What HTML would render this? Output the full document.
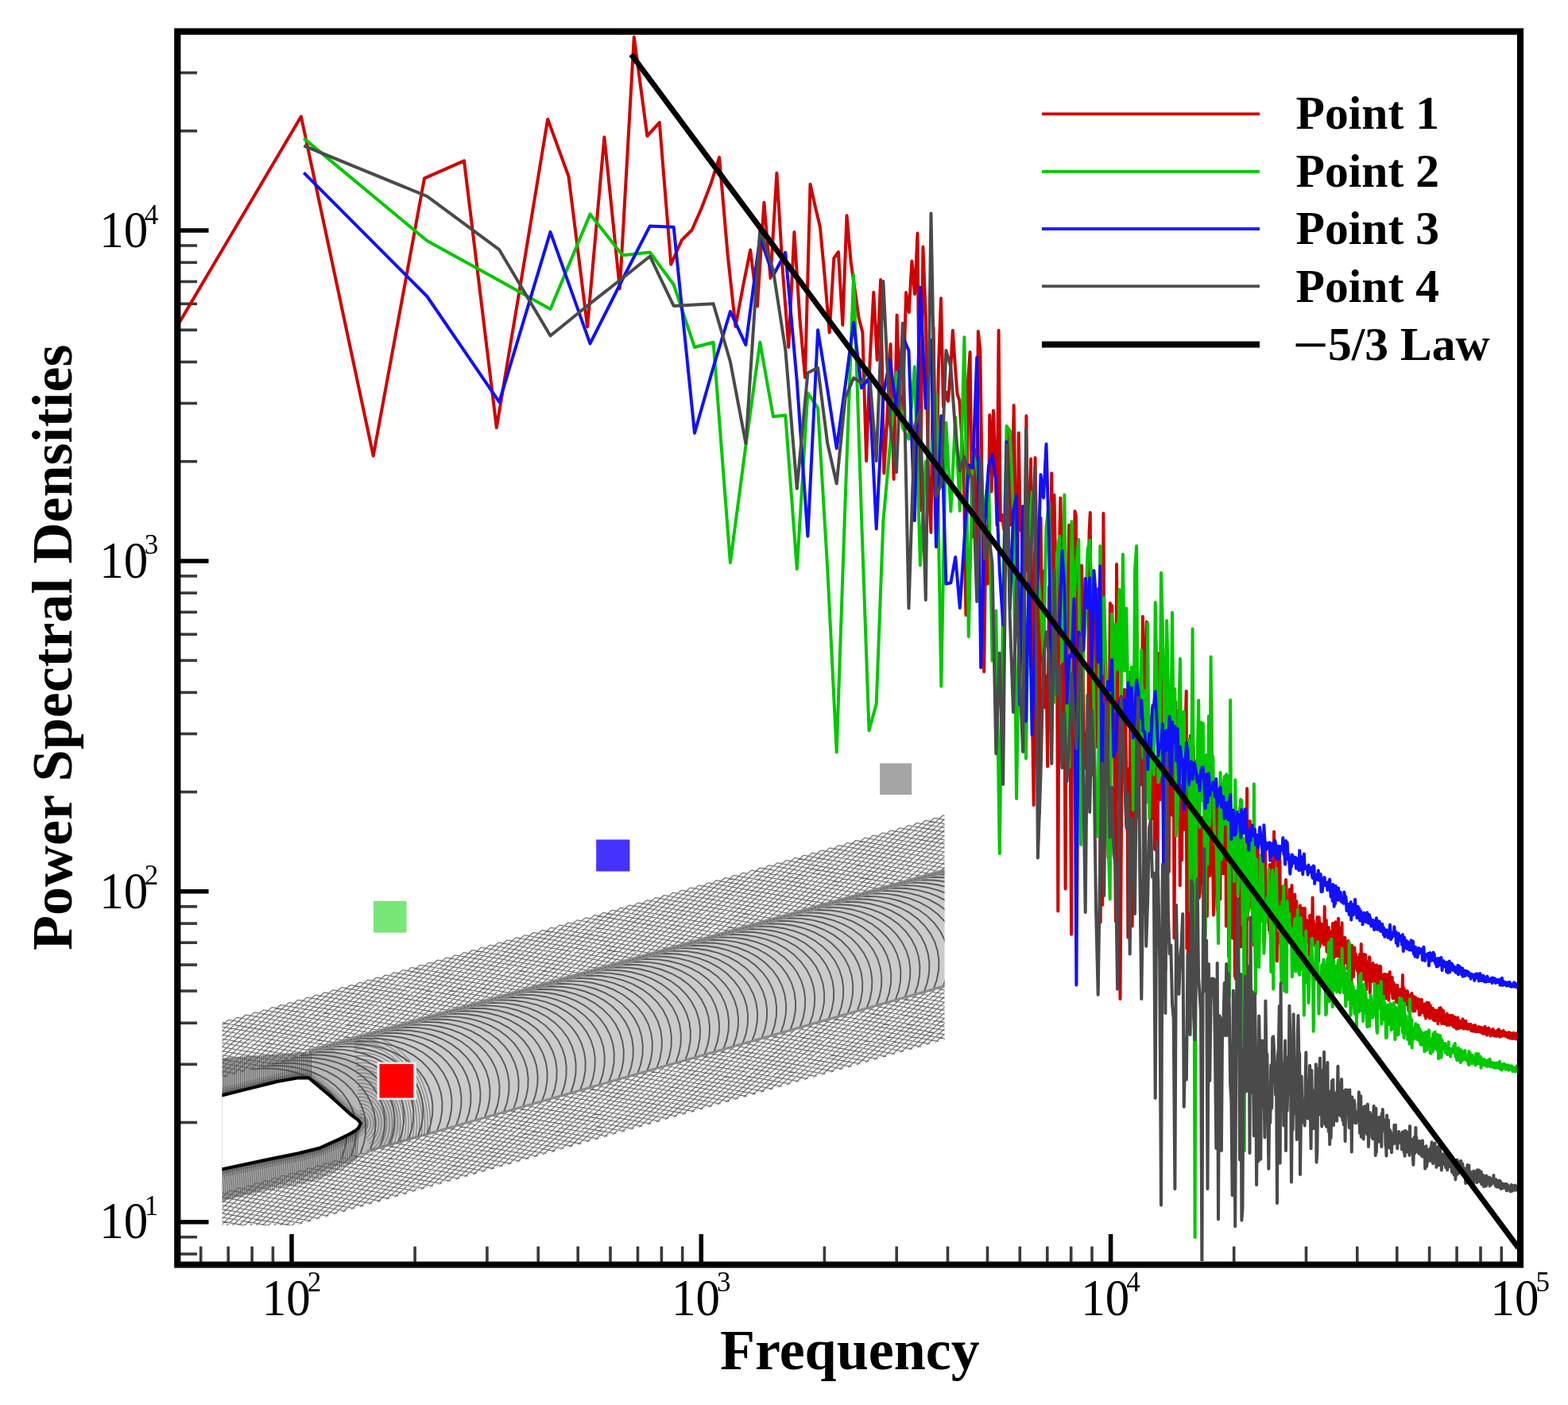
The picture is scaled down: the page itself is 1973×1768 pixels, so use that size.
<!DOCTYPE html>
<html><head><meta charset="utf-8"><title>Power Spectral Densities</title>
<style>html,body{margin:0;padding:0;background:#fff;}svg{display:block;}</style></head>
<body><svg xmlns="http://www.w3.org/2000/svg" width="1973" height="1768" viewBox="0 0 1973 1768">
<g>
<rect width="1973" height="1768" fill="#fff"/>
<line x1="223.3" y1="1578.0" x2="248" y2="1578.0" stroke="#3a3a3a" stroke-width="3.6"/>
<line x1="223.3" y1="1556.7" x2="248" y2="1556.7" stroke="#3a3a3a" stroke-width="3.6"/>
<line x1="223.3" y1="1537.7" x2="262.5" y2="1537.7" stroke="#000" stroke-width="5.5"/>
<line x1="223.3" y1="1412.5" x2="248" y2="1412.5" stroke="#3a3a3a" stroke-width="3.6"/>
<line x1="223.3" y1="1339.3" x2="248" y2="1339.3" stroke="#3a3a3a" stroke-width="3.6"/>
<line x1="223.3" y1="1287.3" x2="248" y2="1287.3" stroke="#3a3a3a" stroke-width="3.6"/>
<line x1="223.3" y1="1247.0" x2="248" y2="1247.0" stroke="#3a3a3a" stroke-width="3.6"/>
<line x1="223.3" y1="1214.1" x2="248" y2="1214.1" stroke="#3a3a3a" stroke-width="3.6"/>
<line x1="223.3" y1="1186.2" x2="248" y2="1186.2" stroke="#3a3a3a" stroke-width="3.6"/>
<line x1="223.3" y1="1162.1" x2="248" y2="1162.1" stroke="#3a3a3a" stroke-width="3.6"/>
<line x1="223.3" y1="1140.8" x2="248" y2="1140.8" stroke="#3a3a3a" stroke-width="3.6"/>
<line x1="223.3" y1="1121.8" x2="262.5" y2="1121.8" stroke="#000" stroke-width="5.5"/>
<line x1="223.3" y1="996.6" x2="248" y2="996.6" stroke="#3a3a3a" stroke-width="3.6"/>
<line x1="223.3" y1="923.4" x2="248" y2="923.4" stroke="#3a3a3a" stroke-width="3.6"/>
<line x1="223.3" y1="871.4" x2="248" y2="871.4" stroke="#3a3a3a" stroke-width="3.6"/>
<line x1="223.3" y1="831.1" x2="248" y2="831.1" stroke="#3a3a3a" stroke-width="3.6"/>
<line x1="223.3" y1="798.2" x2="248" y2="798.2" stroke="#3a3a3a" stroke-width="3.6"/>
<line x1="223.3" y1="770.3" x2="248" y2="770.3" stroke="#3a3a3a" stroke-width="3.6"/>
<line x1="223.3" y1="746.2" x2="248" y2="746.2" stroke="#3a3a3a" stroke-width="3.6"/>
<line x1="223.3" y1="724.9" x2="248" y2="724.9" stroke="#3a3a3a" stroke-width="3.6"/>
<line x1="223.3" y1="705.9" x2="262.5" y2="705.9" stroke="#000" stroke-width="5.5"/>
<line x1="223.3" y1="580.7" x2="248" y2="580.7" stroke="#3a3a3a" stroke-width="3.6"/>
<line x1="223.3" y1="507.5" x2="248" y2="507.5" stroke="#3a3a3a" stroke-width="3.6"/>
<line x1="223.3" y1="455.5" x2="248" y2="455.5" stroke="#3a3a3a" stroke-width="3.6"/>
<line x1="223.3" y1="415.2" x2="248" y2="415.2" stroke="#3a3a3a" stroke-width="3.6"/>
<line x1="223.3" y1="382.3" x2="248" y2="382.3" stroke="#3a3a3a" stroke-width="3.6"/>
<line x1="223.3" y1="354.4" x2="248" y2="354.4" stroke="#3a3a3a" stroke-width="3.6"/>
<line x1="223.3" y1="330.3" x2="248" y2="330.3" stroke="#3a3a3a" stroke-width="3.6"/>
<line x1="223.3" y1="309.0" x2="248" y2="309.0" stroke="#3a3a3a" stroke-width="3.6"/>
<line x1="223.3" y1="290.0" x2="262.5" y2="290.0" stroke="#000" stroke-width="5.5"/>
<line x1="223.3" y1="164.8" x2="248" y2="164.8" stroke="#3a3a3a" stroke-width="3.6"/>
<line x1="223.3" y1="91.6" x2="248" y2="91.6" stroke="#3a3a3a" stroke-width="3.6"/>
<line x1="252.7" y1="1591.5" x2="252.7" y2="1568.5" stroke="#3a3a3a" stroke-width="3.6"/>
<line x1="287.2" y1="1591.5" x2="287.2" y2="1568.5" stroke="#3a3a3a" stroke-width="3.6"/>
<line x1="317.1" y1="1591.5" x2="317.1" y2="1568.5" stroke="#3a3a3a" stroke-width="3.6"/>
<line x1="343.4" y1="1591.5" x2="343.4" y2="1568.5" stroke="#3a3a3a" stroke-width="3.6"/>
<line x1="367.0" y1="1591.5" x2="367.0" y2="1553" stroke="#000" stroke-width="5.5"/>
<line x1="522.1" y1="1591.5" x2="522.1" y2="1568.5" stroke="#3a3a3a" stroke-width="3.6"/>
<line x1="612.9" y1="1591.5" x2="612.9" y2="1568.5" stroke="#3a3a3a" stroke-width="3.6"/>
<line x1="677.2" y1="1591.5" x2="677.2" y2="1568.5" stroke="#3a3a3a" stroke-width="3.6"/>
<line x1="727.2" y1="1591.5" x2="727.2" y2="1568.5" stroke="#3a3a3a" stroke-width="3.6"/>
<line x1="768.0" y1="1591.5" x2="768.0" y2="1568.5" stroke="#3a3a3a" stroke-width="3.6"/>
<line x1="802.5" y1="1591.5" x2="802.5" y2="1568.5" stroke="#3a3a3a" stroke-width="3.6"/>
<line x1="832.4" y1="1591.5" x2="832.4" y2="1568.5" stroke="#3a3a3a" stroke-width="3.6"/>
<line x1="858.7" y1="1591.5" x2="858.7" y2="1568.5" stroke="#3a3a3a" stroke-width="3.6"/>
<line x1="882.3" y1="1591.5" x2="882.3" y2="1553" stroke="#000" stroke-width="5.5"/>
<line x1="1037.4" y1="1591.5" x2="1037.4" y2="1568.5" stroke="#3a3a3a" stroke-width="3.6"/>
<line x1="1128.2" y1="1591.5" x2="1128.2" y2="1568.5" stroke="#3a3a3a" stroke-width="3.6"/>
<line x1="1192.5" y1="1591.5" x2="1192.5" y2="1568.5" stroke="#3a3a3a" stroke-width="3.6"/>
<line x1="1242.5" y1="1591.5" x2="1242.5" y2="1568.5" stroke="#3a3a3a" stroke-width="3.6"/>
<line x1="1283.3" y1="1591.5" x2="1283.3" y2="1568.5" stroke="#3a3a3a" stroke-width="3.6"/>
<line x1="1317.8" y1="1591.5" x2="1317.8" y2="1568.5" stroke="#3a3a3a" stroke-width="3.6"/>
<line x1="1347.7" y1="1591.5" x2="1347.7" y2="1568.5" stroke="#3a3a3a" stroke-width="3.6"/>
<line x1="1374.0" y1="1591.5" x2="1374.0" y2="1568.5" stroke="#3a3a3a" stroke-width="3.6"/>
<line x1="1397.6" y1="1591.5" x2="1397.6" y2="1553" stroke="#000" stroke-width="5.5"/>
<line x1="1552.7" y1="1591.5" x2="1552.7" y2="1568.5" stroke="#3a3a3a" stroke-width="3.6"/>
<line x1="1643.5" y1="1591.5" x2="1643.5" y2="1568.5" stroke="#3a3a3a" stroke-width="3.6"/>
<line x1="1707.8" y1="1591.5" x2="1707.8" y2="1568.5" stroke="#3a3a3a" stroke-width="3.6"/>
<line x1="1757.8" y1="1591.5" x2="1757.8" y2="1568.5" stroke="#3a3a3a" stroke-width="3.6"/>
<line x1="1798.6" y1="1591.5" x2="1798.6" y2="1568.5" stroke="#3a3a3a" stroke-width="3.6"/>
<line x1="1833.1" y1="1591.5" x2="1833.1" y2="1568.5" stroke="#3a3a3a" stroke-width="3.6"/>
<line x1="1863.0" y1="1591.5" x2="1863.0" y2="1568.5" stroke="#3a3a3a" stroke-width="3.6"/>
<line x1="1889.3" y1="1591.5" x2="1889.3" y2="1568.5" stroke="#3a3a3a" stroke-width="3.6"/>
<defs><clipPath id="mc"><rect x="279.5" y="1000" width="909" height="542"/></clipPath></defs>
<g clip-path="url(#mc)">
<polygon points="183.3,1313.0 1202.5,1021.5 1277.3,1283.0 258.1,1574.5" fill="#f2f2f2"/>
<polygon points="336.7,1339.9 1221.2,1086.9 1259.5,1220.5 432.6,1457.0" fill="#cbcbcb"/>
<polygon points="270.0,1331.8 279.5,1331.4 388.6,1323.5 420.0,1322.0 470.0,1345.0 500.0,1385.0 505.0,1420.0 490.0,1440.0 440.0,1462.0 380.0,1482.0 320.0,1500.0 280.0,1512.0 270.0,1515.0" fill="#b8b8b8"/>
<path d="M-8.9 1368.0 L143.8 1395.0 M-8.9 1368.0 L-124.3 1471.7 M2.0 1364.9 L154.8 1391.9 M2.0 1364.9 L-113.3 1468.6 M13.0 1361.7 L165.7 1388.8 M13.0 1361.7 L-102.4 1465.4 M24.0 1358.6 L176.7 1385.6 M24.0 1358.6 L-91.4 1462.3 M34.9 1355.5 L187.7 1382.5 M34.9 1355.5 L-80.4 1459.2 M45.9 1352.3 L198.6 1379.4 M45.9 1352.3 L-69.5 1456.0 M56.9 1349.2 L209.6 1376.2 M56.9 1349.2 L-58.5 1452.9 M67.8 1346.0 L220.6 1373.1 M67.8 1346.0 L-47.5 1449.8 M78.8 1342.9 L231.5 1369.9 M78.8 1342.9 L-36.6 1446.6 M89.8 1339.8 L242.5 1366.8 M89.8 1339.8 L-25.6 1443.5 M100.7 1336.6 L253.5 1363.7 M100.7 1336.6 L-14.6 1440.4 M111.7 1333.5 L264.4 1360.5 M111.7 1333.5 L-3.7 1437.2 M122.7 1330.4 L275.4 1357.4 M122.7 1330.4 L7.3 1434.1 M133.6 1327.2 L286.4 1354.3 M133.6 1327.2 L18.3 1430.9 M144.6 1324.1 L297.3 1351.1 M144.6 1324.1 L29.2 1427.8 M155.6 1321.0 L308.3 1348.0 M155.6 1321.0 L40.2 1424.7 M166.5 1317.8 L319.3 1344.9 M166.5 1317.8 L51.2 1421.5 M177.5 1314.7 L330.2 1341.7 M177.5 1314.7 L62.1 1418.4 M188.5 1311.5 L341.2 1338.6 M188.5 1311.5 L73.1 1415.3 M199.4 1308.4 L352.2 1335.4 M199.4 1308.4 L84.1 1412.1 M210.4 1305.3 L363.1 1332.3 M210.4 1305.3 L95.0 1409.0 M221.4 1302.1 L374.1 1329.2 M221.4 1302.1 L106.0 1405.9 M232.3 1299.0 L385.1 1326.0 M232.3 1299.0 L117.0 1402.7 M243.3 1295.9 L396.0 1322.9 M243.3 1295.9 L127.9 1399.6 M254.3 1292.7 L407.0 1319.8 M254.3 1292.7 L138.9 1396.4 M265.2 1289.6 L418.0 1316.6 M265.2 1289.6 L149.9 1393.3 M276.2 1286.4 L428.9 1313.5 M276.2 1286.4 L160.8 1390.2 M287.2 1283.3 L439.9 1310.4 M287.2 1283.3 L171.8 1387.0 M298.1 1280.2 L450.9 1307.2 M298.1 1280.2 L182.8 1383.9 M309.1 1277.0 L461.8 1304.1 M309.1 1277.0 L193.7 1380.8 M320.1 1273.9 L472.8 1300.9 M320.1 1273.9 L204.7 1377.6 M331.0 1270.8 L483.8 1297.8 M331.0 1270.8 L215.7 1374.5 M342.0 1267.6 L494.7 1294.7 M342.0 1267.6 L226.6 1371.4 M353.0 1264.5 L505.7 1291.5 M353.0 1264.5 L237.6 1368.2 M363.9 1261.4 L516.7 1288.4 M363.9 1261.4 L248.6 1365.1 M374.9 1258.2 L527.6 1285.3 M374.9 1258.2 L259.5 1361.9 M385.9 1255.1 L538.6 1282.1 M385.9 1255.1 L270.5 1358.8 M396.8 1251.9 L549.6 1279.0 M396.8 1251.9 L281.5 1355.7 M407.8 1248.8 L560.5 1275.9 M407.8 1248.8 L292.4 1352.5 M418.8 1245.7 L571.5 1272.7 M418.8 1245.7 L303.4 1349.4 M429.7 1242.5 L582.5 1269.6 M429.7 1242.5 L314.4 1346.3 M440.7 1239.4 L593.4 1266.4 M440.7 1239.4 L325.3 1343.1 M451.7 1236.3 L604.4 1263.3 M451.7 1236.3 L336.3 1340.0 M462.6 1233.1 L615.4 1260.2 M462.6 1233.1 L347.3 1336.8 M473.6 1230.0 L626.3 1257.0 M473.6 1230.0 L358.2 1333.7 M484.6 1226.9 L637.3 1253.9 M484.6 1226.9 L369.2 1330.6 M495.5 1223.7 L648.3 1250.8 M495.5 1223.7 L380.2 1327.4 M506.5 1220.6 L659.2 1247.6 M506.5 1220.6 L391.1 1324.3 M517.5 1217.4 L670.2 1244.5 M517.5 1217.4 L402.1 1321.2 M528.4 1214.3 L681.2 1241.3 M528.4 1214.3 L413.1 1318.0 M539.4 1211.2 L692.1 1238.2 M539.4 1211.2 L424.0 1314.9 M550.4 1208.0 L703.1 1235.1 M550.4 1208.0 L435.0 1311.8 M561.3 1204.9 L714.1 1231.9 M561.3 1204.9 L446.0 1308.6 M572.3 1201.8 L725.0 1228.8 M572.3 1201.8 L456.9 1305.5 M583.3 1198.6 L736.0 1225.7 M583.3 1198.6 L467.9 1302.3 M594.2 1195.5 L747.0 1222.5 M594.2 1195.5 L478.9 1299.2 M605.2 1192.3 L757.9 1219.4 M605.2 1192.3 L489.8 1296.1 M616.2 1189.2 L768.9 1216.3 M616.2 1189.2 L500.8 1292.9 M627.1 1186.1 L779.9 1213.1 M627.1 1186.1 L511.8 1289.8 M638.1 1182.9 L790.8 1210.0 M638.1 1182.9 L522.7 1286.7 M649.1 1179.8 L801.8 1206.8 M649.1 1179.8 L533.7 1283.5 M660.0 1176.7 L812.8 1203.7 M660.0 1176.7 L544.7 1280.4 M671.0 1173.5 L823.7 1200.6 M671.0 1173.5 L555.6 1277.3 M682.0 1170.4 L834.7 1197.4 M682.0 1170.4 L566.6 1274.1 M692.9 1167.3 L845.7 1194.3 M692.9 1167.3 L577.6 1271.0 M703.9 1164.1 L856.6 1191.2 M703.9 1164.1 L588.5 1267.8 M714.9 1161.0 L867.6 1188.0 M714.9 1161.0 L599.5 1264.7 M725.8 1157.8 L878.6 1184.9 M725.8 1157.8 L610.5 1261.6 M736.8 1154.7 L889.5 1181.8 M736.8 1154.7 L621.4 1258.4 M747.8 1151.6 L900.5 1178.6 M747.8 1151.6 L632.4 1255.3 M758.7 1148.4 L911.5 1175.5 M758.7 1148.4 L643.4 1252.2 M769.7 1145.3 L922.4 1172.3 M769.7 1145.3 L654.3 1249.0 M780.7 1142.2 L933.4 1169.2 M780.7 1142.2 L665.3 1245.9 M791.6 1139.0 L944.4 1166.1 M791.6 1139.0 L676.3 1242.8 M802.6 1135.9 L955.3 1162.9 M802.6 1135.9 L687.2 1239.6 M813.6 1132.8 L966.3 1159.8 M813.6 1132.8 L698.2 1236.5 M824.5 1129.6 L977.3 1156.7 M824.5 1129.6 L709.2 1233.3 M835.5 1126.5 L988.2 1153.5 M835.5 1126.5 L720.1 1230.2 M846.5 1123.3 L999.2 1150.4 M846.5 1123.3 L731.1 1227.1 M857.4 1120.2 L1010.2 1147.2 M857.4 1120.2 L742.1 1223.9 M868.4 1117.1 L1021.1 1144.1 M868.4 1117.1 L753.0 1220.8 M879.4 1113.9 L1032.1 1141.0 M879.4 1113.9 L764.0 1217.7 M890.3 1110.8 L1043.1 1137.8 M890.3 1110.8 L775.0 1214.5 M901.3 1107.7 L1054.0 1134.7 M901.3 1107.7 L785.9 1211.4 M912.3 1104.5 L1065.0 1131.6 M912.3 1104.5 L796.9 1208.2 M923.2 1101.4 L1076.0 1128.4 M923.2 1101.4 L807.9 1205.1 M934.2 1098.3 L1086.9 1125.3 M934.2 1098.3 L818.8 1202.0 M945.2 1095.1 L1097.9 1122.2 M945.2 1095.1 L829.8 1198.8 M956.1 1092.0 L1108.9 1119.0 M956.1 1092.0 L840.8 1195.7 M967.1 1088.8 L1119.8 1115.9 M967.1 1088.8 L851.7 1192.6 M978.1 1085.7 L1130.8 1112.7 M978.1 1085.7 L862.7 1189.4 M989.0 1082.6 L1141.8 1109.6 M989.0 1082.6 L873.7 1186.3 M1000.0 1079.4 L1152.7 1106.5 M1000.0 1079.4 L884.6 1183.2 M1011.0 1076.3 L1163.7 1103.3 M1011.0 1076.3 L895.6 1180.0 M1021.9 1073.2 L1174.7 1100.2 M1021.9 1073.2 L906.6 1176.9 M1032.9 1070.0 L1185.6 1097.1 M1032.9 1070.0 L917.5 1173.7 M1043.9 1066.9 L1196.6 1093.9 M1043.9 1066.9 L928.5 1170.6 M1054.8 1063.7 L1207.6 1090.8 M1054.8 1063.7 L939.5 1167.5 M1065.8 1060.6 L1218.5 1087.7 M1065.8 1060.6 L950.4 1164.3 M1076.8 1057.5 L1229.5 1084.5 M1076.8 1057.5 L961.4 1161.2 M1087.7 1054.3 L1240.5 1081.4 M1087.7 1054.3 L972.4 1158.1 M1098.7 1051.2 L1251.4 1078.2 M1098.7 1051.2 L983.3 1154.9 M1109.7 1048.1 L1262.4 1075.1 M1109.7 1048.1 L994.3 1151.8 M1120.6 1044.9 L1273.4 1072.0 M1120.6 1044.9 L1005.3 1148.7 M1131.6 1041.8 L1284.3 1068.8 M1131.6 1041.8 L1016.2 1145.5 M1142.6 1038.7 L1295.3 1065.7 M1142.6 1038.7 L1027.2 1142.4 M1153.5 1035.5 L1306.3 1062.6 M1153.5 1035.5 L1038.2 1139.2 M1164.5 1032.4 L1317.2 1059.4 M1164.5 1032.4 L1049.1 1136.1 M1175.5 1029.2 L1328.2 1056.3 M1175.5 1029.2 L1060.1 1133.0 M1186.4 1026.1 L1339.2 1053.2 M1186.4 1026.1 L1071.1 1129.8 M1197.4 1023.0 L1350.1 1050.0 M1197.4 1023.0 L1082.0 1126.7 M1208.4 1019.8 L1361.1 1046.9 M1208.4 1019.8 L1093.0 1123.6 M1219.3 1016.7 L1372.1 1043.7 M1219.3 1016.7 L1104.0 1120.4 M1230.3 1013.6 L1383.0 1040.6 M1230.3 1013.6 L1114.9 1117.3 M1241.3 1010.4 L1394.0 1037.5 M1241.3 1010.4 L1125.9 1114.1 M1252.2 1007.3 L1405.0 1034.3 M1252.2 1007.3 L1136.9 1111.0 M1263.2 1004.2 L1415.9 1031.2 M1263.2 1004.2 L1147.8 1107.9 M1274.2 1001.0 L1426.9 1028.1 M1274.2 1001.0 L1158.8 1104.7 M1285.1 997.9 L1437.9 1024.9 M1285.1 997.9 L1169.8 1101.6 M1296.1 994.7 L1448.8 1021.8 M1296.1 994.7 L1180.7 1098.5 M1307.1 991.6 L1459.8 1018.6 M1307.1 991.6 L1191.7 1095.3 M1318.0 988.5 L1470.8 1015.5 M1318.0 988.5 L1202.7 1092.2 M1329.0 985.3 L1481.7 1012.4 M1329.0 985.3 L1213.6 1089.1 M1340.0 982.2 L1492.7 1009.2 M1340.0 982.2 L1224.6 1085.9 M1350.9 979.1 L1503.7 1006.1 M1350.9 979.1 L1235.6 1082.8 M1361.9 975.9 L1514.6 1003.0 M1361.9 975.9 L1246.5 1079.6 M1372.9 972.8 L1525.6 999.8 M1372.9 972.8 L1257.5 1076.5 M1383.8 969.7 L1536.6 996.7 M1383.8 969.7 L1268.5 1073.4 M1394.8 966.5 L1547.5 993.6 M1394.8 966.5 L1279.4 1070.2" stroke="#666" stroke-width="1.05" fill="none"/>
<path d="M48.0 1567.0 L194.0 1592.9 M48.0 1567.0 L-62.3 1666.2 M58.9 1563.9 L205.0 1589.7 M58.9 1563.9 L-51.3 1663.0 M69.9 1560.8 L215.9 1586.6 M69.9 1560.8 L-40.4 1659.9 M80.9 1557.6 L226.9 1583.5 M80.9 1557.6 L-29.4 1656.8 M91.8 1554.5 L237.9 1580.3 M91.8 1554.5 L-18.4 1653.6 M102.8 1551.3 L248.8 1577.2 M102.8 1551.3 L-7.5 1650.5 M113.8 1548.2 L259.8 1574.1 M113.8 1548.2 L3.5 1647.4 M124.7 1545.1 L270.8 1570.9 M124.7 1545.1 L14.5 1644.2 M135.7 1541.9 L281.7 1567.8 M135.7 1541.9 L25.4 1641.1 M146.7 1538.8 L292.7 1564.6 M146.7 1538.8 L36.4 1637.9 M157.6 1535.7 L303.7 1561.5 M157.6 1535.7 L47.4 1634.8 M168.6 1532.5 L314.6 1558.4 M168.6 1532.5 L58.3 1631.7 M179.6 1529.4 L325.6 1555.2 M179.6 1529.4 L69.3 1628.5 M190.5 1526.3 L336.6 1552.1 M190.5 1526.3 L80.3 1625.4 M201.5 1523.1 L347.5 1549.0 M201.5 1523.1 L91.2 1622.3 M212.5 1520.0 L358.5 1545.8 M212.5 1520.0 L102.2 1619.1 M223.4 1516.8 L369.5 1542.7 M223.4 1516.8 L113.2 1616.0 M234.4 1513.7 L380.4 1539.6 M234.4 1513.7 L124.1 1612.9 M245.4 1510.6 L391.4 1536.4 M245.4 1510.6 L135.1 1609.7 M256.3 1507.4 L402.4 1533.3 M256.3 1507.4 L146.1 1606.6 M267.3 1504.3 L413.3 1530.1 M267.3 1504.3 L157.0 1603.4 M278.3 1501.2 L424.3 1527.0 M278.3 1501.2 L168.0 1600.3 M289.2 1498.0 L435.3 1523.9 M289.2 1498.0 L179.0 1597.2 M300.2 1494.9 L446.2 1520.7 M300.2 1494.9 L189.9 1594.0 M311.2 1491.8 L457.2 1517.6 M311.2 1491.8 L200.9 1590.9 M322.1 1488.6 L468.2 1514.5 M322.1 1488.6 L211.9 1587.8 M333.1 1485.5 L479.1 1511.3 M333.1 1485.5 L222.8 1584.6 M344.1 1482.3 L490.1 1508.2 M344.1 1482.3 L233.8 1581.5 M355.0 1479.2 L501.1 1505.1 M355.0 1479.2 L244.8 1578.4 M366.0 1476.1 L512.0 1501.9 M366.0 1476.1 L255.7 1575.2 M377.0 1472.9 L523.0 1498.8 M377.0 1472.9 L266.7 1572.1 M387.9 1469.8 L534.0 1495.6 M387.9 1469.8 L277.7 1568.9 M398.9 1466.7 L544.9 1492.5 M398.9 1466.7 L288.6 1565.8 M409.9 1463.5 L555.9 1489.4 M409.9 1463.5 L299.6 1562.7 M420.8 1460.4 L566.9 1486.2 M420.8 1460.4 L310.6 1559.5 M431.8 1457.2 L577.8 1483.1 M431.8 1457.2 L321.5 1556.4 M442.8 1454.1 L588.8 1480.0 M442.8 1454.1 L332.5 1553.3 M453.7 1451.0 L599.8 1476.8 M453.7 1451.0 L343.5 1550.1 M464.7 1447.8 L610.7 1473.7 M464.7 1447.8 L354.4 1547.0 M475.7 1444.7 L621.7 1470.6 M475.7 1444.7 L365.4 1543.8 M486.6 1441.6 L632.7 1467.4 M486.6 1441.6 L376.4 1540.7 M497.6 1438.4 L643.6 1464.3 M497.6 1438.4 L387.3 1537.6 M508.6 1435.3 L654.6 1461.1 M508.6 1435.3 L398.3 1534.4 M519.5 1432.2 L665.6 1458.0 M519.5 1432.2 L409.3 1531.3 M530.5 1429.0 L676.5 1454.9 M530.5 1429.0 L420.2 1528.2 M541.5 1425.9 L687.5 1451.7 M541.5 1425.9 L431.2 1525.0 M552.4 1422.7 L698.5 1448.6 M552.4 1422.7 L442.2 1521.9 M563.4 1419.6 L709.4 1445.5 M563.4 1419.6 L453.1 1518.8 M574.4 1416.5 L720.4 1442.3 M574.4 1416.5 L464.1 1515.6 M585.3 1413.3 L731.4 1439.2 M585.3 1413.3 L475.1 1512.5 M596.3 1410.2 L742.3 1436.0 M596.3 1410.2 L486.0 1509.3 M607.3 1407.1 L753.3 1432.9 M607.3 1407.1 L497.0 1506.2 M618.2 1403.9 L764.3 1429.8 M618.2 1403.9 L508.0 1503.1 M629.2 1400.8 L775.2 1426.6 M629.2 1400.8 L518.9 1499.9 M640.2 1397.7 L786.2 1423.5 M640.2 1397.7 L529.9 1496.8 M651.1 1394.5 L797.2 1420.4 M651.1 1394.5 L540.9 1493.7 M662.1 1391.4 L808.1 1417.2 M662.1 1391.4 L551.8 1490.5 M673.1 1388.2 L819.1 1414.1 M673.1 1388.2 L562.8 1487.4 M684.0 1385.1 L830.1 1411.0 M684.0 1385.1 L573.8 1484.3 M695.0 1382.0 L841.0 1407.8 M695.0 1382.0 L584.7 1481.1 M706.0 1378.8 L852.0 1404.7 M706.0 1378.8 L595.7 1478.0 M716.9 1375.7 L863.0 1401.5 M716.9 1375.7 L606.7 1474.8 M727.9 1372.6 L873.9 1398.4 M727.9 1372.6 L617.6 1471.7 M738.9 1369.4 L884.9 1395.3 M738.9 1369.4 L628.6 1468.6 M749.8 1366.3 L895.9 1392.1 M749.8 1366.3 L639.6 1465.4 M760.8 1363.2 L906.8 1389.0 M760.8 1363.2 L650.5 1462.3 M771.8 1360.0 L917.8 1385.9 M771.8 1360.0 L661.5 1459.2 M782.7 1356.9 L928.8 1382.7 M782.7 1356.9 L672.5 1456.0 M793.7 1353.7 L939.7 1379.6 M793.7 1353.7 L683.4 1452.9 M804.7 1350.6 L950.7 1376.5 M804.7 1350.6 L694.4 1449.8 M815.6 1347.5 L961.7 1373.3 M815.6 1347.5 L705.4 1446.6 M826.6 1344.3 L972.6 1370.2 M826.6 1344.3 L716.3 1443.5 M837.6 1341.2 L983.6 1367.0 M837.6 1341.2 L727.3 1440.3 M848.5 1338.1 L994.6 1363.9 M848.5 1338.1 L738.3 1437.2 M859.5 1334.9 L1005.5 1360.8 M859.5 1334.9 L749.2 1434.1 M870.5 1331.8 L1016.5 1357.6 M870.5 1331.8 L760.2 1430.9 M881.4 1328.6 L1027.5 1354.5 M881.4 1328.6 L771.2 1427.8 M892.4 1325.5 L1038.4 1351.4 M892.4 1325.5 L782.1 1424.7 M903.4 1322.4 L1049.4 1348.2 M903.4 1322.4 L793.1 1421.5 M914.3 1319.2 L1060.4 1345.1 M914.3 1319.2 L804.1 1418.4 M925.3 1316.1 L1071.3 1341.9 M925.3 1316.1 L815.0 1415.2 M936.3 1313.0 L1082.3 1338.8 M936.3 1313.0 L826.0 1412.1 M947.2 1309.8 L1093.3 1335.7 M947.2 1309.8 L837.0 1409.0 M958.2 1306.7 L1104.2 1332.5 M958.2 1306.7 L848.0 1405.8 M969.2 1303.6 L1115.2 1329.4 M969.2 1303.6 L858.9 1402.7 M980.1 1300.4 L1126.2 1326.3 M980.1 1300.4 L869.9 1399.6 M991.1 1297.3 L1137.1 1323.1 M991.1 1297.3 L880.9 1396.4 M1002.1 1294.1 L1148.1 1320.0 M1002.1 1294.1 L891.8 1393.3 M1013.0 1291.0 L1159.1 1316.9 M1013.0 1291.0 L902.8 1390.2 M1024.0 1287.9 L1170.0 1313.7 M1024.0 1287.9 L913.8 1387.0 M1035.0 1284.7 L1181.0 1310.6 M1035.0 1284.7 L924.7 1383.9 M1045.9 1281.6 L1192.0 1307.4 M1045.9 1281.6 L935.7 1380.7 M1056.9 1278.5 L1202.9 1304.3 M1056.9 1278.5 L946.7 1377.6 M1067.9 1275.3 L1213.9 1301.2 M1067.9 1275.3 L957.6 1374.5 M1078.8 1272.2 L1224.9 1298.0 M1078.8 1272.2 L968.6 1371.3 M1089.8 1269.1 L1235.8 1294.9 M1089.8 1269.1 L979.6 1368.2 M1100.8 1265.9 L1246.8 1291.8 M1100.8 1265.9 L990.5 1365.1 M1111.7 1262.8 L1257.8 1288.6 M1111.7 1262.8 L1001.5 1361.9 M1122.7 1259.6 L1268.7 1285.5 M1122.7 1259.6 L1012.5 1358.8 M1133.7 1256.5 L1279.7 1282.4 M1133.7 1256.5 L1023.4 1355.7 M1144.6 1253.4 L1290.7 1279.2 M1144.6 1253.4 L1034.4 1352.5 M1155.6 1250.2 L1301.6 1276.1 M1155.6 1250.2 L1045.4 1349.4 M1166.6 1247.1 L1312.6 1272.9 M1166.6 1247.1 L1056.3 1346.2 M1177.5 1244.0 L1323.6 1269.8 M1177.5 1244.0 L1067.3 1343.1 M1188.5 1240.8 L1334.5 1266.7 M1188.5 1240.8 L1078.3 1340.0 M1199.5 1237.7 L1345.5 1263.5 M1199.5 1237.7 L1089.2 1336.8 M1210.4 1234.5 L1356.5 1260.4 M1210.4 1234.5 L1100.2 1333.7 M1221.4 1231.4 L1367.4 1257.3 M1221.4 1231.4 L1111.2 1330.6 M1232.4 1228.3 L1378.4 1254.1 M1232.4 1228.3 L1122.1 1327.4 M1243.3 1225.1 L1389.4 1251.0 M1243.3 1225.1 L1133.1 1324.3 M1254.3 1222.0 L1400.3 1247.9 M1254.3 1222.0 L1144.1 1321.1 M1265.3 1218.9 L1411.3 1244.7 M1265.3 1218.9 L1155.0 1318.0 M1276.2 1215.7 L1422.3 1241.6 M1276.2 1215.7 L1166.0 1314.9 M1287.2 1212.6 L1433.2 1238.4 M1287.2 1212.6 L1177.0 1311.7 M1298.2 1209.5 L1444.2 1235.3 M1298.2 1209.5 L1187.9 1308.6 M1309.1 1206.3 L1455.2 1232.2 M1309.1 1206.3 L1198.9 1305.5 M1320.1 1203.2 L1466.1 1229.0 M1320.1 1203.2 L1209.9 1302.3 M1331.1 1200.0 L1477.1 1225.9 M1331.1 1200.0 L1220.8 1299.2 M1342.0 1196.9 L1488.1 1222.8 M1342.0 1196.9 L1231.8 1296.1 M1353.0 1193.8 L1499.0 1219.6 M1353.0 1193.8 L1242.8 1292.9 M1364.0 1190.6 L1510.0 1216.5 M1364.0 1190.6 L1253.7 1289.8 M1374.9 1187.5 L1521.0 1213.3 M1374.9 1187.5 L1264.7 1286.6 M1385.9 1184.4 L1531.9 1210.2 M1385.9 1184.4 L1275.7 1283.5 M1396.9 1181.2 L1542.9 1207.1 M1396.9 1181.2 L1286.6 1280.4 M1407.9 1178.1 L1553.9 1203.9 M1407.9 1178.1 L1297.6 1277.2 M1418.8 1175.0 L1564.8 1200.8 M1418.8 1175.0 L1308.6 1274.1 M1429.8 1171.8 L1575.8 1197.7 M1429.8 1171.8 L1319.5 1271.0 M1440.8 1168.7 L1586.8 1194.5 M1440.8 1168.7 L1330.5 1267.8 M1451.7 1165.5 L1597.7 1191.4 M1451.7 1165.5 L1341.5 1264.7" stroke="#666" stroke-width="1.05" fill="none"/>
<path d="M317.4 1345.4 L332.5 1344.4 L347.4 1344.9 L361.7 1347.0 L375.4 1350.6 L388.1 1355.6 L399.7 1362.0 L410.0 1369.7 L418.7 1378.5 L425.8 1388.2 L431.2 1398.8 L434.7 1410.1 L436.3 1421.8 L435.9 1433.8 L433.7 1445.9 L429.5 1457.9 M329.4 1341.9 L344.5 1340.9 L359.4 1341.5 L373.8 1343.6 L387.4 1347.2 L400.1 1352.2 L411.7 1358.6 L422.0 1366.2 L430.7 1375.0 L437.8 1384.8 L443.2 1395.4 L446.7 1406.7 L448.3 1418.4 L447.9 1430.4 L445.7 1442.5 L441.5 1454.5 M341.5 1338.5 L356.6 1337.5 L371.4 1338.0 L385.8 1340.1 L399.4 1343.7 L412.2 1348.7 L423.8 1355.1 L434.0 1362.8 L442.8 1371.6 L449.9 1381.3 L455.2 1392.0 L458.7 1403.2 L460.3 1414.9 L460.0 1427.0 L457.7 1439.1 L453.6 1451.0 M353.5 1335.1 L368.6 1334.1 L383.4 1334.6 L397.8 1336.7 L411.5 1340.3 L424.2 1345.3 L435.8 1351.7 L446.0 1359.4 L454.8 1368.1 L461.9 1377.9 L467.2 1388.5 L470.7 1399.8 L472.3 1411.5 L472.0 1423.5 L469.7 1435.6 L465.6 1447.6 M365.5 1331.6 L380.6 1330.6 L395.4 1331.2 L409.8 1333.3 L423.5 1336.8 L436.2 1341.9 L447.8 1348.3 L458.0 1355.9 L466.8 1364.7 L473.9 1374.5 L479.2 1385.1 L482.7 1396.3 L484.3 1408.1 L484.0 1420.1 L481.7 1432.2 L477.6 1444.2 M377.5 1328.2 L392.6 1327.2 L407.5 1327.7 L421.8 1329.8 L435.5 1333.4 L448.2 1338.4 L459.8 1344.8 L470.1 1352.5 L478.8 1361.3 L485.9 1371.0 L491.3 1381.6 L494.8 1392.9 L496.4 1404.6 L496.0 1416.6 L493.8 1428.7 L489.6 1440.7 M389.5 1324.8 L404.6 1323.8 L419.5 1324.3 L433.9 1326.4 L447.5 1330.0 L460.2 1335.0 L471.8 1341.4 L482.1 1349.0 L490.8 1357.8 L497.9 1367.6 L503.3 1378.2 L506.8 1389.5 L508.4 1401.2 L508.0 1413.2 L505.8 1425.3 L501.6 1437.3 M401.6 1321.3 L416.6 1320.3 L431.5 1320.9 L445.9 1322.9 L459.5 1326.5 L472.3 1331.6 L483.8 1338.0 L494.1 1345.6 L502.8 1354.4 L510.0 1364.2 L515.3 1374.8 L518.8 1386.0 L520.4 1397.8 L520.1 1409.8 L517.8 1421.9 L513.6 1433.8 M413.6 1317.9 L428.7 1316.9 L443.5 1317.4 L457.9 1319.5 L471.6 1323.1 L484.3 1328.1 L495.9 1334.5 L506.1 1342.2 L514.9 1351.0 L522.0 1360.7 L527.3 1371.3 L530.8 1382.6 L532.4 1394.3 L532.1 1406.3 L529.8 1418.4 L525.7 1430.4 M425.6 1314.4 L440.7 1313.4 L455.5 1314.0 L469.9 1316.1 L483.6 1319.7 L496.3 1324.7 L507.9 1331.1 L518.1 1338.7 L526.9 1347.5 L534.0 1357.3 L539.3 1367.9 L542.8 1379.2 L544.4 1390.9 L544.1 1402.9 L541.8 1415.0 L537.7 1427.0 M437.6 1311.0 L452.7 1310.0 L467.6 1310.5 L481.9 1312.6 L495.6 1316.2 L508.3 1321.2 L519.9 1327.6 L530.2 1335.3 L538.9 1344.1 L546.0 1353.8 L551.4 1364.5 L554.9 1375.7 L556.5 1387.4 L556.1 1399.5 L553.9 1411.6 L549.7 1423.5 M449.6 1307.6 L464.7 1306.6 L479.6 1307.1 L493.9 1309.2 L507.6 1312.8 L520.3 1317.8 L531.9 1324.2 L542.2 1331.9 L550.9 1340.6 L558.0 1350.4 L563.4 1361.0 L566.9 1372.3 L568.5 1384.0 L568.1 1396.0 L565.9 1408.1 L561.7 1420.1 M461.7 1304.1 L476.7 1303.1 L491.6 1303.7 L506.0 1305.8 L519.6 1309.3 L532.4 1314.4 L543.9 1320.8 L554.2 1328.4 L562.9 1337.2 L570.0 1347.0 L575.4 1357.6 L578.9 1368.8 L580.5 1380.6 L580.2 1392.6 L577.9 1404.7 L573.7 1416.7 M473.7 1300.7 L488.8 1299.7 L503.6 1300.2 L518.0 1302.3 L531.6 1305.9 L544.4 1310.9 L556.0 1317.3 L566.2 1325.0 L575.0 1333.8 L582.1 1343.5 L587.4 1354.1 L590.9 1365.4 L592.5 1377.1 L592.2 1389.1 L589.9 1401.2 L585.8 1413.2 M485.7 1297.3 L500.8 1296.3 L515.6 1296.8 L530.0 1298.9 L543.7 1302.5 L556.4 1307.5 L568.0 1313.9 L578.2 1321.5 L587.0 1330.3 L594.1 1340.1 L599.4 1350.7 L602.9 1362.0 L604.5 1373.7 L604.2 1385.7 L601.9 1397.8 L597.8 1409.8 M497.7 1293.8 L512.8 1292.8 L527.6 1293.4 L542.0 1295.4 L555.7 1299.0 L568.4 1304.1 L580.0 1310.5 L590.2 1318.1 L599.0 1326.9 L606.1 1336.7 L611.5 1347.3 L614.9 1358.5 L616.5 1370.3 L616.2 1382.3 L613.9 1394.4 L609.8 1406.3 M509.7 1290.4 L524.8 1289.4 L539.7 1289.9 L554.0 1292.0 L567.7 1295.6 L580.4 1300.6 L592.0 1307.0 L602.3 1314.7 L611.0 1323.5 L618.1 1333.2 L623.5 1343.8 L627.0 1355.1 L628.6 1366.8 L628.2 1378.8 L626.0 1390.9 L621.8 1402.9 M521.7 1286.9 L536.8 1285.9 L551.7 1286.5 L566.1 1288.6 L579.7 1292.2 L592.4 1297.2 L604.0 1303.6 L614.3 1311.2 L623.0 1320.0 L630.1 1329.8 L635.5 1340.4 L639.0 1351.7 L640.6 1363.4 L640.2 1375.4 L638.0 1387.5 L633.8 1399.5 M533.8 1283.5 L548.9 1282.5 L563.7 1283.0 L578.1 1285.1 L591.7 1288.7 L604.5 1293.7 L616.1 1300.1 L626.3 1307.8 L635.1 1316.6 L642.2 1326.3 L647.5 1337.0 L651.0 1348.2 L652.6 1359.9 L652.3 1372.0 L650.0 1384.1 L645.9 1396.0 M545.8 1280.1 L560.9 1279.1 L575.7 1279.6 L590.1 1281.7 L603.8 1285.3 L616.5 1290.3 L628.1 1296.7 L638.3 1304.4 L647.1 1313.1 L654.2 1322.9 L659.5 1333.5 L663.0 1344.8 L664.6 1356.5 L664.3 1368.5 L662.0 1380.6 L657.9 1392.6 M557.8 1276.6 L572.9 1275.6 L587.7 1276.2 L602.1 1278.3 L615.8 1281.8 L628.5 1286.9 L640.1 1293.3 L650.3 1300.9 L659.1 1309.7 L666.2 1319.5 L671.5 1330.1 L675.0 1341.3 L676.6 1353.1 L676.3 1365.1 L674.0 1377.2 L669.9 1389.2 M569.8 1273.2 L584.9 1272.2 L599.8 1272.7 L614.1 1274.8 L627.8 1278.4 L640.5 1283.4 L652.1 1289.8 L662.4 1297.5 L671.1 1306.3 L678.2 1316.0 L683.6 1326.6 L687.1 1337.9 L688.7 1349.6 L688.3 1361.6 L686.1 1373.7 L681.9 1385.7 M581.8 1269.8 L596.9 1268.8 L611.8 1269.3 L626.2 1271.4 L639.8 1275.0 L652.5 1280.0 L664.1 1286.4 L674.4 1294.0 L683.1 1302.8 L690.2 1312.6 L695.6 1323.2 L699.1 1334.5 L700.7 1346.2 L700.3 1358.2 L698.1 1370.3 L693.9 1382.3 M593.9 1266.3 L608.9 1265.3 L623.8 1265.9 L638.2 1267.9 L651.8 1271.5 L664.6 1276.6 L676.1 1283.0 L686.4 1290.6 L695.1 1299.4 L702.3 1309.2 L707.6 1319.8 L711.1 1331.0 L712.7 1342.8 L712.4 1354.8 L710.1 1366.9 L705.9 1378.8 M605.9 1262.9 L621.0 1261.9 L635.8 1262.4 L650.2 1264.5 L663.9 1268.1 L676.6 1273.1 L688.2 1279.5 L698.4 1287.2 L707.2 1296.0 L714.3 1305.7 L719.6 1316.3 L723.1 1327.6 L724.7 1339.3 L724.4 1351.3 L722.1 1363.4 L718.0 1375.4 M617.9 1259.4 L633.0 1258.4 L647.8 1259.0 L662.2 1261.1 L675.9 1264.7 L688.6 1269.7 L700.2 1276.1 L710.4 1283.7 L719.2 1292.5 L726.3 1302.3 L731.6 1312.9 L735.1 1324.2 L736.7 1335.9 L736.4 1347.9 L734.1 1360.0 L730.0 1372.0 M629.9 1256.0 L645.0 1255.0 L659.9 1255.5 L674.2 1257.6 L687.9 1261.2 L700.6 1266.2 L712.2 1272.6 L722.5 1280.3 L731.2 1289.1 L738.3 1298.8 L743.7 1309.5 L747.2 1320.7 L748.8 1332.4 L748.4 1344.5 L746.2 1356.6 L742.0 1368.5 M641.9 1252.6 L657.0 1251.6 L671.9 1252.1 L686.2 1254.2 L699.9 1257.8 L712.6 1262.8 L724.2 1269.2 L734.5 1276.9 L743.2 1285.6 L750.3 1295.4 L755.7 1306.0 L759.2 1317.3 L760.8 1329.0 L760.4 1341.0 L758.2 1353.1 L754.0 1365.1 M654.0 1249.1 L669.0 1248.1 L683.9 1248.7 L698.3 1250.8 L711.9 1254.3 L724.7 1259.4 L736.2 1265.8 L746.5 1273.4 L755.2 1282.2 L762.3 1292.0 L767.7 1302.6 L771.2 1313.8 L772.8 1325.6 L772.5 1337.6 L770.2 1349.7 L766.0 1361.7 M666.0 1245.7 L681.1 1244.7 L695.9 1245.2 L710.3 1247.3 L723.9 1250.9 L736.7 1255.9 L748.3 1262.3 L758.5 1270.0 L767.3 1278.8 L774.4 1288.5 L779.7 1299.1 L783.2 1310.4 L784.8 1322.1 L784.5 1334.1 L782.2 1346.2 L778.1 1358.2 M678.0 1242.3 L693.1 1241.3 L707.9 1241.8 L722.3 1243.9 L736.0 1247.5 L748.7 1252.5 L760.3 1258.9 L770.5 1266.5 L779.3 1275.3 L786.4 1285.1 L791.7 1295.7 L795.2 1307.0 L796.8 1318.7 L796.5 1330.7 L794.2 1342.8 L790.1 1354.8 M690.0 1238.8 L705.1 1237.8 L719.9 1238.4 L734.3 1240.4 L748.0 1244.0 L760.7 1249.1 L772.3 1255.5 L782.5 1263.1 L791.3 1271.9 L798.4 1281.7 L803.8 1292.3 L807.2 1303.5 L808.8 1315.3 L808.5 1327.3 L806.2 1339.4 L802.1 1351.3 M702.0 1235.4 L717.1 1234.4 L732.0 1234.9 L746.3 1237.0 L760.0 1240.6 L772.7 1245.6 L784.3 1252.0 L794.6 1259.7 L803.3 1268.5 L810.4 1278.2 L815.8 1288.8 L819.3 1300.1 L820.9 1311.8 L820.5 1323.8 L818.3 1335.9 L814.1 1347.9 M714.0 1231.9 L729.1 1230.9 L744.0 1231.5 L758.4 1233.6 L772.0 1237.2 L784.7 1242.2 L796.3 1248.6 L806.6 1256.2 L815.3 1265.0 L822.4 1274.8 L827.8 1285.4 L831.3 1296.7 L832.9 1308.4 L832.5 1320.4 L830.3 1332.5 L826.1 1344.5 M726.1 1228.5 L741.2 1227.5 L756.0 1228.0 L770.4 1230.1 L784.0 1233.7 L796.8 1238.7 L808.4 1245.1 L818.6 1252.8 L827.4 1261.6 L834.5 1271.3 L839.8 1282.0 L843.3 1293.2 L844.9 1304.9 L844.6 1317.0 L842.3 1329.1 L838.2 1341.0 M738.1 1225.1 L753.2 1224.1 L768.0 1224.6 L782.4 1226.7 L796.1 1230.3 L808.8 1235.3 L820.4 1241.7 L830.6 1249.4 L839.4 1258.1 L846.5 1267.9 L851.8 1278.5 L855.3 1289.8 L856.9 1301.5 L856.6 1313.5 L854.3 1325.6 L850.2 1337.6 M750.1 1221.6 L765.2 1220.6 L780.0 1221.2 L794.4 1223.3 L808.1 1226.8 L820.8 1231.9 L832.4 1238.3 L842.6 1245.9 L851.4 1254.7 L858.5 1264.5 L863.8 1275.1 L867.3 1286.3 L868.9 1298.1 L868.6 1310.1 L866.3 1322.2 L862.2 1334.2 M762.1 1218.2 L777.2 1217.2 L792.1 1217.7 L806.4 1219.8 L820.1 1223.4 L832.8 1228.4 L844.4 1234.8 L854.7 1242.5 L863.4 1251.3 L870.5 1261.0 L875.9 1271.6 L879.4 1282.9 L881.0 1294.6 L880.6 1306.6 L878.4 1318.7 L874.2 1330.7 M774.1 1214.8 L789.2 1213.8 L804.1 1214.3 L818.5 1216.4 L832.1 1220.0 L844.8 1225.0 L856.4 1231.4 L866.7 1239.0 L875.4 1247.8 L882.5 1257.6 L887.9 1268.2 L891.4 1279.5 L893.0 1291.2 L892.6 1303.2 L890.4 1315.3 L886.2 1327.3 M786.2 1211.3 L801.2 1210.3 L816.1 1210.9 L830.5 1212.9 L844.1 1216.5 L856.9 1221.6 L868.4 1228.0 L878.7 1235.6 L887.4 1244.4 L894.6 1254.2 L899.9 1264.8 L903.4 1276.0 L905.0 1287.8 L904.7 1299.8 L902.4 1311.9 L898.2 1323.8 M798.2 1207.9 L813.3 1206.9 L828.1 1207.4 L842.5 1209.5 L856.2 1213.1 L868.9 1218.1 L880.5 1224.5 L890.7 1232.2 L899.5 1241.0 L906.6 1250.7 L911.9 1261.3 L915.4 1272.6 L917.0 1284.3 L916.7 1296.3 L914.4 1308.4 L910.3 1320.4 M810.2 1204.4 L825.3 1203.4 L840.1 1204.0 L854.5 1206.1 L868.2 1209.7 L880.9 1214.7 L892.5 1221.1 L902.7 1228.7 L911.5 1237.5 L918.6 1247.3 L923.9 1257.9 L927.4 1269.2 L929.0 1280.9 L928.7 1292.9 L926.4 1305.0 L922.3 1317.0 M822.2 1201.0 L837.3 1200.0 L852.2 1200.5 L866.5 1202.6 L880.2 1206.2 L892.9 1211.2 L904.5 1217.6 L914.8 1225.3 L923.5 1234.1 L930.6 1243.8 L936.0 1254.5 L939.5 1265.7 L941.1 1277.4 L940.7 1289.5 L938.5 1301.6 L934.3 1313.5 M834.2 1197.6 L849.3 1196.6 L864.2 1197.1 L878.5 1199.2 L892.2 1202.8 L904.9 1207.8 L916.5 1214.2 L926.8 1221.9 L935.5 1230.6 L942.6 1240.4 L948.0 1251.0 L951.5 1262.3 L953.1 1274.0 L952.7 1286.0 L950.5 1298.1 L946.3 1310.1 M846.3 1194.1 L861.3 1193.1 L876.2 1193.7 L890.6 1195.8 L904.2 1199.3 L917.0 1204.4 L928.5 1210.8 L938.8 1218.4 L947.5 1227.2 L954.6 1237.0 L960.0 1247.6 L963.5 1258.8 L965.1 1270.6 L964.8 1282.6 L962.5 1294.7 L958.3 1306.7 M858.3 1190.7 L873.4 1189.7 L888.2 1190.2 L902.6 1192.3 L916.2 1195.9 L929.0 1200.9 L940.6 1207.3 L950.8 1215.0 L959.6 1223.8 L966.7 1233.5 L972.0 1244.1 L975.5 1255.4 L977.1 1267.1 L976.8 1279.1 L974.5 1291.2 L970.4 1303.2 M870.3 1187.3 L885.4 1186.3 L900.2 1186.8 L914.6 1188.9 L928.3 1192.5 L941.0 1197.5 L952.6 1203.9 L962.8 1211.5 L971.6 1220.3 L978.7 1230.1 L984.0 1240.7 L987.5 1252.0 L989.1 1263.7 L988.8 1275.7 L986.5 1287.8 L982.4 1299.8 M882.3 1183.8 L897.4 1182.8 L912.2 1183.4 L926.6 1185.4 L940.3 1189.0 L953.0 1194.1 L964.6 1200.5 L974.8 1208.1 L983.6 1216.9 L990.7 1226.7 L996.1 1237.3 L999.5 1248.5 L1001.1 1260.3 L1000.8 1272.3 L998.5 1284.4 L994.4 1296.3 M894.3 1180.4 L909.4 1179.4 L924.3 1179.9 L938.6 1182.0 L952.3 1185.6 L965.0 1190.6 L976.6 1197.0 L986.9 1204.7 L995.6 1213.5 L1002.7 1223.2 L1008.1 1233.8 L1011.6 1245.1 L1013.2 1256.8 L1012.8 1268.8 L1010.6 1280.9 L1006.4 1292.9 M906.3 1176.9 L921.4 1175.9 L936.3 1176.5 L950.7 1178.6 L964.3 1182.2 L977.0 1187.2 L988.6 1193.6 L998.9 1201.2 L1007.6 1210.0 L1014.7 1219.8 L1020.1 1230.4 L1023.6 1241.7 L1025.2 1253.4 L1024.8 1265.4 L1022.6 1277.5 L1018.4 1289.5 M918.4 1173.5 L933.5 1172.5 L948.3 1173.0 L962.7 1175.1 L976.3 1178.7 L989.1 1183.7 L1000.7 1190.1 L1010.9 1197.8 L1019.7 1206.6 L1026.8 1216.3 L1032.1 1227.0 L1035.6 1238.2 L1037.2 1249.9 L1036.9 1262.0 L1034.6 1274.1 L1030.5 1286.0 M930.4 1170.1 L945.5 1169.1 L960.3 1169.6 L974.7 1171.7 L988.4 1175.3 L1001.1 1180.3 L1012.7 1186.7 L1022.9 1194.4 L1031.7 1203.1 L1038.8 1212.9 L1044.1 1223.5 L1047.6 1234.8 L1049.2 1246.5 L1048.9 1258.5 L1046.6 1270.6 L1042.5 1282.6 M942.4 1166.6 L957.5 1165.6 L972.3 1166.2 L986.7 1168.3 L1000.4 1171.8 L1013.1 1176.9 L1024.7 1183.3 L1034.9 1190.9 L1043.7 1199.7 L1050.8 1209.5 L1056.1 1220.1 L1059.6 1231.3 L1061.2 1243.1 L1060.9 1255.1 L1058.6 1267.2 L1054.5 1279.2 M954.4 1163.2 L969.5 1162.2 L984.4 1162.7 L998.7 1164.8 L1012.4 1168.4 L1025.1 1173.4 L1036.7 1179.8 L1047.0 1187.5 L1055.7 1196.3 L1062.8 1206.0 L1068.2 1216.6 L1071.7 1227.9 L1073.3 1239.6 L1072.9 1251.6 L1070.7 1263.7 L1066.5 1275.7 M966.4 1159.8 L981.5 1158.8 L996.4 1159.3 L1010.8 1161.4 L1024.4 1165.0 L1037.1 1170.0 L1048.7 1176.4 L1059.0 1184.0 L1067.7 1192.8 L1074.8 1202.6 L1080.2 1213.2 L1083.7 1224.5 L1085.3 1236.2 L1084.9 1248.2 L1082.7 1260.3 L1078.5 1272.3 M978.5 1156.3 L993.5 1155.3 L1008.4 1155.9 L1022.8 1157.9 L1036.4 1161.5 L1049.2 1166.6 L1060.7 1173.0 L1071.0 1180.6 L1079.7 1189.4 L1086.9 1199.2 L1092.2 1209.8 L1095.7 1221.0 L1097.3 1232.8 L1097.0 1244.8 L1094.7 1256.9 L1090.5 1268.8 M990.5 1152.9 L1005.6 1151.9 L1020.4 1152.4 L1034.8 1154.5 L1048.5 1158.1 L1061.2 1163.1 L1072.8 1169.5 L1083.0 1177.2 L1091.8 1186.0 L1098.9 1195.7 L1104.2 1206.3 L1107.7 1217.6 L1109.3 1229.3 L1109.0 1241.3 L1106.7 1253.4 L1102.6 1265.4 M1002.5 1149.4 L1017.6 1148.4 L1032.4 1149.0 L1046.8 1151.1 L1060.5 1154.7 L1073.2 1159.7 L1084.8 1166.1 L1095.0 1173.7 L1103.8 1182.5 L1110.9 1192.3 L1116.2 1202.9 L1119.7 1214.2 L1121.3 1225.9 L1121.0 1237.9 L1118.7 1250.0 L1114.6 1262.0 M1014.5 1146.0 L1029.6 1145.0 L1044.5 1145.5 L1058.8 1147.6 L1072.5 1151.2 L1085.2 1156.2 L1096.8 1162.6 L1107.1 1170.3 L1115.8 1179.1 L1122.9 1188.8 L1128.3 1199.5 L1131.8 1210.7 L1133.4 1222.4 L1133.0 1234.5 L1130.8 1246.6 L1126.6 1258.5 M1026.5 1142.6 L1041.6 1141.6 L1056.5 1142.1 L1070.8 1144.2 L1084.5 1147.8 L1097.2 1152.8 L1108.8 1159.2 L1119.1 1166.9 L1127.8 1175.6 L1134.9 1185.4 L1140.3 1196.0 L1143.8 1207.3 L1145.4 1219.0 L1145.0 1231.0 L1142.8 1243.1 L1138.6 1255.1 M1038.6 1139.1 L1053.6 1138.1 L1068.5 1138.7 L1082.9 1140.8 L1096.5 1144.3 L1109.3 1149.4 L1120.8 1155.8 L1131.1 1163.4 L1139.8 1172.2 L1146.9 1182.0 L1152.3 1192.6 L1155.8 1203.8 L1157.4 1215.6 L1157.1 1227.6 L1154.8 1239.7 L1150.6 1251.7 M1050.6 1135.7 L1065.7 1134.7 L1080.5 1135.2 L1094.9 1137.3 L1108.5 1140.9 L1121.3 1145.9 L1132.9 1152.3 L1143.1 1160.0 L1151.9 1168.8 L1159.0 1178.5 L1164.3 1189.1 L1167.8 1200.4 L1169.4 1212.1 L1169.1 1224.1 L1166.8 1236.2 L1162.7 1248.2 M1062.6 1132.3 L1077.7 1131.3 L1092.5 1131.8 L1106.9 1133.9 L1120.6 1137.5 L1133.3 1142.5 L1144.9 1148.9 L1155.1 1156.5 L1163.9 1165.3 L1171.0 1175.1 L1176.3 1185.7 L1179.8 1197.0 L1181.4 1208.7 L1181.1 1220.7 L1178.8 1232.8 L1174.7 1244.8 M1074.6 1128.8 L1089.7 1127.8 L1104.5 1128.4 L1118.9 1130.4 L1132.6 1134.0 L1145.3 1139.1 L1156.9 1145.5 L1167.1 1153.1 L1175.9 1161.9 L1183.0 1171.7 L1188.4 1182.3 L1191.8 1193.5 L1193.4 1205.3 L1193.1 1217.3 L1190.8 1229.4 L1186.7 1241.3 M1086.6 1125.4 L1101.7 1124.4 L1116.6 1124.9 L1130.9 1127.0 L1144.6 1130.6 L1157.3 1135.6 L1168.9 1142.0 L1179.2 1149.7 L1187.9 1158.5 L1195.0 1168.2 L1200.4 1178.8 L1203.9 1190.1 L1205.5 1201.8 L1205.1 1213.8 L1202.9 1225.9 L1198.7 1237.9 M1098.6 1121.9 L1113.7 1120.9 L1128.6 1121.5 L1143.0 1123.6 L1156.6 1127.2 L1169.3 1132.2 L1180.9 1138.6 L1191.2 1146.2 L1199.9 1155.0 L1207.0 1164.8 L1212.4 1175.4 L1215.9 1186.7 L1217.5 1198.4 L1217.1 1210.4 L1214.9 1222.5 L1210.7 1234.5 M1110.7 1118.5 L1125.8 1117.5 L1140.6 1118.0 L1155.0 1120.1 L1168.6 1123.7 L1181.4 1128.7 L1193.0 1135.1 L1203.2 1142.8 L1212.0 1151.6 L1219.1 1161.3 L1224.4 1172.0 L1227.9 1183.2 L1229.5 1194.9 L1229.2 1207.0 L1226.9 1219.1 L1222.8 1231.0 M1122.7 1115.1 L1137.8 1114.1 L1152.6 1114.6 L1167.0 1116.7 L1180.7 1120.3 L1193.4 1125.3 L1205.0 1131.7 L1215.2 1139.4 L1224.0 1148.1 L1231.1 1157.9 L1236.4 1168.5 L1239.9 1179.8 L1241.5 1191.5 L1241.2 1203.5 L1238.9 1215.6 L1234.8 1227.6 M1134.7 1111.6 L1149.8 1110.6 L1164.6 1111.2 L1179.0 1113.3 L1192.7 1116.8 L1205.4 1121.9 L1217.0 1128.3 L1227.2 1135.9 L1236.0 1144.7 L1243.1 1154.5 L1248.4 1165.1 L1251.9 1176.3 L1253.5 1188.1 L1253.2 1200.1 L1250.9 1212.2 L1246.8 1224.2 M1146.7 1108.2 L1161.8 1107.2 L1176.7 1107.7 L1191.0 1109.8 L1204.7 1113.4 L1217.4 1118.4 L1229.0 1124.8 L1239.3 1132.5 L1248.0 1141.3 L1255.1 1151.0 L1260.5 1161.6 L1264.0 1172.9 L1265.6 1184.6 L1265.2 1196.6 L1263.0 1208.7 L1258.8 1220.7 M1158.7 1104.8 L1173.8 1103.8 L1188.7 1104.3 L1203.1 1106.4 L1216.7 1110.0 L1229.4 1115.0 L1241.0 1121.4 L1251.3 1129.0 L1260.0 1137.8 L1267.1 1147.6 L1272.5 1158.2 L1276.0 1169.5 L1277.6 1181.2 L1277.2 1193.2 L1275.0 1205.3 L1270.8 1217.3 M1170.8 1101.3 L1185.8 1100.3 L1200.7 1100.9 L1215.1 1102.9 L1228.7 1106.5 L1241.5 1111.6 L1253.0 1118.0 L1263.3 1125.6 L1272.0 1134.4 L1279.2 1144.2 L1284.5 1154.8 L1288.0 1166.0 L1289.6 1177.8 L1289.3 1189.8 L1287.0 1201.9 L1282.8 1213.8 M1182.8 1097.9 L1197.9 1096.9 L1212.7 1097.4 L1227.1 1099.5 L1240.8 1103.1 L1253.5 1108.1 L1265.1 1114.5 L1275.3 1122.2 L1284.1 1131.0 L1291.2 1140.7 L1296.5 1151.3 L1300.0 1162.6 L1301.6 1174.3 L1301.3 1186.3 L1299.0 1198.4 L1294.9 1210.4 M1194.8 1094.4 L1209.9 1093.4 L1224.7 1094.0 L1239.1 1096.1 L1252.8 1099.7 L1265.5 1104.7 L1277.1 1111.1 L1287.3 1118.7 L1296.1 1127.5 L1303.2 1137.3 L1308.5 1147.9 L1312.0 1159.2 L1313.6 1170.9 L1313.3 1182.9 L1311.0 1195.0 L1306.9 1207.0 M1206.8 1091.0 L1221.9 1090.0 L1236.8 1090.5 L1251.1 1092.6 L1264.8 1096.2 L1277.5 1101.2 L1289.1 1107.6 L1299.4 1115.3 L1308.1 1124.1 L1315.2 1133.8 L1320.6 1144.5 L1324.1 1155.7 L1325.7 1167.4 L1325.3 1179.5 L1323.1 1191.6 L1318.9 1203.5 M1218.8 1087.6 L1233.9 1086.6 L1248.8 1087.1 L1263.1 1089.2 L1276.8 1092.8 L1289.5 1097.8 L1301.1 1104.2 L1311.4 1111.9 L1320.1 1120.6 L1327.2 1130.4 L1332.6 1141.0 L1336.1 1152.3 L1337.7 1164.0 L1337.3 1176.0 L1335.1 1188.1 L1330.9 1200.1 M1230.9 1084.1 L1245.9 1083.1 L1260.8 1083.7 L1275.2 1085.8 L1288.8 1089.3 L1301.6 1094.4 L1313.1 1100.8 L1323.4 1108.4 L1332.1 1117.2 L1339.2 1127.0 L1344.6 1137.6 L1348.1 1148.8 L1349.7 1160.6 L1349.4 1172.6 L1347.1 1184.7 L1342.9 1196.7 M1242.9 1080.7 L1258.0 1079.7 L1272.8 1080.2 L1287.2 1082.3 L1300.8 1085.9 L1313.6 1090.9 L1325.2 1097.3 L1335.4 1105.0 L1344.2 1113.8 L1351.3 1123.5 L1356.6 1134.1 L1360.1 1145.4 L1361.7 1157.1 L1361.4 1169.1 L1359.1 1181.2 L1355.0 1193.2 M1254.9 1077.3 L1270.0 1076.3 L1284.8 1076.8 L1299.2 1078.9 L1312.9 1082.5 L1325.6 1087.5 L1337.2 1093.9 L1347.4 1101.5 L1356.2 1110.3 L1363.3 1120.1 L1368.6 1130.7 L1372.1 1142.0 L1373.7 1153.7 L1373.4 1165.7 L1371.1 1177.8 L1367.0 1189.8 M1266.9 1073.8 L1282.0 1072.8 L1296.8 1073.4 L1311.2 1075.4 L1324.9 1079.0 L1337.6 1084.1 L1349.2 1090.5 L1359.4 1098.1 L1368.2 1106.9 L1375.3 1116.7 L1380.7 1127.3 L1384.1 1138.5 L1385.7 1150.3 L1385.4 1162.3 L1383.1 1174.4 L1379.0 1186.3" stroke="#585858" stroke-width="1.9" fill="none"/>
<path d="M388.6 1323.5 L1221.2 1086.9" stroke="#8a8a8a" stroke-width="6" fill="none"/>
<path d="M388.6 1323.5 L1221.2 1086.9" stroke="#555" stroke-width="1.2" stroke-dasharray="2 2.5" fill="none"/>
<path d="M461.4 1448.8 L1259.5 1220.5" stroke="#8a8a8a" stroke-width="3" fill="none"/>
<path d="M281.0 1331.3 L281.0 1378.0 M283.4 1331.1 L283.4 1377.4 M285.8 1330.9 L285.8 1376.8 M288.2 1330.8 L288.2 1376.2 M290.6 1330.6 L290.6 1375.6 M293.0 1330.4 L293.0 1375.0 M295.4 1330.2 L295.4 1374.4 M297.8 1330.1 L297.8 1373.8 M300.2 1329.9 L300.2 1373.2 M302.6 1329.7 L302.6 1372.6 M305.0 1329.6 L305.0 1372.0 M307.4 1329.4 L307.4 1371.4 M309.8 1329.2 L309.8 1370.8 M312.2 1329.0 L312.2 1370.2 M314.6 1328.9 L314.6 1369.6 M317.0 1328.7 L317.0 1369.0 M319.4 1328.5 L319.4 1368.4 M321.8 1328.3 L321.8 1367.8 M324.2 1328.2 L324.2 1367.2 M326.6 1328.0 L326.6 1366.6 M329.0 1327.8 L329.0 1366.0 M331.4 1327.6 L331.4 1365.4 M333.8 1327.5 L333.8 1364.8 M336.2 1327.3 L336.2 1364.2 M338.6 1327.1 L338.6 1363.6 M341.0 1326.9 L341.0 1363.0 M343.4 1326.8 L343.4 1362.4 M345.8 1326.6 L345.8 1361.8 M348.2 1326.4 L348.2 1361.2 M350.6 1326.3 L350.6 1360.7 M353.0 1326.1 L353.0 1360.3 M355.4 1325.9 L355.4 1359.9 M357.8 1325.7 L357.8 1359.5 M360.2 1325.6 L360.2 1359.0 M362.6 1325.4 L362.6 1358.6 M365.0 1325.2 L365.0 1358.2 M367.4 1325.0 L367.4 1357.8 M369.8 1324.9 L369.8 1357.4 M372.2 1324.7 L372.2 1357.0 M374.6 1324.5 L374.6 1356.5 M377.0 1324.3 L377.0 1356.4 M379.4 1324.2 L379.4 1356.4 M381.8 1324.0 L381.8 1356.4 M384.2 1323.8 L384.2 1356.5 M386.6 1323.6 L386.6 1356.5 M389.0 1323.5 L389.0 1356.5 M391.4 1323.3 L391.4 1356.5" stroke="#505050" stroke-width="0.9" fill="none"/>
<path d="M281.0 1470.9 L278.0 1510.9 M283.4 1470.4 L280.4 1510.4 M285.8 1469.9 L282.8 1509.9 M288.2 1469.4 L285.2 1509.4 M290.6 1468.8 L287.6 1508.8 M293.0 1468.3 L290.0 1508.3 M295.4 1467.8 L292.4 1507.8 M297.8 1467.3 L294.8 1507.3 M300.2 1466.8 L297.2 1506.8 M302.6 1466.3 L299.6 1506.3 M305.0 1465.8 L302.0 1505.8 M307.4 1465.3 L304.4 1505.3 M309.8 1464.8 L306.8 1504.8 M312.2 1464.2 L309.2 1504.2 M314.6 1463.7 L311.6 1503.7 M317.0 1463.2 L314.0 1503.2 M319.4 1462.7 L316.4 1502.7 M321.8 1462.2 L318.8 1502.2 M324.2 1461.7 L321.2 1501.7 M326.6 1461.2 L323.6 1501.2 M329.0 1460.7 L326.0 1500.7 M331.4 1460.2 L328.4 1500.2 M333.8 1459.6 L330.8 1499.6 M336.2 1459.1 L333.2 1499.1 M338.6 1458.7 L335.6 1498.7 M341.0 1458.2 L338.0 1498.2 M343.4 1457.7 L340.4 1497.7 M345.8 1457.2 L342.8 1497.2 M348.2 1456.7 L345.2 1496.7 M350.6 1456.3 L347.6 1496.3 M353.0 1455.8 L350.0 1495.8 M355.4 1455.3 L352.4 1495.3 M357.8 1454.8 L354.8 1494.8 M360.2 1454.3 L357.2 1494.3 M362.6 1453.9 L359.6 1493.9 M365.0 1453.4 L362.0 1493.4 M367.4 1452.9 L364.4 1492.9 M369.8 1452.4 L366.8 1492.4 M372.2 1451.9 L369.2 1491.9 M374.6 1451.5 L371.6 1491.5 M377.0 1450.9 L374.0 1490.9 M379.4 1450.3 L376.4 1490.3 M381.8 1449.7 L378.8 1489.7 M384.2 1449.1 L381.2 1489.1 M386.6 1448.5 L383.6 1488.5 M389.0 1447.9 L386.0 1487.9 M391.4 1447.3 L388.4 1487.3 M393.8 1446.7 L390.8 1486.7 M396.2 1446.1 L393.2 1486.1 M398.6 1445.5 L395.6 1485.5 M401.0 1444.9 L398.0 1484.9 M403.4 1444.0 L400.4 1484.0 M405.8 1442.9 L402.8 1482.9 M408.2 1441.8 L405.2 1481.8 M410.6 1440.8 L407.6 1480.8 M413.0 1439.7 L410.0 1479.7 M415.4 1438.6 L412.4 1478.6 M417.8 1437.5 L414.8 1477.5 M420.2 1436.4 L417.2 1476.4 M422.6 1435.4 L419.6 1475.4 M425.0 1434.3 L422.0 1474.3 M427.4 1433.2 L424.4 1473.2 M429.8 1432.1 L426.8 1472.1 M432.2 1430.9 L429.2 1470.9 M434.6 1429.7 L431.6 1469.7 M437.0 1428.5 L434.0 1468.5 M439.4 1427.3 L436.4 1467.3 M441.8 1426.0 L438.8 1466.0 M444.2 1424.5 L441.2 1464.5 M446.6 1423.1 L443.6 1463.1 M449.0 1421.3 L446.0 1461.3 M451.4 1419.5 L448.4 1459.5" stroke="#505050" stroke-width="0.9" fill="none"/>
<clipPath id="fanclip"><polygon points="278.4,1354.5 586.7,1268.4 624.9,1402.0 317.7,1492.0"/></clipPath>
<g clip-path="url(#fanclip)"><path d="M453.2 1406.3 L453.9 1406.3 L454.6 1406.4 L455.3 1406.5 L455.9 1406.8 L456.5 1407.2 L457.1 1407.7 L457.7 1408.2 L458.1 1408.8 L458.6 1409.5 L458.9 1410.3 L459.2 1411.1 L459.4 1411.9 L459.5 1412.8 L459.5 1413.7 L459.4 1414.5 L459.3 1415.4 L459.1 1416.2 L458.8 1417.0 L458.4 1417.7 L458.0 1418.4 L457.5 1419.0 L456.9 1419.5 L456.3 1420.0 M452.8 1402.0 L454.0 1402.0 L455.1 1402.1 L456.1 1402.4 L457.2 1402.8 L458.2 1403.4 L459.1 1404.1 L460.0 1405.0 L460.8 1406.0 L461.4 1407.2 L462.0 1408.4 L462.4 1409.7 L462.7 1411.0 L462.9 1412.4 L462.9 1413.8 L462.8 1415.2 L462.6 1416.5 L462.2 1417.9 L461.8 1419.1 L461.2 1420.3 L460.5 1421.4 L459.7 1422.3 L458.8 1423.2 L457.8 1423.9 M452.5 1397.7 L454.0 1397.7 L455.5 1397.8 L457.0 1398.2 L458.5 1398.8 L459.8 1399.6 L461.1 1400.6 L462.3 1401.9 L463.4 1403.2 L464.3 1404.8 L465.0 1406.4 L465.6 1408.2 L466.0 1410.1 L466.3 1412.0 L466.3 1413.9 L466.2 1415.8 L465.9 1417.7 L465.4 1419.5 L464.7 1421.2 L463.9 1422.8 L463.0 1424.3 L461.8 1425.6 L460.6 1426.8 L459.3 1427.7 M452.1 1393.5 L454.1 1393.3 L456.0 1393.5 L457.9 1394.0 L459.7 1394.8 L461.5 1395.8 L463.1 1397.1 L464.6 1398.7 L466.0 1400.4 L467.1 1402.4 L468.1 1404.5 L468.8 1406.8 L469.4 1409.1 L469.7 1411.5 L469.8 1414.0 L469.6 1416.4 L469.2 1418.8 L468.6 1421.1 L467.7 1423.3 L466.7 1425.4 L465.4 1427.3 L464.0 1429.0 L462.5 1430.4 L460.8 1431.6 M451.8 1389.2 L454.1 1389.0 L456.5 1389.3 L458.8 1389.8 L461.0 1390.8 L463.1 1392.0 L465.1 1393.6 L466.9 1395.5 L468.6 1397.7 L470.0 1400.0 L471.2 1402.6 L472.1 1405.3 L472.7 1408.2 L473.1 1411.1 L473.2 1414.1 L473.0 1417.1 L472.5 1420.0 L471.7 1422.8 L470.7 1425.4 L469.4 1427.9 L467.9 1430.2 L466.2 1432.3 L464.3 1434.0 L462.3 1435.5 M451.4 1384.9 L454.2 1384.7 L456.9 1385.0 L459.7 1385.7 L462.3 1386.8 L464.8 1388.3 L467.1 1390.1 L469.3 1392.3 L471.2 1394.9 L472.8 1397.6 L474.2 1400.7 L475.3 1403.9 L476.1 1407.3 L476.5 1410.7 L476.6 1414.2 L476.4 1417.7 L475.8 1421.1 L474.9 1424.4 L473.7 1427.6 L472.2 1430.5 L470.4 1433.2 L468.4 1435.6 L466.2 1437.7 L463.8 1439.4 M451.1 1380.6 L454.2 1380.4 L457.4 1380.7 L460.5 1381.5 L463.5 1382.8 L466.4 1384.5 L469.1 1386.6 L471.6 1389.2 L473.8 1392.1 L475.7 1395.3 L477.3 1398.8 L478.5 1402.5 L479.4 1406.3 L479.9 1410.3 L480.0 1414.3 L479.7 1418.3 L479.1 1422.2 L478.1 1426.0 L476.7 1429.7 L475.0 1433.0 L472.9 1436.1 L470.6 1438.9 L468.1 1441.3 L465.3 1443.3 M450.7 1376.3 L454.3 1376.1 L457.9 1376.4 L461.4 1377.3 L464.8 1378.7 L468.1 1380.7 L471.1 1383.1 L473.9 1386.0 L476.4 1389.3 L478.5 1392.9 L480.3 1396.8 L481.7 1401.0 L482.7 1405.4 L483.3 1409.9 L483.4 1414.4 L483.1 1418.9 L482.4 1423.4 L481.2 1427.7 L479.7 1431.8 L477.7 1435.6 L475.4 1439.1 L472.8 1442.2 L469.9 1444.9 L466.8 1447.2 M450.3 1372.0 L454.4 1371.7 L458.4 1372.1 L462.3 1373.1 L466.1 1374.7 L469.7 1376.9 L473.1 1379.6 L476.2 1382.8 L479.0 1386.5 L481.4 1390.5 L483.4 1394.9 L485.0 1399.6 L486.1 1404.4 L486.7 1409.5 L486.9 1414.5 L486.5 1419.6 L485.7 1424.5 L484.4 1429.3 L482.7 1433.9 L480.5 1438.1 L477.9 1442.0 L475.0 1445.5 L471.8 1448.5 L468.3 1451.0 M450.0 1367.7 L454.4 1367.4 L458.8 1367.9 L463.2 1369.0 L467.4 1370.7 L471.4 1373.1 L475.1 1376.1 L478.5 1379.6 L481.6 1383.7 L484.3 1388.1 L486.5 1393.0 L488.2 1398.1 L489.4 1403.5 L490.1 1409.0 L490.3 1414.6 L489.9 1420.2 L489.0 1425.7 L487.6 1431.0 L485.6 1436.0 L483.2 1440.7 L480.4 1445.0 L477.2 1448.8 L473.6 1452.2 L469.8 1454.9 M449.6 1363.4 L454.5 1363.1 L459.3 1363.6 L464.0 1364.8 L468.6 1366.7 L473.0 1369.3 L477.1 1372.6 L480.9 1376.5 L484.2 1380.9 L487.1 1385.8 L489.5 1391.1 L491.4 1396.7 L492.8 1402.6 L493.5 1408.6 L493.7 1414.7 L493.3 1420.8 L492.3 1426.8 L490.7 1432.6 L488.6 1438.1 L486.0 1443.2 L482.9 1448.0 L479.4 1452.2 L475.5 1455.8 L471.3 1458.8 M449.3 1359.1 L454.5 1358.8 L459.8 1359.3 L464.9 1360.6 L469.9 1362.7 L474.7 1365.5 L479.1 1369.1 L483.2 1373.3 L486.8 1378.1 L490.0 1383.4 L492.6 1389.1 L494.6 1395.3 L496.1 1401.6 L496.9 1408.2 L497.1 1414.8 L496.7 1421.4 L495.6 1427.9 L493.9 1434.2 L491.6 1440.2 L488.8 1445.8 L485.4 1450.9 L481.6 1455.5 L477.4 1459.4 L472.8 1462.7 M448.9 1354.8 L454.6 1354.5 L460.2 1355.0 L465.8 1356.4 L471.2 1358.7 L476.3 1361.8 L481.1 1365.6 L485.5 1370.1 L489.4 1375.3 L492.8 1381.0 L495.7 1387.2 L497.9 1393.8 L499.4 1400.7 L500.3 1407.8 L500.5 1414.9 L500.0 1422.1 L498.9 1429.1 L497.1 1435.9 L494.6 1442.3 L491.5 1448.3 L487.9 1453.9 L483.8 1458.8 L479.2 1463.0 L474.3 1466.6 M448.6 1350.5 L454.6 1350.1 L460.7 1350.7 L466.7 1352.3 L472.4 1354.7 L478.0 1358.0 L483.1 1362.1 L487.8 1366.9 L492.0 1372.5 L495.7 1378.6 L498.7 1385.3 L501.1 1392.4 L502.8 1399.8 L503.7 1407.4 L503.9 1415.0 L503.4 1422.7 L502.2 1430.2 L500.2 1437.5 L497.6 1444.4 L494.3 1450.9 L490.4 1456.8 L486.0 1462.1 L481.1 1466.7 L475.8 1470.4 M448.2 1346.2 L454.7 1345.8 L461.2 1346.5 L467.5 1348.1 L473.7 1350.7 L479.6 1354.2 L485.1 1358.6 L490.1 1363.8 L494.6 1369.7 L498.5 1376.3 L501.8 1383.4 L504.3 1390.9 L506.1 1398.8 L507.1 1406.9 L507.4 1415.1 L506.8 1423.3 L505.5 1431.4 L503.4 1439.1 L500.6 1446.5 L497.1 1453.4 L492.9 1459.8 L488.2 1465.4 L482.9 1470.3 L477.3 1474.3 M447.8 1341.9 L454.8 1341.5 L461.6 1342.2 L468.4 1343.9 L475.0 1346.7 L481.2 1350.4 L487.1 1355.1 L492.5 1360.6 L497.2 1366.9 L501.4 1373.9 L504.8 1381.4 L507.5 1389.5 L509.4 1397.9 L510.5 1406.5 L510.8 1415.2 L510.2 1424.0 L508.8 1432.5 L506.6 1440.8 L503.5 1448.6 L499.8 1456.0 L495.4 1462.7 L490.4 1468.7 L484.8 1473.9 L478.8 1478.2 M447.5 1337.6 L454.8 1337.2 L462.1 1337.9 L469.3 1339.7 L476.3 1342.7 L482.9 1346.6 L489.1 1351.6 L494.8 1357.4 L499.8 1364.1 L504.2 1371.5 L507.9 1379.5 L510.8 1388.1 L512.8 1397.0 L513.9 1406.1 L514.2 1415.4 L513.6 1424.6 L512.1 1433.6 L509.7 1442.4 L506.5 1450.8 L502.6 1458.5 L497.9 1465.7 L492.6 1472.0 L486.7 1477.5 L480.3 1482.1 M447.1 1333.3 L454.9 1332.9 L462.6 1333.6 L470.2 1335.6 L477.5 1338.6 L484.5 1342.8 L491.1 1348.0 L497.1 1354.2 L502.5 1361.3 L507.1 1369.1 L511.0 1377.6 L514.0 1386.6 L516.1 1396.0 L517.3 1405.7 L517.6 1415.5 L517.0 1425.2 L515.4 1434.8 L512.9 1444.0 L509.5 1452.9 L505.3 1461.1 L500.4 1468.6 L494.8 1475.4 L488.5 1481.2 L481.8 1486.0 M446.8 1329.0 L454.9 1328.6 L463.1 1329.3 L471.1 1331.4 L478.8 1334.6 L486.2 1339.0 L493.1 1344.5 L499.4 1351.1 L505.1 1358.5 L510.0 1366.7 L514.0 1375.7 L517.2 1385.2 L519.5 1395.1 L520.7 1405.3 L521.0 1415.6 L520.3 1425.8 L518.7 1435.9 L516.0 1445.7 L512.5 1455.0 L508.1 1463.6 L502.9 1471.6 L497.0 1478.7 L490.4 1484.8 L483.3 1489.9 M446.4 1324.7 L455.0 1324.2 L463.5 1325.1 L471.9 1327.2 L480.1 1330.6 L487.8 1335.3 L495.1 1341.0 L501.7 1347.9 L507.7 1355.7 L512.8 1364.4 L517.1 1373.8 L520.4 1383.7 L522.8 1394.1 L524.1 1404.8 L524.5 1415.7 L523.7 1426.5 L522.0 1437.1 L519.2 1447.3 L515.5 1457.1 L510.9 1466.2 L505.4 1474.5 L499.2 1482.0 L492.3 1488.4 L484.8 1493.7 M446.1 1320.4 L455.0 1319.9 L464.0 1320.8 L472.8 1323.0 L481.3 1326.6 L489.5 1331.5 L497.1 1337.5 L504.0 1344.7 L510.3 1352.9 L515.7 1362.0 L520.2 1371.8 L523.7 1382.3 L526.1 1393.2 L527.6 1404.4 L527.9 1415.8 L527.1 1427.1 L525.3 1438.2 L522.4 1449.0 L518.5 1459.2 L513.6 1468.7 L507.9 1477.5 L501.3 1485.3 L494.1 1492.0 L486.3 1497.6 M445.7 1316.1 L455.1 1315.6 L464.5 1316.5 L473.7 1318.9 L482.6 1322.6 L491.1 1327.7 L499.1 1334.0 L506.4 1341.5 L512.9 1350.1 L518.5 1359.6 L523.2 1369.9 L526.9 1380.8 L529.5 1392.3 L531.0 1404.0 L531.3 1415.9 L530.5 1427.7 L528.6 1439.3 L525.5 1450.6 L521.5 1461.3 L516.4 1471.3 L510.4 1480.4 L503.5 1488.6 L496.0 1495.7 L487.8 1501.5 M445.3 1311.8 L455.2 1311.3 L464.9 1312.2 L474.6 1314.7 L483.9 1318.6 L492.8 1323.9 L501.1 1330.5 L508.7 1338.4 L515.5 1347.3 L521.4 1357.2 L526.3 1368.0 L530.1 1379.4 L532.8 1391.3 L534.4 1403.6 L534.7 1416.0 L533.9 1428.3 L531.9 1440.5 L528.7 1452.2 L524.4 1463.4 L519.1 1473.8 L512.9 1483.4 L505.7 1491.9 L497.8 1499.3 L489.3 1505.4 M445.0 1307.5 L455.2 1307.0 L465.4 1308.0 L475.4 1310.5 L485.2 1314.6 L494.4 1320.1 L503.1 1327.0 L511.0 1335.2 L518.1 1344.5 L524.2 1354.9 L529.3 1366.1 L533.3 1378.0 L536.2 1390.4 L537.8 1403.2 L538.1 1416.1 L537.3 1429.0 L535.2 1441.6 L531.9 1453.9 L527.4 1465.5 L521.9 1476.4 L515.4 1486.4 L507.9 1495.2 L499.7 1502.9 L490.8 1509.3 M444.6 1303.2 L455.3 1302.6 L465.9 1303.7 L476.3 1306.3 L486.4 1310.6 L496.1 1316.3 L505.1 1323.5 L513.3 1332.0 L520.7 1341.7 L527.1 1352.5 L532.4 1364.1 L536.6 1376.5 L539.5 1389.5 L541.2 1402.7 L541.6 1416.2 L540.6 1429.6 L538.5 1442.8 L535.0 1455.5 L530.4 1467.6 L524.7 1478.9 L517.9 1489.3 L510.1 1498.5 L501.6 1506.5 L492.3 1513.2" stroke="#5a5a5a" stroke-width="0.9" fill="none" opacity="0.85"/></g>
<path d="M270.0 1381.0 L280.0 1378.2 L309.5 1370.9 L349.0 1361.0 L375.4 1356.4 L388.6 1356.5 L415.0 1378.8 L441.3 1402.6 L450.0 1409.0 L453.8 1413.5 L451.0 1419.5 L447.9 1422.3 L441.3 1426.3 L428.1 1432.9 L401.8 1444.7 L375.4 1451.3 L335.9 1459.2 L280.0 1471.1 L270.0 1473.0 Z" stroke="#222" stroke-width="20.0" fill="none" stroke-linejoin="round" opacity="0.15"/>
<path d="M270.0 1381.0 L280.0 1378.2 L309.5 1370.9 L349.0 1361.0 L375.4 1356.4 L388.6 1356.5 L415.0 1378.8 L441.3 1402.6 L450.0 1409.0 L453.8 1413.5 L451.0 1419.5 L447.9 1422.3 L441.3 1426.3 L428.1 1432.9 L401.8 1444.7 L375.4 1451.3 L335.9 1459.2 L280.0 1471.1 L270.0 1473.0 Z" stroke="#222" stroke-width="12.0" fill="none" stroke-linejoin="round" opacity="0.2"/>
<path d="M270.0 1381.0 L280.0 1378.2 L309.5 1370.9 L349.0 1361.0 L375.4 1356.4 L388.6 1356.5 L415.0 1378.8 L441.3 1402.6 L450.0 1409.0 L453.8 1413.5 L451.0 1419.5 L447.9 1422.3 L441.3 1426.3 L428.1 1432.9 L401.8 1444.7 L375.4 1451.3 L335.9 1459.2 L280.0 1471.1 L270.0 1473.0 Z" stroke="#222" stroke-width="6.0" fill="none" stroke-linejoin="round" opacity="0.3"/>
<path d="M270.0 1381.0 L280.0 1378.2 L309.5 1370.9 L349.0 1361.0 L375.4 1356.4 L388.6 1356.5 L415.0 1378.8 L441.3 1402.6 L450.0 1409.0 L453.8 1413.5 L451.0 1419.5 L447.9 1422.3 L441.3 1426.3 L428.1 1432.9 L401.8 1444.7 L375.4 1451.3 L335.9 1459.2 L280.0 1471.1 L270.0 1473.0 Z" fill="#fff" stroke="#000" stroke-width="4" stroke-linejoin="round"/>
</g>
<rect x="474.5" y="1336.5" width="49.5" height="47.5" fill="#e4eeee"/>
<rect x="477.5" y="1339" width="42.7" height="42.5" fill="#ff0000"/>
<rect x="470" y="1133.8" width="41.5" height="39.8" fill="#77e777"/>
<rect x="750.2" y="1056.5" width="42.2" height="40" fill="#4433ff"/>
<rect x="1107.1" y="960.5" width="40.1" height="39.5" fill="#a5a5a5"/>
<defs><clipPath id="pc"><rect x="227" y="44" width="1682" height="1543"/></clipPath></defs>
<g clip-path="url(#pc)" fill="none" stroke-linejoin="round">
<path d="M223.8 409.0 L378.9 146.6 L469.7 573.6 L534.0 224.4 L584.0 202.4 L624.8 538.2 L659.3 331.7 L689.2 149.9 L715.5 222.0 L739.1 411.3 L760.4 172.4 L779.9 363.2 L797.8 46.5 L814.4 171.2 L829.8 154.1 L844.3 332.7 L857.9 302.0 L870.6 289.5 L882.7 262.0 L894.2 232.0 L905.1 198.0 L915.6 320.0 L925.5 411.0 L935.0 360.0 L944.2 314.5 L952.9 385.5 L961.4 254.8 L969.5 350.0 L977.4 217.7 L985.0 343.0 L992.3 437.0 L999.4 292.0 L1006.3 400.0 L1013.0 475.0 L1019.5 231.7 L1025.8 260.0 L1031.9 285.5 L1037.9 350.0 L1043.7 418.5 L1049.3 325.0 L1054.9 317.0 L1060.3 409.0 L1065.5 271.2 L1070.7 330.0 L1075.7 364.7 L1080.6 400.0 L1085.4 418.5 L1090.1 580.0 L1094.8 450.0 L1099.3 367.8 L1103.7 453.0 L1108.1 352.0 L1112.3 595.5 L1116.5 523.2 L1120.6 433.0 L1124.6 603.0 L1128.6 396.4 L1132.5 528.7 L1136.3 497.1 L1140.1 368.1 L1143.8 392.9 L1147.4 328.5 L1151.0 370.2 L1154.5 293.6 L1158.0 642.3 L1161.4 310.8 L1164.8 398.1 L1168.1 599.7 L1171.4 670.0 L1174.6 412.0 L1177.8 650.4 L1180.9 463.4 L1184.0 375.2 L1187.0 511.8 L1190.0 493.1 L1193.0 504.8 L1195.9 468.6 L1198.8 415.7 L1201.6 457.7 L1204.5 495.4 L1207.2 503.9 L1210.0 546.1 L1212.7 591.7 L1215.4 773.9 L1218.0 479.9 L1220.6 443.0 L1223.2 675.6 L1225.8 565.6 L1228.3 707.7 L1230.8 417.0 L1233.3 439.5 L1235.7 610.4 L1238.2 845.2 L1240.6 662.3 L1242.9 734.5 L1245.3 522.2 L1247.6 618.4 L1249.9 516.5 L1252.2 579.2 L1254.4 660.8 L1256.6 415.7 L1258.8 654.7 L1261.0 648.0 L1263.2 666.3 L1265.3 652.1 L1267.4 618.6 L1269.5 541.0 L1271.6 660.4 L1273.7 609.1 L1275.7 510.0 L1277.8 649.9 L1279.8 766.8 L1281.8 544.7 L1283.7 664.6 L1285.7 670.1 L1287.6 826.9 L1289.5 733.0 L1291.4 523.3 L1293.3 718.3 L1295.2 659.5 L1297.1 577.6 L1298.9 901.0 L1300.7 1013.1 L1302.5 576.1 L1304.3 687.8 L1306.1 685.7 L1307.9 1023.5 L1309.6 652.0 L1311.4 831.3 L1313.1 718.4 L1314.8 890.2 L1316.5 850.7 L1318.2 964.5 L1319.9 738.6 L1321.6 823.0 L1323.2 595.6 L1324.9 754.2 L1326.5 622.8 L1328.1 706.5 L1329.7 721.7 L1331.3 1146.5 L1332.9 691.7 L1334.4 626.4 L1336.0 723.7 L1337.6 916.0 L1339.1 787.4 L1340.6 1118.5 L1342.1 751.4 L1343.6 754.0 L1345.1 660.8 L1346.6 903.1 L1348.1 1175.8 L1349.6 713.4 L1351.0 803.9 L1352.5 643.2 L1353.9 650.0 L1355.3 878.6 L1356.8 958.4 L1358.2 853.8 L1359.6 871.9 L1361.0 711.6 L1362.4 775.2 L1363.7 915.7 L1365.1 966.8 L1366.5 944.8 L1367.8 922.4 L1369.2 931.6 L1370.5 671.1 L1371.8 645.1 L1373.2 975.7 L1374.5 879.8 L1375.8 751.1 L1377.1 775.0 L1378.4 762.2 L1379.6 940.0 L1380.9 826.4 L1382.2 740.4 L1383.4 796.5 L1384.7 1160.5 L1385.9 988.4 L1387.2 1138.7 L1388.4 646.0 L1389.6 859.4 L1390.9 949.6 L1392.1 988.3 L1393.3 906.6 L1394.5 1079.0 L1395.7 911.1 L1396.9 758.9 L1398.0 938.9 L1399.2 761.9 L1400.4 815.4 L1401.5 790.1 L1402.7 1039.0 L1403.9 1159.2 L1405.0 709.9 L1406.1 809.0 L1407.3 1007.5 L1408.4 880.0 L1409.5 1257.0 L1410.6 1098.2 L1411.7 952.8 L1412.9 912.7 L1414.0 881.4 L1415.0 867.5 L1416.1 879.7 L1417.2 977.8 L1418.3 967.3 L1419.4 1179.7 L1420.4 1119.6 L1421.5 985.9 L1422.6 845.5 L1423.6 1008.6 L1424.7 1165.6 L1425.7 886.2 L1426.7 1136.8 L1427.8 876.2 L1428.8 916.0 L1429.8 847.1 L1430.9 993.6 L1431.9 921.8 L1432.9 1028.6 L1433.9 871.2 L1434.9 987.6 L1435.9 895.0 L1436.9 878.9 L1437.9 775.7 L1438.8 1079.0 L1439.8 972.1 L1440.8 848.4 L1441.8 809.7 L1442.7 782.5 L1443.7 840.8 L1444.7 914.2 L1445.6 899.7 L1446.6 971.2 L1447.5 928.3 L1448.5 1029.6 L1449.4 953.6 L1450.3 887.5 L1451.3 1030.6 L1452.2 1006.4 L1453.1 1068.7 L1454.0 1069.4 L1454.9 955.7 L1455.8 1017.9 L1456.8 1094.2 L1457.7 822.2 L1458.6 916.1 L1459.5 1006.5 L1460.4 922.2 L1461.2 800.2 L1462.1 994.8 L1463.0 831.1 L1463.9 1021.7 L1464.8 1069.9 L1465.6 944.3 L1466.5 1220.4 L1467.4 1091.6 L1468.2 905.6 L1469.1 1025.6 L1470.0 951.0 L1470.8 1097.0 L1471.7 888.4 L1472.5 987.0 L1473.3 983.5 L1474.2 952.4 L1475.0 1025.8 L1475.9 950.4 L1476.7 895.3 L1477.5 1180.6 L1478.3 1023.1 L1479.2 883.2 L1480.0 993.8 L1480.8 897.2 L1481.6 982.9 L1482.4 894.7 L1483.2 933.5 L1484.0 912.0 L1484.8 1114.3 L1485.6 997.1 L1486.4 926.0 L1487.2 1082.3 L1488.0 899.0 L1488.8 1006.7 L1489.6 931.3 L1490.3 1043.7 L1491.1 1007.4 L1491.9 905.9 L1492.7 869.7 L1493.4 1193.5 L1494.2 1005.5 L1495.0 1229.8 L1495.7 1044.9 L1496.5 1055.6 L1497.3 983.8 L1498.0 925.4 L1498.8 974.7 L1499.5 1109.7 L1500.3 1097.0 L1501.0 1011.4 L1501.7 939.7 L1502.5 1034.6 L1503.2 1041.9 L1504.0 1067.4 L1504.7 957.4 L1505.4 1005.2 L1506.2 1025.1 L1506.9 1033.1 L1507.6 1002.0 L1508.3 1065.8 L1509.0 1129.8 L1509.8 1123.7 L1510.5 1063.8 L1511.2 1086.1 L1511.9 1030.1 L1512.6 1028.8 L1513.3 1112.3 L1514.0 1072.2 L1514.7 1228.9 L1515.4 1102.5 L1516.1 1088.7 L1516.8 1062.2 L1517.5 1052.3 L1518.2 1006.1 L1518.9 1152.9 L1519.5 1070.6 L1520.2 1032.9 L1520.9 1051.4 L1521.6 1086.9 L1522.3 1102.1 L1522.9 920.2 L1523.6 1080.2 L1524.3 880.5 L1525.0 1024.0 L1525.6 1089.1 L1526.3 1096.9 L1527.0 1151.5 L1527.6 1139.7 L1528.3 1108.1 L1528.9 1058.8 L1529.6 1080.7 L1530.2 1003.3 L1530.9 1012.7 L1531.5 1053.9 L1532.2 1145.2 L1532.8 997.5 L1533.5 1037.3 L1534.1 1048.8 L1534.8 1026.7 L1535.4 1131.5 L1536.0 1004.1 L1536.7 1041.2 L1537.3 987.4 L1537.9 1080.0 L1538.6 1099.0 L1539.2 985.4 L1539.8 1089.1 L1540.4 1008.3 L1541.1 1027.4 L1541.7 1099.8 L1542.3 1013.1 L1542.9 1165.4 L1543.5 1145.9 L1544.1 1084.1 L1544.8 1082.2 L1545.4 992.2 L1546.0 1203.2 L1546.6 1093.5 L1547.2 1113.3 L1547.8 1095.8 L1548.4 1022.4 L1549.0 1080.7 L1549.6 1112.2 L1550.2 1072.4 L1550.8 1180.4 L1551.4 1069.4 L1552.0 1049.8 L1552.6 1113.1 L1553.2 1108.2 L1553.8 1228.6 L1554.3 1126.1 L1554.9 1231.9 L1555.5 1046.2 L1556.1 1124.0 L1556.7 1126.0 L1557.2 1100.4 L1557.8 1105.9 L1558.4 1044.2 L1559.0 1030.6 L1559.5 1066.5 L1560.1 1017.6 L1560.7 1133.2 L1561.3 1191.5 L1561.8 1104.3 L1562.4 1131.3 L1563.0 1113.9 L1563.5 1054.4 L1564.1 1162.3 L1564.6 1083.7 L1565.2 1073.6 L1565.8 1125.2 L1566.3 1114.3 L1566.9 1081.3 L1567.4 1123.9 L1568.0 1049.7 L1568.5 1229.0 L1569.1 992.3 L1569.6 1157.6 L1570.2 1137.7 L1570.7 1074.9 L1571.3 1103.6 L1571.8 1125.0 L1572.3 1111.3 L1572.9 1033.3 L1573.4 1124.2 L1574.0 1140.6 L1574.5 1127.8 L1575.0 1142.3 L1575.6 1078.8 L1576.1 1084.6 L1576.6 1176.8 L1577.2 1106.3 L1577.7 1189.2 L1578.2 1154.8 L1578.7 1085.4 L1579.3 1146.2 L1579.8 1101.4 L1580.3 1080.4 L1580.8 1147.4 L1581.3 1050.4 L1581.9 1090.5 L1582.4 1088.7 L1582.9 1067.1 L1583.4 1104.1 L1583.9 1118.6 L1584.4 1127.1 L1585.0 1117.1 L1585.5 1129.8 L1586.0 1138.7 L1586.5 1151.4 L1587.0 1117.0 L1587.5 1128.4 L1588.0 1100.4 L1588.5 1092.0 L1589.0 1135.7 L1589.5 1078.0 L1590.0 1184.2 L1590.5 1066.1 L1591.0 1130.2 L1591.5 1125.0 L1592.0 1059.4 L1592.5 1131.6 L1593.0 1124.6 L1593.5 1141.7 L1594.0 1120.4 L1594.5 1114.7 L1594.9 1119.2 L1595.4 1144.0 L1595.9 1122.3 L1596.4 1127.7 L1596.9 1170.3 L1597.4 1107.6 L1597.9 1088.0 L1598.3 1174.4 L1598.8 1120.0 L1599.3 1159.8 L1599.8 1157.5 L1600.3 1097.2 L1600.7 1147.1 L1601.2 1083.4 L1601.7 1151.0 L1602.2 1148.1 L1602.6 1124.6 L1603.1 1046.4 L1603.6 1130.5 L1604.0 1176.0 L1604.5 1116.8 L1605.0 1144.8 L1605.4 1141.0 L1605.9 1119.2 L1606.4 1117.9 L1606.8 1209.4 L1607.3 1131.6 L1607.8 1074.3 L1608.2 1186.9 L1608.7 1128.6 L1609.1 1139.3 L1609.6 1169.6 L1610.1 1169.1 L1610.5 1082.1 L1611.0 1186.4 L1611.4 1115.9 L1611.9 1138.9 L1612.3 1130.4 L1612.8 1128.8 L1613.2 1136.0 L1613.7 1129.9 L1614.1 1150.2 L1614.6 1161.9 L1615.0 1114.9 L1615.5 1149.2 L1615.9 1164.9 L1616.4 1152.5 L1616.8 1140.0 L1617.2 1169.6 L1617.7 1112.5 L1618.1 1106.9 L1618.6 1120.5 L1619.0 1160.9 L1619.4 1146.8 L1619.9 1173.2 L1620.3 1167.7 L1620.8 1140.3 L1621.2 1158.4 L1621.6 1150.2 L1622.1 1154.0 L1622.5 1166.1 L1622.9 1119.1 L1623.4 1144.0 L1623.8 1136.8 L1624.2 1131.1 L1624.6 1184.1 L1625.1 1160.1 L1625.5 1113.9 L1625.9 1156.6 L1626.3 1177.0 L1626.8 1187.5 L1627.2 1168.5 L1627.6 1186.9 L1628.0 1144.1 L1628.5 1156.3 L1628.9 1175.4 L1629.3 1125.4 L1629.7 1175.1 L1630.1 1153.5 L1630.6 1170.1 L1631.0 1189.0 L1631.4 1134.1 L1631.8 1168.2 L1632.2 1147.1 L1632.6 1150.4 L1633.0 1159.8 L1633.5 1213.9 L1633.9 1150.3 L1634.3 1159.0 L1634.7 1173.6 L1635.1 1148.2 L1635.5 1147.8 L1635.9 1139.5 L1636.3 1158.5 L1636.7 1176.5 L1637.1 1169.2 L1637.5 1143.1 L1637.9 1213.3 L1638.3 1169.7 L1638.7 1144.0 L1639.1 1156.0 L1639.5 1143.0 L1639.9 1155.7 L1640.3 1153.1 L1640.7 1143.0 L1641.1 1176.0 L1641.5 1187.8 L1641.9 1143.1 L1642.3 1197.2 L1642.7 1177.4 L1643.1 1179.1 L1643.5 1186.5 L1643.9 1173.5 L1644.3 1158.0 L1644.7 1163.2 L1645.1 1177.9 L1645.5 1163.4 L1645.9 1185.7 L1646.2 1180.5 L1646.6 1172.5 L1647.0 1170.1 L1647.4 1184.0 L1647.8 1208.7 L1648.2 1151.9 L1648.6 1170.6 L1648.9 1161.9 L1649.3 1152.3 L1649.7 1163.5 L1650.1 1161.0 L1650.5 1177.8 L1650.9 1176.3 L1651.2 1163.1 L1651.6 1129.4 L1652.0 1159.0 L1652.4 1177.7 L1652.8 1158.5 L1653.1 1173.3 L1653.5 1162.6 L1653.9 1169.8 L1654.3 1177.4 L1654.6 1189.6 L1655.0 1174.7 L1655.4 1187.3 L1655.8 1189.7 L1656.1 1178.6 L1656.5 1177.3 L1656.9 1196.3 L1657.2 1176.6 L1657.6 1153.9 L1658.0 1159.3 L1658.3 1179.7 L1658.7 1175.1 L1659.1 1209.4 L1659.4 1165.4 L1659.8 1154.3 L1660.2 1169.7 L1660.5 1191.4 L1660.9 1172.7 L1661.3 1161.7 L1661.6 1188.0 L1662.0 1163.8 L1662.4 1168.2 L1662.7 1162.7 L1663.1 1172.1 L1663.4 1177.6 L1663.8 1183.0 L1664.2 1181.3 L1664.5 1170.8 L1664.9 1180.5 L1665.2 1185.2 L1665.6 1173.9 L1665.9 1188.7 L1666.3 1179.0 L1666.7 1141.1 L1667.0 1178.2 L1667.4 1187.7 L1667.7 1174.2 L1668.1 1180.5 L1668.4 1178.8 L1668.8 1158.0 L1669.1 1173.4 L1669.5 1197.5 L1669.8 1184.8 L1670.2 1192.6 L1670.5 1176.6 L1670.9 1169.4 L1671.2 1181.6 L1671.6 1191.4 L1671.9 1167.1 L1672.3 1202.1 L1672.6 1190.9 L1672.9 1176.3 L1673.3 1184.2 L1673.6 1194.8 L1674.0 1174.9 L1674.3 1173.9 L1674.7 1189.5 L1675.0 1171.9 L1675.4 1184.8 L1675.7 1174.6 L1676.0 1188.1 L1676.4 1196.1 L1676.7 1172.3 L1677.0 1162.1 L1677.4 1193.3 L1677.7 1189.7 L1678.1 1181.5 L1678.4 1168.5 L1678.7 1205.3 L1679.1 1175.6 L1679.4 1194.3 L1679.7 1183.6 L1680.1 1190.7 L1680.4 1160.2 L1680.7 1196.4 L1681.1 1181.6 L1681.4 1168.9 L1681.7 1203.2 L1682.1 1186.6 L1682.4 1177.1 L1682.7 1178.4 L1683.1 1190.1 L1683.4 1186.3 L1683.7 1190.4 L1684.0 1155.8 L1684.4 1203.4 L1684.7 1196.7 L1685.0 1191.8 L1685.4 1181.7 L1685.7 1199.3 L1686.0 1167.5 L1686.3 1190.0 L1686.7 1174.2 L1687.0 1196.0 L1687.3 1212.9 L1687.6 1195.1 L1688.0 1201.7 L1688.3 1191.4 L1688.6 1161.3 L1688.9 1213.2 L1689.2 1191.6 L1689.6 1204.2 L1689.9 1189.5 L1690.2 1203.2 L1690.5 1227.2 L1690.8 1192.1 L1691.2 1199.5 L1691.5 1201.1 L1691.8 1195.7 L1692.1 1211.8 L1692.4 1179.7 L1692.7 1209.3 L1693.1 1185.5 L1693.4 1208.3 L1693.7 1197.6 L1694.0 1186.8 L1694.3 1187.5 L1694.6 1207.9 L1694.9 1198.7 L1695.2 1212.1 L1695.6 1201.2 L1695.9 1205.2 L1696.2 1219.6 L1696.5 1183.9 L1696.8 1214.0 L1697.1 1205.5 L1697.4 1198.4 L1697.7 1198.8 L1698.0 1198.1 L1698.3 1218.4 L1698.7 1203.4 L1699.0 1200.6 L1699.3 1200.0 L1699.6 1214.5 L1699.9 1203.6 L1700.2 1216.4 L1700.5 1234.4 L1700.8 1217.5 L1701.1 1189.8 L1701.4 1210.3 L1701.7 1203.1 L1702.0 1226.9 L1702.3 1217.1 L1702.6 1199.5 L1702.9 1229.3 L1703.2 1221.1 L1703.5 1192.6 L1703.8 1218.1 L1704.1 1218.4 L1704.4 1192.6 L1704.7 1214.7 L1705.0 1209.0 L1705.3 1208.7 L1705.6 1211.0 L1705.9 1207.7 L1706.2 1200.8 L1706.5 1215.1 L1706.8 1209.4 L1707.1 1216.3 L1707.4 1206.9 L1707.7 1221.2 L1708.0 1210.6 L1708.3 1217.7 L1708.6 1205.1 L1708.9 1209.9 L1709.2 1216.6 L1709.5 1229.8 L1709.8 1241.9 L1710.0 1206.9 L1710.3 1231.5 L1710.6 1234.7 L1710.9 1201.0 L1711.2 1203.8 L1711.5 1237.9 L1711.8 1203.2 L1712.1 1205.5 L1712.4 1217.5 L1712.7 1187.9 L1712.9 1199.2 L1713.2 1203.3 L1713.5 1222.5 L1713.8 1223.4 L1714.1 1219.4 L1714.4 1202.4 L1714.7 1232.5 L1715.0 1218.7 L1715.2 1220.2 L1715.5 1211.6 L1715.8 1218.3 L1716.1 1200.7 L1716.4 1228.2 L1716.7 1218.0 L1716.9 1223.2 L1717.2 1223.2 L1717.5 1217.7 L1717.8 1205.7 L1718.1 1201.6 L1718.4 1225.5 L1718.6 1234.8 L1718.9 1208.7 L1719.2 1245.4 L1719.5 1217.8 L1719.8 1221.1 L1720.0 1221.1 L1720.3 1232.1 L1720.6 1219.9 L1720.9 1218.9 L1721.2 1223.0 L1721.4 1220.1 L1721.7 1225.2 L1722.0 1210.2 L1722.3 1223.4 L1722.5 1229.2 L1722.8 1234.4 L1723.1 1204.3 L1723.4 1205.1 L1723.6 1242.6 L1723.9 1249.6 L1724.2 1213.0 L1724.5 1221.2 L1724.7 1226.1 L1725.0 1234.9 L1725.3 1226.7 L1725.6 1235.2 L1725.8 1222.5 L1726.1 1217.4 L1726.4 1218.9 L1726.6 1220.8 L1726.9 1228.5 L1727.2 1231.6 L1727.5 1211.9 L1727.7 1231.2 L1728.0 1223.0 L1728.3 1221.6 L1728.5 1227.1 L1728.8 1235.3 L1729.1 1227.5 L1729.3 1214.5 L1729.6 1224.7 L1729.9 1217.5 L1730.1 1217.8 L1730.4 1215.5 L1730.7 1224.6 L1730.9 1226.8 L1731.2 1243.0 L1731.5 1236.1 L1731.7 1214.7 L1732.0 1234.9 L1732.3 1227.9 L1732.5 1214.5 L1732.8 1222.3 L1733.1 1237.3 L1733.3 1232.6 L1733.6 1227.2 L1733.9 1220.9 L1734.1 1248.5 L1734.4 1228.8 L1734.6 1238.7 L1734.9 1244.5 L1735.2 1229.4 L1735.4 1232.9 L1735.7 1236.3 L1735.9 1232.8 L1736.2 1239.7 L1736.5 1215.4 L1736.7 1234.8 L1737.0 1225.1 L1737.2 1216.6 L1737.5 1236.8 L1737.8 1228.8 L1738.0 1237.0 L1738.3 1239.8 L1738.5 1227.0 L1738.8 1255.9 L1739.0 1242.5 L1739.3 1234.4 L1739.6 1227.7 L1739.8 1237.1 L1740.1 1229.5 L1740.3 1249.2 L1740.6 1236.6 L1740.8 1245.0 L1741.1 1251.5 L1741.3 1225.9 L1741.6 1233.4 L1741.9 1233.5 L1742.1 1228.8 L1742.4 1233.3 L1742.6 1237.1 L1742.9 1225.8 L1743.1 1244.5 L1743.4 1256.6 L1743.6 1244.8 L1743.9 1236.6 L1744.1 1247.1 L1744.4 1238.0 L1744.6 1240.7 L1744.9 1241.2 L1745.1 1236.9 L1745.4 1250.0 L1745.6 1247.2 L1745.9 1228.8 L1746.1 1238.1 L1746.4 1226.2 L1746.6 1236.7 L1746.9 1239.4 L1747.1 1243.3 L1747.4 1258.7 L1747.6 1235.6 L1747.9 1249.2 L1748.1 1248.7 L1748.3 1247.8 L1748.6 1247.2 L1748.8 1223.1 L1749.1 1239.1 L1749.3 1231.6 L1749.6 1233.5 L1749.8 1236.0 L1750.1 1235.6 L1750.3 1235.9 L1750.6 1240.7 L1750.8 1232.8 L1751.0 1238.5 L1751.3 1245.0 L1751.5 1249.8 L1751.8 1230.1 L1752.0 1241.4 L1752.3 1255.4 L1752.5 1247.2 L1752.7 1247.7 L1753.0 1256.6 L1753.2 1249.1 L1753.5 1236.6 L1753.7 1242.2 L1753.9 1247.0 L1754.2 1249.9 L1754.4 1247.3 L1754.7 1243.8 L1754.9 1251.3 L1755.1 1246.5 L1755.4 1250.2 L1755.6 1251.7 L1755.9 1243.5 L1756.1 1243.9 L1756.3 1241.4 L1756.6 1247.0 L1756.8 1239.5 L1757.0 1261.1 L1757.3 1245.9 L1757.5 1254.9 L1757.7 1245.1 L1758.0 1257.1 L1758.2 1239.7 L1758.5 1248.8 L1758.7 1246.4 L1758.9 1260.2 L1759.2 1249.6 L1759.4 1262.0 L1759.6 1246.8 L1759.9 1254.5 L1760.1 1247.7 L1760.3 1251.8 L1760.6 1254.2 L1760.8 1254.1 L1761.0 1259.8 L1761.3 1249.8 L1761.5 1249.0 L1761.7 1245.0 L1762.0 1247.5 L1762.2 1256.3 L1762.4 1260.8 L1762.7 1258.8 L1762.9 1257.9 L1763.1 1254.0 L1763.3 1245.0 L1763.6 1245.5 L1763.8 1255.2 L1764.0 1253.5 L1764.3 1249.0 L1764.5 1263.4 L1764.7 1240.0 L1765.0 1227.0 L1765.2 1256.9 L1765.4 1258.5 L1765.6 1241.8 L1765.9 1255.1 L1766.1 1262.2 L1766.3 1255.4 L1766.5 1251.5 L1766.8 1244.2 L1767.0 1255.0 L1767.2 1250.7 L1767.5 1260.5 L1767.7 1249.0 L1767.9 1248.7 L1768.1 1250.2 L1768.4 1255.8 L1768.6 1256.1 L1768.8 1257.6 L1769.0 1252.3 L1769.3 1252.7 L1769.5 1248.4 L1769.7 1260.4 L1769.9 1247.5 L1770.1 1264.0 L1770.4 1253.0 L1770.6 1253.0 L1770.8 1247.0 L1771.0 1248.6 L1771.3 1252.9 L1771.5 1263.1 L1771.7 1256.2 L1771.9 1256.3 L1772.1 1254.2 L1772.4 1271.8 L1772.6 1257.9 L1772.8 1257.1 L1773.0 1260.1 L1773.3 1255.7 L1773.5 1263.2 L1773.7 1257.0 L1773.9 1259.9 L1774.1 1263.1 L1774.4 1252.3 L1774.6 1255.8 L1774.8 1255.6 L1775.0 1266.8 L1775.2 1265.2 L1775.4 1263.0 L1775.7 1263.1 L1775.9 1251.2 L1776.1 1268.9 L1776.3 1253.4 L1776.5 1250.0 L1776.7 1262.2 L1777.0 1254.2 L1777.2 1259.7 L1777.4 1262.4 L1777.6 1266.3 L1777.8 1264.6 L1778.0 1262.3 L1778.3 1272.6 L1778.5 1254.4 L1778.7 1265.0 L1778.9 1264.4 L1779.1 1260.0 L1779.3 1255.3 L1779.6 1254.1 L1779.8 1268.2 L1780.0 1262.8 L1780.2 1261.8 L1780.4 1272.1 L1780.6 1259.2 L1780.8 1257.8 L1781.0 1269.4 L1781.3 1262.6 L1781.5 1267.2 L1781.7 1255.8 L1781.9 1260.5 L1782.1 1268.8 L1782.3 1261.1 L1782.5 1264.6 L1782.7 1268.2 L1783.0 1262.7 L1783.2 1260.2 L1783.4 1260.6 L1783.6 1265.9 L1783.8 1263.5 L1784.0 1267.0 L1784.2 1262.7 L1784.4 1261.9 L1784.6 1263.3 L1784.8 1257.1 L1785.1 1269.0 L1785.3 1259.5 L1785.5 1266.7 L1785.7 1275.2 L1785.9 1277.2 L1786.1 1273.8 L1786.3 1260.9 L1786.5 1259.3 L1786.7 1277.0 L1786.9 1275.7 L1787.1 1264.5 L1787.3 1262.2 L1787.5 1271.5 L1787.8 1267.3 L1788.0 1258.0 L1788.2 1268.9 L1788.4 1264.1 L1788.6 1272.3 L1788.8 1257.8 L1789.0 1266.6 L1789.2 1273.3 L1789.4 1268.1 L1789.6 1271.1 L1789.8 1269.5 L1790.0 1270.0 L1790.2 1269.3 L1790.4 1269.8 L1790.6 1274.3 L1790.8 1268.8 L1791.0 1266.7 L1791.2 1269.2 L1791.4 1265.1 L1791.6 1270.0 L1791.8 1263.4 L1792.0 1271.4 L1792.2 1269.4 L1792.4 1263.6 L1792.7 1270.2 L1792.9 1274.7 L1793.1 1278.6 L1793.3 1273.5 L1793.5 1270.6 L1793.7 1268.6 L1793.9 1275.4 L1794.1 1281.5 L1794.3 1278.8 L1794.5 1267.3 L1794.7 1279.4 L1794.9 1272.5 L1795.1 1268.7 L1795.3 1263.0 L1795.5 1261.6 L1795.7 1276.2 L1795.9 1270.4 L1796.1 1275.0 L1796.3 1270.8 L1796.5 1270.1 L1796.7 1275.6 L1796.9 1271.7 L1797.1 1274.8 L1797.2 1267.4 L1797.4 1274.0 L1797.6 1263.3 L1797.8 1262.0 L1798.0 1279.7 L1798.2 1273.4 L1798.4 1271.0 L1798.6 1268.8 L1798.8 1271.3 L1799.0 1281.5 L1799.2 1275.9 L1799.4 1271.8 L1799.6 1271.3 L1799.8 1265.3 L1800.0 1272.5 L1800.2 1274.2 L1800.4 1272.4 L1800.6 1275.9 L1800.8 1272.3 L1801.0 1279.7 L1801.2 1274.4 L1801.4 1274.6 L1801.6 1273.5 L1801.8 1278.5 L1801.9 1271.5 L1802.1 1274.1 L1802.3 1276.4 L1802.5 1281.3 L1802.7 1274.7 L1802.9 1268.8 L1803.1 1280.9 L1803.3 1279.0 L1803.5 1281.4 L1803.7 1273.9 L1803.9 1283.8 L1804.1 1276.6 L1804.3 1275.4 L1804.5 1273.9 L1804.6 1276.4 L1804.8 1277.3 L1805.0 1272.8 L1805.2 1284.3 L1805.4 1278.6 L1805.6 1271.2 L1805.8 1274.9 L1806.0 1272.4 L1806.2 1284.2 L1806.4 1279.7 L1806.6 1277.0 L1806.7 1282.0 L1806.9 1271.5 L1807.1 1279.4 L1807.3 1279.4 L1807.5 1275.1 L1807.7 1276.2 L1807.9 1279.6 L1808.1 1281.6 L1808.3 1278.5 L1808.4 1271.7 L1808.6 1283.3 L1808.8 1278.1 L1809.0 1273.9 L1809.2 1280.4 L1809.4 1288.3 L1809.6 1274.2 L1809.8 1274.0 L1809.9 1275.2 L1810.1 1278.1 L1810.3 1273.5 L1810.5 1278.0 L1810.7 1271.9 L1810.9 1274.6 L1811.1 1268.7 L1811.2 1280.6 L1811.4 1274.5 L1811.6 1275.6 L1811.8 1272.9 L1812.0 1273.8 L1812.2 1284.3 L1812.4 1268.1 L1812.5 1280.2 L1812.7 1276.3 L1812.9 1278.5 L1813.1 1284.0 L1813.3 1272.0 L1813.5 1279.4 L1813.7 1269.4 L1813.8 1276.7 L1814.0 1277.8 L1814.2 1288.1 L1814.4 1280.0 L1814.6 1279.0 L1814.8 1278.4 L1814.9 1277.8 L1815.1 1274.0 L1815.3 1281.1 L1815.5 1281.0 L1815.7 1274.0 L1815.8 1281.4 L1816.0 1278.0 L1816.2 1272.1 L1816.4 1277.5 L1816.6 1281.9 L1816.8 1284.8 L1816.9 1281.6 L1817.1 1277.8 L1817.3 1281.8 L1817.5 1288.3 L1817.7 1278.7 L1817.8 1287.9 L1818.0 1278.0 L1818.2 1281.9 L1818.4 1285.5 L1818.6 1279.5 L1818.7 1286.4 L1818.9 1280.4 L1819.1 1282.6 L1819.3 1280.0 L1819.5 1284.3 L1819.6 1281.3 L1819.8 1277.9 L1820.0 1281.7 L1820.2 1278.2 L1820.4 1289.9 L1820.5 1285.6 L1820.7 1275.4 L1820.9 1284.7 L1821.1 1281.8 L1821.2 1281.1 L1821.4 1282.1 L1821.6 1289.4 L1821.8 1281.2 L1822.0 1277.4 L1822.1 1278.3 L1822.3 1283.5 L1822.5 1280.8 L1822.7 1278.9 L1822.8 1283.1 L1823.0 1281.5 L1823.2 1281.7 L1823.4 1284.0 L1823.5 1288.5 L1823.7 1289.9 L1823.9 1287.2 L1824.1 1282.0 L1824.2 1283.5 L1824.4 1282.8 L1824.6 1279.7 L1824.8 1278.1 L1824.9 1279.9 L1825.1 1282.7 L1825.3 1283.8 L1825.5 1283.5 L1825.6 1284.0 L1825.8 1281.2 L1826.0 1277.8 L1826.2 1287.6 L1826.3 1277.9 L1826.5 1283.3 L1826.7 1287.9 L1826.9 1286.9 L1827.0 1277.8 L1827.2 1285.0 L1827.4 1282.4 L1827.6 1283.5 L1827.7 1290.5 L1827.9 1290.6 L1828.1 1285.0 L1828.2 1278.4 L1828.4 1286.3 L1828.6 1288.3 L1828.8 1287.6 L1828.9 1285.6 L1829.1 1286.1 L1829.3 1281.0 L1829.4 1292.4 L1829.6 1282.1 L1829.8 1289.5 L1830.0 1288.7 L1830.1 1289.5 L1830.3 1282.0 L1830.5 1286.2 L1830.6 1289.6 L1830.8 1286.9 L1831.0 1280.1 L1831.2 1282.1 L1831.3 1288.6 L1831.5 1288.3 L1831.7 1287.6 L1831.8 1282.3 L1832.0 1282.0 L1832.2 1289.4 L1832.3 1287.3 L1832.5 1284.3 L1832.7 1294.7 L1832.8 1286.8 L1833.0 1286.9 L1833.2 1294.2 L1833.4 1287.6 L1833.5 1283.4 L1833.7 1284.4 L1833.9 1283.2 L1834.0 1289.2 L1834.2 1289.7 L1834.4 1280.6 L1834.5 1288.3 L1834.7 1288.5 L1834.9 1289.3 L1835.0 1284.9 L1835.2 1294.1 L1835.4 1285.5 L1835.5 1288.5 L1835.7 1286.6 L1835.9 1292.9 L1836.0 1291.4 L1836.2 1284.2 L1836.4 1287.1 L1836.5 1287.9 L1836.7 1287.1 L1836.9 1289.5 L1837.0 1291.7 L1837.2 1286.9 L1837.4 1291.2 L1837.5 1290.6 L1837.7 1292.9 L1837.9 1286.1 L1838.0 1290.7 L1838.2 1289.1 L1838.3 1285.7 L1838.5 1290.0 L1838.7 1285.2 L1838.8 1291.0 L1839.0 1290.9 L1839.2 1290.2 L1839.3 1289.4 L1839.5 1285.3 L1839.7 1291.3 L1839.8 1288.4 L1840.0 1289.9 L1840.2 1293.6 L1840.3 1288.9 L1840.5 1282.3 L1840.6 1287.8 L1840.8 1292.8 L1841.0 1290.5 L1841.1 1288.2 L1841.3 1285.8 L1841.5 1286.6 L1841.6 1287.4 L1841.8 1291.1 L1841.9 1294.6 L1842.1 1284.7 L1842.3 1287.8 L1842.4 1292.8 L1842.6 1288.5 L1842.8 1291.0 L1842.9 1291.8 L1843.1 1290.4 L1843.2 1292.1 L1843.4 1292.8 L1843.6 1287.2 L1843.7 1290.6 L1843.9 1294.1 L1844.0 1292.8 L1844.2 1292.7 L1844.4 1284.7 L1844.5 1285.9 L1844.7 1289.4 L1844.8 1290.4 L1845.0 1288.2 L1845.2 1292.8 L1845.3 1291.5 L1845.5 1290.1 L1845.6 1293.6 L1845.8 1289.1 L1846.0 1294.3 L1846.1 1291.6 L1846.3 1290.1 L1846.4 1290.6 L1846.6 1288.9 L1846.8 1289.8 L1846.9 1295.0 L1847.1 1288.7 L1847.2 1292.1 L1847.4 1291.1 L1847.5 1290.4 L1847.7 1293.2 L1847.9 1293.2 L1848.0 1294.8 L1848.2 1294.2 L1848.3 1293.2 L1848.5 1290.9 L1848.6 1292.7 L1848.8 1293.0 L1849.0 1293.9 L1849.1 1291.1 L1849.3 1292.3 L1849.4 1289.2 L1849.6 1294.6 L1849.7 1292.2 L1849.9 1293.2 L1850.1 1292.6 L1850.2 1291.7 L1850.4 1292.4 L1850.5 1288.8 L1850.7 1292.7 L1850.8 1291.0 L1851.0 1294.9 L1851.1 1291.0 L1851.3 1297.3 L1851.5 1297.2 L1851.6 1293.9 L1851.8 1293.3 L1851.9 1292.2 L1852.1 1295.6 L1852.2 1290.5 L1852.4 1292.1 L1852.5 1295.8 L1852.7 1293.9 L1852.9 1291.2 L1853.0 1294.8 L1853.2 1295.8 L1853.3 1291.3 L1853.5 1293.1 L1853.6 1295.1 L1853.8 1297.6 L1853.9 1293.2 L1854.1 1293.4 L1854.2 1294.9 L1854.4 1292.5 L1854.5 1290.4 L1854.7 1293.8 L1854.9 1297.4 L1855.0 1293.7 L1855.2 1297.1 L1855.3 1294.8 L1855.5 1295.0 L1855.6 1294.1 L1855.8 1295.9 L1855.9 1297.8 L1856.1 1295.5 L1856.2 1290.1 L1856.4 1294.4 L1856.5 1296.0 L1856.7 1294.5 L1856.8 1291.9 L1857.0 1297.2 L1857.1 1292.6 L1857.3 1298.2 L1857.4 1298.2 L1857.6 1296.8 L1857.7 1293.2 L1857.9 1293.4 L1858.0 1295.5 L1858.2 1294.3 L1858.3 1296.1 L1858.5 1295.5 L1858.6 1292.8 L1858.8 1296.0 L1858.9 1293.4 L1859.1 1295.5 L1859.2 1294.1 L1859.4 1297.9 L1859.5 1296.1 L1859.7 1298.1 L1859.8 1296.5 L1860.0 1297.3 L1860.1 1297.0 L1860.3 1294.4 L1860.4 1295.3 L1860.6 1294.6 L1860.7 1292.0 L1860.9 1293.2 L1861.0 1295.7 L1861.2 1296.3 L1861.3 1293.6 L1861.5 1296.0 L1861.6 1296.1 L1861.8 1294.5 L1861.9 1294.7 L1862.1 1296.5 L1862.2 1296.6 L1862.4 1297.9 L1862.5 1294.7 L1862.7 1294.9 L1862.8 1295.1 L1863.0 1299.0 L1863.1 1294.7 L1863.3 1296.6 L1863.4 1296.3 L1863.6 1295.2 L1863.7 1296.9 L1863.8 1292.8 L1864.0 1297.5 L1864.1 1295.8 L1864.3 1298.1 L1864.4 1295.2 L1864.6 1295.6 L1864.7 1296.1 L1864.9 1295.5 L1865.0 1294.3 L1865.2 1296.6 L1865.3 1294.6 L1865.5 1297.1 L1865.6 1296.7 L1865.7 1300.7 L1865.9 1296.2 L1866.0 1297.1 L1866.2 1296.2 L1866.3 1293.8 L1866.5 1294.4 L1866.6 1298.2 L1866.8 1293.4 L1866.9 1299.6 L1867.1 1298.3 L1867.2 1299.3 L1867.3 1297.7 L1867.5 1297.7 L1867.6 1295.8 L1867.8 1300.6 L1867.9 1293.0 L1868.1 1292.6 L1868.2 1294.2 L1868.4 1293.3 L1868.5 1291.8 L1868.6 1295.3 L1868.8 1297.8 L1868.9 1297.7 L1869.1 1298.9 L1869.2 1298.6 L1869.4 1294.1 L1869.5 1295.0 L1869.6 1295.4 L1869.8 1296.4 L1869.9 1295.9 L1870.1 1297.9 L1870.2 1298.5 L1870.4 1296.1 L1870.5 1294.9 L1870.6 1297.5 L1870.8 1294.5 L1870.9 1302.6 L1871.1 1296.5 L1871.2 1298.5 L1871.4 1299.5 L1871.5 1299.1 L1871.6 1300.2 L1871.8 1295.7 L1871.9 1296.2 L1872.1 1299.0 L1872.2 1295.5 L1872.4 1296.7 L1872.5 1295.9 L1872.6 1295.3 L1872.8 1298.2 L1872.9 1300.2 L1873.1 1293.5 L1873.2 1297.2 L1873.3 1298.1 L1873.5 1295.8 L1873.6 1294.0 L1873.8 1298.5 L1873.9 1297.2 L1874.0 1297.2 L1874.2 1298.8 L1874.3 1299.3 L1874.5 1297.4 L1874.6 1297.9 L1874.7 1298.7 L1874.9 1299.4 L1875.0 1298.1 L1875.2 1297.3 L1875.3 1300.1 L1875.4 1303.4 L1875.6 1299.7 L1875.7 1298.4 L1875.9 1299.5 L1876.0 1299.5 L1876.1 1298.3 L1876.3 1298.5 L1876.4 1300.2 L1876.6 1296.6 L1876.7 1302.4 L1876.8 1299.8 L1877.0 1300.1 L1877.1 1296.7 L1877.2 1297.2 L1877.4 1296.1 L1877.5 1299.3 L1877.7 1299.8 L1877.8 1299.2 L1877.9 1298.3 L1878.1 1295.3 L1878.2 1295.7 L1878.4 1295.1 L1878.5 1297.8 L1878.6 1299.9 L1878.8 1297.1 L1878.9 1297.7 L1879.0 1299.8 L1879.2 1295.8 L1879.3 1298.5 L1879.5 1302.4 L1879.6 1297.8 L1879.7 1298.6 L1879.9 1302.4 L1880.0 1303.6 L1880.1 1298.2 L1880.3 1302.7 L1880.4 1298.0 L1880.5 1303.1 L1880.7 1299.0 L1880.8 1298.5 L1881.0 1300.4 L1881.1 1299.5 L1881.2 1302.1 L1881.4 1300.7 L1881.5 1298.6 L1881.6 1303.5 L1881.8 1298.4 L1881.9 1299.3 L1882.0 1298.7 L1882.2 1300.8 L1882.3 1300.3 L1882.4 1298.4 L1882.6 1301.0 L1882.7 1299.7 L1882.9 1301.4 L1883.0 1300.7 L1883.1 1304.0 L1883.3 1297.6 L1883.4 1301.9 L1883.5 1298.8 L1883.7 1297.8 L1883.8 1300.9 L1883.9 1299.0 L1884.1 1301.4 L1884.2 1302.1 L1884.3 1296.5 L1884.5 1298.7 L1884.6 1298.2 L1884.7 1298.9 L1884.9 1301.6 L1885.0 1300.5 L1885.1 1299.1 L1885.3 1297.3 L1885.4 1301.7 L1885.5 1301.2 L1885.7 1296.9 L1885.8 1297.8 L1885.9 1295.2 L1886.1 1299.8 L1886.2 1300.9 L1886.3 1296.7 L1886.5 1300.9 L1886.6 1302.3 L1886.7 1300.3 L1886.9 1301.4 L1887.0 1300.7 L1887.1 1304.7 L1887.3 1302.6 L1887.4 1301.3 L1887.5 1300.5 L1887.7 1303.0 L1887.8 1299.0 L1887.9 1300.4 L1888.1 1299.4 L1888.2 1299.7 L1888.3 1301.7 L1888.5 1297.7 L1888.6 1300.0 L1888.7 1298.5 L1888.8 1302.7 L1889.0 1304.0 L1889.1 1301.1 L1889.2 1301.8 L1889.4 1304.0 L1889.5 1302.3 L1889.6 1300.7 L1889.8 1303.2 L1889.9 1301.2 L1890.0 1299.6 L1890.2 1302.4 L1890.3 1302.6 L1890.4 1301.3 L1890.5 1301.4 L1890.7 1299.9 L1890.8 1303.0 L1890.9 1298.1 L1891.1 1298.4 L1891.2 1303.2 L1891.3 1301.8 L1891.5 1301.8 L1891.6 1299.6 L1891.7 1300.1 L1891.8 1296.9 L1892.0 1299.5 L1892.1 1300.9 L1892.2 1303.1 L1892.4 1300.1 L1892.5 1302.5 L1892.6 1302.8 L1892.8 1302.2 L1892.9 1303.3 L1893.0 1301.8 L1893.1 1302.6 L1893.3 1303.1 L1893.4 1299.8 L1893.5 1303.2 L1893.7 1302.5 L1893.8 1300.5 L1893.9 1301.0 L1894.0 1300.0 L1894.2 1302.2 L1894.3 1303.3 L1894.4 1303.8 L1894.6 1299.3 L1894.7 1301.4 L1894.8 1302.3 L1894.9 1303.8 L1895.1 1302.8 L1895.2 1302.8 L1895.3 1303.8 L1895.4 1304.1 L1895.6 1302.0 L1895.7 1303.1 L1895.8 1304.0 L1896.0 1304.2 L1896.1 1303.5 L1896.2 1300.8 L1896.3 1300.8 L1896.5 1304.3 L1896.6 1303.9 L1896.7 1302.9 L1896.8 1302.8 L1897.0 1300.7 L1897.1 1304.5 L1897.2 1300.5 L1897.4 1302.5 L1897.5 1305.3 L1897.6 1305.8 L1897.7 1300.9 L1897.9 1300.7 L1898.0 1303.1 L1898.1 1303.2 L1898.2 1302.6 L1898.4 1299.1 L1898.5 1302.8 L1898.6 1298.9 L1898.7 1300.5 L1898.9 1301.8 L1899.0 1305.5 L1899.1 1303.1 L1899.2 1304.8 L1899.4 1303.2 L1899.5 1303.3 L1899.6 1301.7 L1899.7 1304.6 L1899.9 1303.0 L1900.0 1299.8 L1900.1 1301.8 L1900.2 1302.7 L1900.4 1302.2 L1900.5 1302.8 L1900.6 1306.6 L1900.7 1303.4 L1900.9 1301.9 L1901.0 1302.9 L1901.1 1302.1 L1901.2 1303.4 L1901.4 1303.7 L1901.5 1303.7 L1901.6 1305.8 L1901.7 1303.8 L1901.9 1305.6 L1902.0 1302.2 L1902.1 1304.0 L1902.2 1301.8 L1902.4 1301.0 L1902.5 1302.0 L1902.6 1300.2 L1902.7 1300.5 L1902.9 1304.4 L1903.0 1302.2 L1903.1 1301.4 L1903.2 1303.9 L1903.3 1307.1 L1903.5 1302.5 L1903.6 1302.5 L1903.7 1303.4 L1903.8 1306.0 L1904.0 1302.6 L1904.1 1302.4 L1904.2 1303.2 L1904.3 1303.2 L1904.5 1302.3 L1904.6 1302.2 L1904.7 1302.5 L1904.8 1302.5 L1904.9 1299.7 L1905.1 1301.8 L1905.2 1306.0 L1905.3 1301.7 L1905.4 1302.4 L1905.6 1303.2 L1905.7 1300.8 L1905.8 1305.4 L1905.9 1305.7 L1906.0 1304.5 L1906.2 1304.5 L1906.3 1304.2 L1906.4 1304.1 L1906.5 1305.9 L1906.6 1305.7 L1906.8 1305.9 L1906.9 1305.6 L1907.0 1300.8 L1907.1 1307.5 L1907.3 1303.6 L1907.4 1303.2 L1907.5 1302.3 L1907.6 1306.0 L1907.7 1302.7 L1907.9 1303.7 L1908.0 1302.2 L1908.1 1302.6 L1908.2 1302.7 L1908.3 1301.3 L1908.5 1302.3 L1908.6 1304.2 L1908.7 1304.0 L1908.8 1304.4 L1908.9 1303.8 L1909.1 1306.4 L1909.2 1303.9 L1909.3 1304.2 L1909.4 1305.3 L1909.5 1304.4 L1909.7 1301.7 L1909.8 1304.3 L1909.9 1299.4 L1910.0 1302.9 L1910.1 1302.9 L1910.3 1306.2 L1910.4 1301.6 L1910.5 1303.9 L1910.6 1305.4 L1910.7 1303.5 L1910.9 1302.7 L1911.0 1305.4 L1911.1 1306.3 L1911.2 1305.1 L1911.3 1304.0 L1911.4 1306.2 L1911.6 1303.0 L1911.7 1307.0 L1911.8 1302.9 L1911.9 1305.2 L1912.0 1304.6 L1912.2 1304.9 L1912.3 1305.0 L1912.4 1304.5 L1912.5 1305.0 L1912.6 1302.0 L1912.8 1303.8 L1912.9 1303.6 L1913.0 1303.6 L1913.1 1300.6 L1913.2 1306.3 L1913.3 1302.8 L1913.5 1308.9 L1913.6 1306.0 L1913.7 1304.5 L1913.8 1303.0 L1913.9 1304.7 L1914.0 1304.4 L1914.2 1305.4 L1914.3 1304.3 L1914.4 1305.4 L1914.5 1306.2 L1914.6 1304.6 L1914.8 1305.2 L1914.9 1306.0 L1915.0 1306.3 L1915.1 1303.0 L1915.2 1302.8 L1915.3 1306.5 L1915.5 1304.7 L1915.6 1308.4 L1915.7 1304.4 L1915.8 1304.9 L1915.9 1302.7" stroke="#d00000" stroke-width="4.0"/>
<path d="M382.3 174.1 L537.4 303.0 L628.2 353.0 L692.5 388.9 L742.5 269.4 L783.3 321.3 L817.8 317.5 L847.7 358.2 L874.0 437.0 L897.6 430.7 L918.9 708.0 L938.4 560.7 L956.3 430.6 L972.9 524.2 L988.3 522.6 L1002.8 716.0 L1016.4 494.5 L1029.1 513.5 L1041.2 715.0 L1052.7 946.4 L1063.6 630.0 L1074.1 345.7 L1084.0 650.0 L1093.5 919.2 L1102.7 885.8 L1111.4 655.5 L1119.9 561.8 L1128.0 468.8 L1135.9 538.6 L1143.5 552.5 L1150.8 461.6 L1157.9 711.5 L1164.8 580.8 L1171.5 579.6 L1178.0 496.3 L1184.3 863.6 L1190.4 532.0 L1196.4 643.4 L1202.2 525.2 L1207.8 642.8 L1213.4 424.2 L1218.8 801.0 L1224.0 569.5 L1229.2 588.5 L1234.2 643.0 L1239.1 635.7 L1243.9 595.6 L1248.6 831.6 L1253.3 768.7 L1257.8 1074.0 L1262.2 748.2 L1266.6 536.1 L1270.8 542.1 L1275.0 642.4 L1279.1 1005.0 L1283.1 728.3 L1287.1 778.9 L1291.0 954.4 L1294.8 683.8 L1298.6 619.3 L1302.3 690.8 L1305.9 716.6 L1309.5 763.0 L1313.0 828.7 L1316.5 664.2 L1319.9 631.7 L1323.3 808.6 L1326.6 883.4 L1329.9 696.7 L1333.1 674.8 L1336.3 832.1 L1339.4 622.7 L1342.5 904.3 L1345.5 965.5 L1348.5 656.3 L1351.5 758.7 L1354.4 706.9 L1357.3 678.9 L1360.1 1062.7 L1363.0 823.6 L1365.7 785.9 L1368.5 691.9 L1371.2 679.9 L1373.9 747.9 L1376.5 898.2 L1379.1 1029.8 L1381.7 1052.8 L1384.3 687.0 L1386.8 848.5 L1389.3 752.0 L1391.8 845.6 L1394.2 1053.8 L1396.7 1131.5 L1399.1 772.5 L1401.4 895.2 L1403.8 785.4 L1406.1 842.3 L1408.4 742.0 L1410.7 880.2 L1412.9 697.5 L1415.1 844.1 L1417.3 765.4 L1419.5 882.5 L1421.7 914.2 L1423.8 839.4 L1425.9 1019.3 L1428.0 718.3 L1430.1 687.0 L1432.2 979.6 L1434.2 902.7 L1436.3 818.3 L1438.3 954.0 L1440.3 868.9 L1442.2 1009.7 L1444.2 784.1 L1446.1 1029.9 L1448.0 925.1 L1449.9 920.7 L1451.8 974.8 L1453.7 757.9 L1455.6 844.0 L1457.4 984.5 L1459.2 974.4 L1461.0 720.8 L1462.8 785.9 L1464.6 862.3 L1466.4 1066.0 L1468.1 781.1 L1469.9 859.1 L1471.6 906.3 L1473.3 934.7 L1475.0 770.7 L1476.7 920.4 L1478.4 867.1 L1480.1 1052.1 L1481.7 1028.6 L1483.4 891.0 L1485.0 829.0 L1486.6 985.1 L1488.2 906.1 L1489.8 895.3 L1491.4 999.8 L1492.9 974.5 L1494.5 961.4 L1496.1 930.3 L1497.6 1146.4 L1499.1 987.6 L1500.6 791.3 L1502.1 1043.5 L1503.6 1557.0 L1505.1 998.0 L1506.6 956.3 L1508.1 881.2 L1509.5 1041.1 L1511.0 908.7 L1512.4 1007.5 L1513.8 910.3 L1515.3 1039.3 L1516.7 1177.4 L1518.1 950.1 L1519.5 1087.7 L1520.9 901.3 L1522.2 1037.9 L1523.6 826.4 L1525.0 989.9 L1526.3 952.1 L1527.7 1036.0 L1529.0 1062.2 L1530.3 1058.8 L1531.7 1111.9 L1533.0 1187.1 L1534.3 1045.7 L1535.6 971.9 L1536.9 1081.5 L1538.1 1045.1 L1539.4 990.3 L1540.7 977.0 L1541.9 1037.2 L1543.2 974.2 L1544.4 978.2 L1545.7 1055.0 L1546.9 1254.2 L1548.1 881.1 L1549.4 1080.1 L1550.6 1028.8 L1551.8 1066.1 L1553.0 1109.1 L1554.2 981.4 L1555.4 1051.3 L1556.5 1021.3 L1557.7 1126.6 L1558.9 1106.7 L1560.0 1020.9 L1561.2 1005.9 L1562.4 1007.3 L1563.5 1163.7 L1564.6 1070.8 L1565.8 1447.9 L1566.9 1122.2 L1568.0 1039.9 L1569.1 1153.3 L1570.2 1061.2 L1571.4 1146.3 L1572.5 1073.5 L1573.5 1088.9 L1574.6 1052.9 L1575.7 1114.0 L1576.8 1184.3 L1577.9 986.4 L1578.9 1170.7 L1580.0 1250.5 L1581.1 1081.3 L1582.1 1139.7 L1583.2 1113.4 L1584.2 1216.9 L1585.2 1144.0 L1586.3 1076.7 L1587.3 1159.3 L1588.3 1074.2 L1589.4 1120.7 L1590.4 1199.7 L1591.4 1180.0 L1592.4 1135.3 L1593.4 1160.1 L1594.4 1129.8 L1595.4 1143.8 L1596.4 1094.0 L1597.3 1150.5 L1598.3 1140.6 L1599.3 1223.1 L1600.3 1134.7 L1601.2 1095.0 L1602.2 1244.4 L1603.2 1152.9 L1604.1 1103.0 L1605.1 1127.3 L1606.0 1092.4 L1607.0 1157.9 L1607.9 1163.5 L1608.8 1171.1 L1609.8 1159.8 L1610.7 1140.9 L1611.6 1209.1 L1612.5 1237.0 L1613.4 1135.0 L1614.3 1157.1 L1615.3 1115.1 L1616.2 1247.0 L1617.1 1158.8 L1618.0 1168.2 L1618.9 1248.4 L1619.7 1134.0 L1620.6 1156.4 L1621.5 1182.6 L1622.4 1149.8 L1623.3 1174.6 L1624.1 1181.5 L1625.0 1168.6 L1625.9 1229.2 L1626.7 1194.3 L1627.6 1201.9 L1628.5 1166.7 L1629.3 1156.2 L1630.2 1222.4 L1631.0 1157.5 L1631.8 1209.0 L1632.7 1144.7 L1633.5 1191.9 L1634.4 1224.7 L1635.2 1226.7 L1636.0 1159.4 L1636.8 1154.9 L1637.7 1219.6 L1638.5 1178.7 L1639.3 1200.0 L1640.1 1219.1 L1640.9 1277.6 L1641.7 1195.0 L1642.5 1213.3 L1643.3 1171.7 L1644.1 1235.4 L1644.9 1236.9 L1645.7 1218.5 L1646.5 1262.0 L1647.3 1241.7 L1648.1 1204.1 L1648.8 1214.3 L1649.6 1204.4 L1650.4 1181.1 L1651.2 1211.1 L1651.9 1220.7 L1652.7 1297.7 L1653.5 1238.7 L1654.2 1223.3 L1655.0 1227.7 L1655.8 1189.7 L1656.5 1199.9 L1657.3 1204.0 L1658.0 1184.9 L1658.8 1229.5 L1659.5 1275.7 L1660.2 1235.3 L1661.0 1233.1 L1661.7 1231.1 L1662.5 1239.8 L1663.2 1214.3 L1663.9 1231.9 L1664.7 1222.3 L1665.4 1207.4 L1666.1 1242.6 L1666.8 1233.5 L1667.5 1245.4 L1668.3 1277.1 L1669.0 1274.7 L1669.7 1210.0 L1670.4 1206.8 L1671.1 1225.7 L1671.8 1186.0 L1672.5 1260.3 L1673.2 1232.1 L1673.9 1223.2 L1674.6 1242.3 L1675.3 1181.7 L1676.0 1218.6 L1676.7 1267.1 L1677.4 1225.6 L1678.0 1208.1 L1678.7 1245.6 L1679.4 1228.4 L1680.1 1215.4 L1680.8 1217.2 L1681.4 1233.9 L1682.1 1248.2 L1682.8 1224.3 L1683.5 1211.3 L1684.1 1207.9 L1684.8 1247.1 L1685.5 1218.3 L1686.1 1249.0 L1686.8 1226.8 L1687.4 1225.1 L1688.1 1237.5 L1688.7 1193.6 L1689.4 1230.0 L1690.0 1229.0 L1690.7 1249.0 L1691.3 1245.7 L1692.0 1217.3 L1692.6 1244.7 L1693.3 1266.1 L1693.9 1236.1 L1694.5 1224.5 L1695.2 1240.6 L1695.8 1257.8 L1696.4 1232.0 L1697.1 1247.6 L1697.7 1185.8 L1698.3 1239.6 L1698.9 1241.4 L1699.6 1277.8 L1700.2 1256.9 L1700.8 1253.5 L1701.4 1236.4 L1702.0 1253.4 L1702.6 1241.6 L1703.3 1259.2 L1703.9 1262.4 L1704.5 1275.7 L1705.1 1247.0 L1705.7 1261.0 L1706.3 1251.4 L1706.9 1294.5 L1707.5 1246.8 L1708.1 1265.2 L1708.7 1256.6 L1709.3 1240.6 L1709.9 1273.5 L1710.5 1260.0 L1711.1 1227.4 L1711.7 1271.8 L1712.3 1224.9 L1712.8 1244.6 L1713.4 1264.2 L1714.0 1259.6 L1714.6 1250.2 L1715.2 1285.0 L1715.7 1245.4 L1716.3 1239.1 L1716.9 1264.3 L1717.5 1243.6 L1718.0 1265.1 L1718.6 1249.2 L1719.2 1274.0 L1719.8 1277.7 L1720.3 1292.1 L1720.9 1258.5 L1721.5 1264.7 L1722.0 1272.0 L1722.6 1263.6 L1723.1 1291.5 L1723.7 1264.0 L1724.3 1279.2 L1724.8 1252.3 L1725.4 1259.4 L1725.9 1263.4 L1726.5 1267.4 L1727.0 1280.6 L1727.6 1264.6 L1728.1 1267.5 L1728.7 1261.4 L1729.2 1275.3 L1729.8 1237.7 L1730.3 1273.7 L1730.8 1278.1 L1731.4 1277.7 L1731.9 1281.8 L1732.5 1297.7 L1733.0 1299.7 L1733.5 1263.6 L1734.1 1240.4 L1734.6 1253.5 L1735.1 1255.2 L1735.7 1254.4 L1736.2 1249.8 L1736.7 1268.6 L1737.2 1262.5 L1737.8 1235.2 L1738.3 1288.5 L1738.8 1273.6 L1739.3 1261.7 L1739.8 1267.6 L1740.4 1283.5 L1740.9 1253.8 L1741.4 1262.5 L1741.9 1272.3 L1742.4 1261.5 L1742.9 1272.0 L1743.5 1268.8 L1744.0 1306.1 L1744.5 1279.5 L1745.0 1304.9 L1745.5 1272.1 L1746.0 1281.8 L1746.5 1264.5 L1747.0 1289.3 L1747.5 1274.4 L1748.0 1283.0 L1748.5 1271.5 L1749.0 1271.4 L1749.5 1262.5 L1750.0 1267.3 L1750.5 1296.0 L1751.0 1288.2 L1751.5 1283.7 L1752.0 1289.8 L1752.5 1271.2 L1753.0 1294.2 L1753.4 1272.4 L1753.9 1261.7 L1754.4 1280.1 L1754.9 1286.2 L1755.4 1307.9 L1755.9 1288.6 L1756.4 1268.0 L1756.8 1281.7 L1757.3 1302.7 L1757.8 1281.4 L1758.3 1279.6 L1758.8 1272.2 L1759.2 1294.7 L1759.7 1301.8 L1760.2 1267.1 L1760.7 1280.8 L1761.1 1255.7 L1761.6 1288.1 L1762.1 1289.7 L1762.5 1272.2 L1763.0 1289.5 L1763.5 1256.9 L1763.9 1271.8 L1764.4 1288.6 L1764.9 1298.5 L1765.3 1300.0 L1765.8 1280.6 L1766.3 1284.2 L1766.7 1306.1 L1767.2 1262.2 L1767.6 1287.9 L1768.1 1291.9 L1768.6 1288.6 L1769.0 1295.6 L1769.5 1278.8 L1769.9 1299.7 L1770.4 1292.2 L1770.8 1292.5 L1771.3 1307.9 L1771.7 1287.4 L1772.2 1289.0 L1772.6 1290.6 L1773.1 1289.5 L1773.5 1313.6 L1774.0 1257.3 L1774.4 1302.7 L1774.9 1280.5 L1775.3 1286.1 L1775.7 1284.8 L1776.2 1282.9 L1776.6 1318.6 L1777.1 1304.4 L1777.5 1309.1 L1777.9 1299.1 L1778.4 1303.8 L1778.8 1293.6 L1779.3 1299.9 L1779.7 1306.8 L1780.1 1297.5 L1780.6 1291.7 L1781.0 1289.8 L1781.4 1288.1 L1781.9 1300.3 L1782.3 1293.1 L1782.7 1294.1 L1783.1 1304.5 L1783.6 1308.1 L1784.0 1307.0 L1784.4 1289.9 L1784.8 1292.9 L1785.3 1300.5 L1785.7 1309.8 L1786.1 1297.1 L1786.5 1295.0 L1787.0 1299.7 L1787.4 1314.2 L1787.8 1307.0 L1788.2 1314.8 L1788.6 1298.4 L1789.1 1306.2 L1789.5 1302.7 L1789.9 1310.5 L1790.3 1301.6 L1790.7 1314.9 L1791.1 1314.7 L1791.5 1311.2 L1792.0 1306.2 L1792.4 1323.1 L1792.8 1299.5 L1793.2 1319.8 L1793.6 1310.8 L1794.0 1306.8 L1794.4 1298.4 L1794.8 1300.9 L1795.2 1321.4 L1795.6 1310.5 L1796.0 1301.5 L1796.4 1316.6 L1796.8 1307.8 L1797.2 1307.8 L1797.6 1313.7 L1798.0 1296.3 L1798.4 1309.3 L1798.8 1305.9 L1799.2 1307.7 L1799.6 1325.3 L1800.0 1322.7 L1800.4 1325.7 L1800.8 1311.8 L1801.2 1310.8 L1801.6 1315.9 L1802.0 1316.0 L1802.4 1323.6 L1802.8 1314.2 L1803.2 1300.9 L1803.6 1316.8 L1804.0 1320.8 L1804.4 1312.8 L1804.7 1309.5 L1805.1 1313.4 L1805.5 1298.4 L1805.9 1300.9 L1806.3 1312.8 L1806.7 1318.9 L1807.1 1303.4 L1807.4 1311.1 L1807.8 1317.6 L1808.2 1319.7 L1808.6 1321.3 L1809.0 1301.9 L1809.4 1322.3 L1809.7 1311.5 L1810.1 1332.1 L1810.5 1314.3 L1810.9 1304.2 L1811.3 1303.4 L1811.6 1315.0 L1812.0 1303.0 L1812.4 1311.9 L1812.8 1312.1 L1813.1 1306.6 L1813.5 1330.7 L1813.9 1323.1 L1814.3 1317.8 L1814.6 1308.9 L1815.0 1316.8 L1815.4 1317.4 L1815.7 1318.1 L1816.1 1318.0 L1816.5 1314.6 L1816.8 1316.2 L1817.2 1313.0 L1817.6 1319.4 L1817.9 1321.7 L1818.3 1313.1 L1818.7 1324.6 L1819.0 1317.3 L1819.4 1319.6 L1819.8 1319.5 L1820.1 1315.7 L1820.5 1318.8 L1820.9 1324.8 L1821.2 1327.1 L1821.6 1320.0 L1821.9 1323.5 L1822.3 1319.3 L1822.7 1311.2 L1823.0 1319.0 L1823.4 1325.8 L1823.7 1320.6 L1824.1 1323.0 L1824.4 1320.0 L1824.8 1324.1 L1825.2 1329.6 L1825.5 1325.1 L1825.9 1319.9 L1826.2 1320.0 L1826.6 1324.8 L1826.9 1322.4 L1827.3 1319.0 L1827.6 1322.9 L1828.0 1323.2 L1828.3 1319.1 L1828.7 1322.3 L1829.0 1324.4 L1829.4 1315.8 L1829.7 1319.0 L1830.1 1322.8 L1830.4 1319.3 L1830.8 1313.1 L1831.1 1327.2 L1831.4 1329.4 L1831.8 1325.1 L1832.1 1321.7 L1832.5 1319.6 L1832.8 1329.6 L1833.2 1334.2 L1833.5 1326.1 L1833.9 1323.6 L1834.2 1326.3 L1834.5 1326.7 L1834.9 1318.6 L1835.2 1319.9 L1835.5 1333.9 L1835.9 1326.2 L1836.2 1322.4 L1836.6 1328.6 L1836.9 1323.2 L1837.2 1325.8 L1837.6 1324.5 L1837.9 1337.0 L1838.2 1321.0 L1838.6 1328.7 L1838.9 1328.9 L1839.2 1328.2 L1839.6 1332.0 L1839.9 1334.4 L1840.2 1333.4 L1840.6 1328.7 L1840.9 1324.3 L1841.2 1328.8 L1841.6 1323.0 L1841.9 1331.6 L1842.2 1324.5 L1842.5 1330.0 L1842.9 1328.3 L1843.2 1323.5 L1843.5 1322.0 L1843.9 1333.3 L1844.2 1329.9 L1844.5 1332.1 L1844.8 1333.2 L1845.2 1329.1 L1845.5 1330.2 L1845.8 1334.7 L1846.1 1334.2 L1846.5 1330.8 L1846.8 1328.2 L1847.1 1329.2 L1847.4 1336.1 L1847.7 1339.2 L1848.1 1338.9 L1848.4 1322.9 L1848.7 1340.1 L1849.0 1336.4 L1849.3 1332.8 L1849.7 1324.9 L1850.0 1332.1 L1850.3 1335.6 L1850.6 1336.8 L1850.9 1333.7 L1851.2 1332.1 L1851.6 1333.6 L1851.9 1335.4 L1852.2 1334.0 L1852.5 1338.1 L1852.8 1327.8 L1853.1 1337.2 L1853.4 1335.9 L1853.7 1337.8 L1854.1 1334.7 L1854.4 1332.5 L1854.7 1334.8 L1855.0 1335.1 L1855.3 1331.4 L1855.6 1332.8 L1855.9 1334.4 L1856.2 1334.6 L1856.5 1340.5 L1856.8 1337.7 L1857.2 1326.0 L1857.5 1336.0 L1857.8 1335.9 L1858.1 1332.6 L1858.4 1333.3 L1858.7 1335.9 L1859.0 1338.4 L1859.3 1333.3 L1859.6 1337.6 L1859.9 1338.5 L1860.2 1326.1 L1860.5 1332.1 L1860.8 1335.1 L1861.1 1331.7 L1861.4 1331.3 L1861.7 1336.2 L1862.0 1335.3 L1862.3 1330.0 L1862.6 1332.6 L1862.9 1329.5 L1863.2 1333.6 L1863.5 1343.8 L1863.8 1332.8 L1864.1 1339.2 L1864.4 1332.3 L1864.7 1338.5 L1865.0 1334.1 L1865.3 1332.8 L1865.6 1339.3 L1865.9 1336.3 L1866.2 1336.2 L1866.5 1338.6 L1866.8 1340.2 L1867.1 1337.0 L1867.4 1332.9 L1867.7 1337.1 L1868.0 1337.4 L1868.3 1338.3 L1868.5 1335.9 L1868.8 1334.6 L1869.1 1336.6 L1869.4 1334.4 L1869.7 1340.9 L1870.0 1337.0 L1870.3 1339.0 L1870.6 1337.7 L1870.9 1340.0 L1871.2 1336.6 L1871.4 1341.9 L1871.7 1335.9 L1872.0 1334.4 L1872.3 1336.4 L1872.6 1334.3 L1872.9 1335.3 L1873.2 1340.3 L1873.5 1341.2 L1873.7 1339.0 L1874.0 1337.0 L1874.3 1338.2 L1874.6 1332.8 L1874.9 1338.1 L1875.2 1342.4 L1875.4 1339.3 L1875.7 1342.3 L1876.0 1340.5 L1876.3 1341.1 L1876.6 1339.6 L1876.9 1338.8 L1877.1 1340.9 L1877.4 1341.2 L1877.7 1340.2 L1878.0 1337.0 L1878.3 1338.0 L1878.5 1340.8 L1878.8 1341.1 L1879.1 1338.0 L1879.4 1343.5 L1879.7 1341.3 L1879.9 1341.7 L1880.2 1340.1 L1880.5 1340.8 L1880.8 1337.7 L1881.0 1338.6 L1881.3 1342.1 L1881.6 1339.3 L1881.9 1340.3 L1882.1 1344.0 L1882.4 1339.0 L1882.7 1338.0 L1883.0 1340.7 L1883.2 1340.9 L1883.5 1338.1 L1883.8 1340.9 L1884.1 1337.4 L1884.3 1338.0 L1884.6 1343.6 L1884.9 1342.7 L1885.1 1338.0 L1885.4 1337.6 L1885.7 1341.1 L1886.0 1344.0 L1886.2 1339.0 L1886.5 1340.6 L1886.8 1340.7 L1887.0 1335.8 L1887.3 1344.9 L1887.6 1342.8 L1887.8 1339.1 L1888.1 1341.0 L1888.4 1343.4 L1888.6 1340.7 L1888.9 1343.2 L1889.2 1339.2 L1889.4 1346.5 L1889.7 1342.5 L1890.0 1342.7 L1890.2 1339.8 L1890.5 1341.7 L1890.8 1344.4 L1891.0 1343.6 L1891.3 1342.5 L1891.6 1341.5 L1891.8 1343.5 L1892.1 1342.2 L1892.4 1338.6 L1892.6 1340.3 L1892.9 1340.6 L1893.1 1340.7 L1893.4 1341.0 L1893.7 1342.1 L1893.9 1342.4 L1894.2 1340.2 L1894.4 1345.8 L1894.7 1340.2 L1895.0 1344.3 L1895.2 1343.6 L1895.5 1344.0 L1895.7 1342.3 L1896.0 1340.4 L1896.3 1343.4 L1896.5 1343.1 L1896.8 1340.3 L1897.0 1341.9 L1897.3 1340.5 L1897.5 1343.4 L1897.8 1340.6 L1898.1 1345.0 L1898.3 1346.8 L1898.6 1344.0 L1898.8 1341.6 L1899.1 1343.3 L1899.3 1345.4 L1899.6 1345.3 L1899.8 1344.9 L1900.1 1343.8 L1900.4 1341.6 L1900.6 1344.8 L1900.9 1343.7 L1901.1 1342.1 L1901.4 1343.9 L1901.6 1343.5 L1901.9 1343.6 L1902.1 1341.3 L1902.4 1345.4 L1902.6 1346.4 L1902.9 1343.7 L1903.1 1347.9 L1903.4 1345.8 L1903.6 1345.3 L1903.9 1346.2 L1904.1 1345.7 L1904.4 1344.2 L1904.6 1343.7 L1904.9 1346.2 L1905.1 1343.5 L1905.4 1345.7 L1905.6 1348.0 L1905.9 1345.2 L1906.1 1345.5 L1906.4 1344.4 L1906.6 1345.0 L1906.8 1345.4 L1907.1 1348.3 L1907.3 1346.0 L1907.6 1344.7 L1907.8 1344.5 L1908.1 1346.8 L1908.3 1343.9 L1908.6 1341.6 L1908.8 1345.1 L1909.1 1344.9 L1909.3 1344.9 L1909.5 1346.4 L1909.8 1344.4 L1910.0 1344.4 L1910.3 1344.9 L1910.5 1346.4 L1910.8 1344.6 L1911.0 1344.4 L1911.2 1345.4 L1911.5 1342.3 L1911.7 1342.1 L1912.0 1344.0 L1912.2 1346.2 L1912.4 1344.5 L1912.7 1345.2 L1912.9 1345.6 L1913.2 1345.8 L1913.4 1347.1 L1913.6 1347.0 L1913.9 1344.4 L1914.1 1342.7 L1914.4 1346.1 L1914.6 1346.2 L1914.8 1344.8 L1915.1 1349.1 L1915.3 1347.2 L1915.5 1349.2 L1915.8 1345.5" stroke="#00c800" stroke-width="4.0"/>
<path d="M382.3 217.3 L537.4 373.0 L628.2 505.9 L692.5 291.8 L742.5 432.4 L783.3 351.5 L817.8 284.4 L847.7 285.7 L874.0 545.0 L897.6 462.0 L918.9 392.0 L938.4 433.9 L956.3 298.4 L972.9 346.8 L988.3 317.7 L1002.8 480.0 L1016.4 674.7 L1029.1 415.3 L1041.2 490.0 L1052.7 564.2 L1063.6 485.0 L1074.1 405.8 L1084.0 488.2 L1093.5 475.5 L1102.7 665.5 L1111.4 496.5 L1119.9 453.0 L1128.0 515.6 L1135.9 423.3 L1143.5 441.2 L1150.8 655.1 L1157.9 361.4 L1164.8 513.7 L1171.5 428.1 L1178.0 688.2 L1184.3 523.2 L1190.4 734.7 L1196.4 733.4 L1202.2 701.0 L1207.8 765.0 L1213.4 680.5 L1218.8 585.1 L1224.0 588.8 L1229.2 449.7 L1234.2 840.0 L1239.1 664.9 L1243.9 586.8 L1248.6 572.1 L1253.3 605.5 L1257.8 719.2 L1262.2 786.3 L1266.6 556.1 L1270.8 766.5 L1275.0 642.9 L1279.1 623.2 L1283.1 886.5 L1287.1 637.1 L1291.0 907.5 L1294.8 710.7 L1298.6 924.7 L1302.3 810.7 L1305.9 717.9 L1309.5 597.3 L1313.0 626.4 L1316.5 558.8 L1319.9 676.1 L1323.3 900.7 L1326.6 802.3 L1329.9 797.5 L1333.1 795.2 L1336.3 692.9 L1339.4 738.2 L1342.5 884.8 L1345.5 825.0 L1348.5 826.0 L1351.5 753.4 L1354.4 1239.4 L1357.3 795.6 L1360.1 806.7 L1363.0 818.4 L1365.7 728.0 L1368.5 764.9 L1371.2 727.2 L1373.9 849.9 L1376.5 717.9 L1379.1 751.9 L1381.7 832.9 L1384.3 712.3 L1386.8 1008.6 L1389.3 885.7 L1391.8 887.6 L1394.2 857.5 L1396.7 868.4 L1399.1 830.2 L1401.4 951.9 L1403.8 942.8 L1406.1 893.7 L1408.4 883.9 L1410.7 876.9 L1412.9 898.9 L1415.1 880.7 L1417.3 910.8 L1419.5 859.1 L1421.7 907.6 L1423.8 865.2 L1425.9 928.3 L1428.0 896.8 L1430.1 855.9 L1432.2 867.9 L1434.2 902.8 L1436.3 881.6 L1438.3 919.8 L1440.3 920.8 L1442.2 941.8 L1444.2 968.3 L1446.1 923.2 L1448.0 942.6 L1449.9 890.9 L1451.8 889.7 L1453.7 870.2 L1455.6 907.5 L1457.4 950.9 L1459.2 936.9 L1461.0 941.2 L1462.8 911.2 L1464.6 1165.6 L1466.4 920.4 L1468.1 919.1 L1469.9 964.6 L1471.6 901.4 L1473.3 987.4 L1475.0 908.8 L1476.7 933.9 L1478.4 914.0 L1480.1 957.5 L1481.7 916.9 L1483.4 995.9 L1485.0 939.4 L1486.6 955.0 L1488.2 955.5 L1489.8 1018.6 L1491.4 965.7 L1492.9 934.7 L1494.5 946.5 L1496.1 987.7 L1497.6 963.2 L1499.1 958.4 L1500.6 980.6 L1502.1 960.1 L1503.6 962.8 L1505.1 972.5 L1506.6 984.5 L1508.1 976.5 L1509.5 995.0 L1511.0 970.6 L1512.4 966.3 L1513.8 965.5 L1515.3 987.7 L1516.7 1016.9 L1518.1 974.4 L1519.5 1009.4 L1520.9 973.3 L1522.2 1000.8 L1523.6 991.0 L1525.0 993.5 L1526.3 984.3 L1527.7 991.7 L1529.0 1002.7 L1530.3 979.9 L1531.7 1014.3 L1533.0 1006.9 L1534.3 993.5 L1535.6 990.9 L1536.9 1015.8 L1538.1 1004.4 L1539.4 1002.6 L1540.7 1030.2 L1541.9 1014.6 L1543.2 1010.0 L1544.4 1028.1 L1545.7 1031.5 L1546.9 1008.6 L1548.1 999.8 L1549.4 1056.0 L1550.6 1029.8 L1551.8 1019.6 L1553.0 1050.8 L1554.2 1050.7 L1555.4 1046.4 L1556.5 1021.9 L1557.7 1035.4 L1558.9 1025.6 L1560.0 1031.1 L1561.2 1054.0 L1562.4 1018.8 L1563.5 1038.4 L1564.6 1048.2 L1565.8 1035.6 L1566.9 1018.0 L1568.0 1037.2 L1569.1 1059.7 L1570.2 1046.7 L1571.4 1069.7 L1572.5 1044.0 L1573.5 1057.6 L1574.6 1044.5 L1575.7 1038.5 L1576.8 1045.7 L1577.9 1052.4 L1578.9 1043.5 L1580.0 1063.0 L1581.1 1051.1 L1582.1 1062.6 L1583.2 1066.6 L1584.2 1056.0 L1585.2 1041.1 L1586.3 1051.5 L1587.3 1053.6 L1588.3 1073.0 L1589.4 1083.9 L1590.4 1038.2 L1591.4 1056.8 L1592.4 1068.2 L1593.4 1068.9 L1594.4 1062.2 L1595.4 1061.1 L1596.4 1065.6 L1597.3 1060.2 L1598.3 1082.7 L1599.3 1076.1 L1600.3 1061.2 L1601.2 1075.1 L1602.2 1075.4 L1603.2 1074.9 L1604.1 1057.5 L1605.1 1061.2 L1606.0 1081.4 L1607.0 1074.0 L1607.9 1074.8 L1608.8 1064.8 L1609.8 1080.7 L1610.7 1067.5 L1611.6 1065.3 L1612.5 1069.6 L1613.4 1069.8 L1614.3 1054.2 L1615.3 1074.6 L1616.2 1072.3 L1617.1 1087.7 L1618.0 1058.0 L1618.9 1068.5 L1619.7 1060.2 L1620.6 1081.2 L1621.5 1075.1 L1622.4 1085.1 L1623.3 1099.7 L1624.1 1089.7 L1625.0 1090.2 L1625.9 1075.6 L1626.7 1081.2 L1627.6 1086.1 L1628.5 1078.4 L1629.3 1084.0 L1630.2 1079.0 L1631.0 1092.8 L1631.8 1090.4 L1632.7 1080.7 L1633.5 1089.5 L1634.4 1095.3 L1635.2 1070.2 L1636.0 1082.6 L1636.8 1089.2 L1637.7 1095.3 L1638.5 1078.4 L1639.3 1100.2 L1640.1 1083.1 L1640.9 1074.4 L1641.7 1093.3 L1642.5 1089.4 L1643.3 1092.4 L1644.1 1091.7 L1644.9 1091.9 L1645.7 1100.7 L1646.5 1088.6 L1647.3 1095.6 L1648.1 1094.4 L1648.8 1094.2 L1649.6 1097.8 L1650.4 1091.4 L1651.2 1103.2 L1651.9 1105.0 L1652.7 1089.5 L1653.5 1090.7 L1654.2 1112.1 L1655.0 1102.5 L1655.8 1100.6 L1656.5 1106.8 L1657.3 1105.6 L1658.0 1106.1 L1658.8 1095.6 L1659.5 1107.7 L1660.2 1106.3 L1661.0 1108.1 L1661.7 1099.9 L1662.5 1122.2 L1663.2 1117.4 L1663.9 1122.0 L1664.7 1108.3 L1665.4 1109.7 L1666.1 1103.9 L1666.8 1104.6 L1667.5 1114.2 L1668.3 1110.9 L1669.0 1112.4 L1669.7 1111.2 L1670.4 1120.1 L1671.1 1112.8 L1671.8 1109.2 L1672.5 1117.3 L1673.2 1106.5 L1673.9 1119.2 L1674.6 1128.3 L1675.3 1124.1 L1676.0 1124.1 L1676.7 1133.8 L1677.4 1113.0 L1678.0 1124.3 L1678.7 1140.7 L1679.4 1127.3 L1680.1 1137.3 L1680.8 1114.8 L1681.4 1121.7 L1682.1 1125.1 L1682.8 1122.7 L1683.5 1132.7 L1684.1 1117.6 L1684.8 1131.6 L1685.5 1123.7 L1686.1 1126.0 L1686.8 1122.7 L1687.4 1134.4 L1688.1 1132.3 L1688.7 1130.7 L1689.4 1135.6 L1690.0 1133.4 L1690.7 1136.8 L1691.3 1122.5 L1692.0 1126.3 L1692.6 1136.2 L1693.3 1128.5 L1693.9 1133.3 L1694.5 1146.1 L1695.2 1137.9 L1695.8 1137.5 L1696.4 1139.7 L1697.1 1144.5 L1697.7 1151.1 L1698.3 1149.3 L1698.9 1142.0 L1699.6 1134.9 L1700.2 1157.5 L1700.8 1137.4 L1701.4 1142.5 L1702.0 1145.2 L1702.6 1151.5 L1703.3 1144.1 L1703.9 1144.8 L1704.5 1141.6 L1705.1 1131.7 L1705.7 1145.6 L1706.3 1150.1 L1706.9 1149.1 L1707.5 1155.2 L1708.1 1147.8 L1708.7 1140.8 L1709.3 1146.8 L1709.9 1153.4 L1710.5 1143.4 L1711.1 1158.5 L1711.7 1156.9 L1712.3 1146.8 L1712.8 1154.8 L1713.4 1150.6 L1714.0 1152.2 L1714.6 1163.3 L1715.2 1151.1 L1715.7 1159.1 L1716.3 1148.6 L1716.9 1154.6 L1717.5 1154.2 L1718.0 1154.3 L1718.6 1160.0 L1719.2 1149.8 L1719.8 1159.9 L1720.3 1148.2 L1720.9 1152.7 L1721.5 1150.4 L1722.0 1161.7 L1722.6 1156.2 L1723.1 1151.2 L1723.7 1157.8 L1724.3 1154.9 L1724.8 1162.6 L1725.4 1165.5 L1725.9 1161.0 L1726.5 1160.1 L1727.0 1162.3 L1727.6 1158.1 L1728.1 1162.9 L1728.7 1165.6 L1729.2 1169.9 L1729.8 1167.7 L1730.3 1158.8 L1730.8 1160.1 L1731.4 1161.7 L1731.9 1155.2 L1732.5 1163.2 L1733.0 1169.6 L1733.5 1165.4 L1734.1 1169.7 L1734.6 1159.2 L1735.1 1162.6 L1735.7 1159.7 L1736.2 1162.2 L1736.7 1162.9 L1737.2 1171.7 L1737.8 1162.7 L1738.3 1167.0 L1738.8 1172.3 L1739.3 1162.8 L1739.8 1168.8 L1740.4 1166.6 L1740.9 1176.1 L1741.4 1168.0 L1741.9 1176.4 L1742.4 1178.8 L1742.9 1171.8 L1743.5 1170.7 L1744.0 1174.8 L1744.5 1175.4 L1745.0 1170.2 L1745.5 1176.7 L1746.0 1172.8 L1746.5 1179.9 L1747.0 1177.4 L1747.5 1176.9 L1748.0 1170.0 L1748.5 1173.7 L1749.0 1163.7 L1749.5 1171.5 L1750.0 1182.1 L1750.5 1173.9 L1751.0 1180.7 L1751.5 1173.6 L1752.0 1178.5 L1752.5 1174.4 L1753.0 1177.4 L1753.4 1173.9 L1753.9 1177.6 L1754.4 1166.2 L1754.9 1176.2 L1755.4 1176.7 L1755.9 1173.7 L1756.4 1172.6 L1756.8 1186.7 L1757.3 1175.4 L1757.8 1180.0 L1758.3 1185.2 L1758.8 1190.2 L1759.2 1175.8 L1759.7 1174.6 L1760.2 1178.4 L1760.7 1183.5 L1761.1 1178.0 L1761.6 1180.9 L1762.1 1179.5 L1762.5 1182.9 L1763.0 1177.8 L1763.5 1183.7 L1763.9 1188.5 L1764.4 1183.9 L1764.9 1176.1 L1765.3 1183.0 L1765.8 1197.0 L1766.3 1185.4 L1766.7 1190.2 L1767.2 1179.7 L1767.6 1184.0 L1768.1 1190.2 L1768.6 1189.5 L1769.0 1192.8 L1769.5 1183.8 L1769.9 1188.2 L1770.4 1187.0 L1770.8 1194.1 L1771.3 1184.9 L1771.7 1190.0 L1772.2 1189.1 L1772.6 1192.9 L1773.1 1189.9 L1773.5 1195.4 L1774.0 1192.6 L1774.4 1186.3 L1774.9 1194.9 L1775.3 1195.2 L1775.7 1183.3 L1776.2 1188.8 L1776.6 1195.8 L1777.1 1185.1 L1777.5 1190.7 L1777.9 1184.6 L1778.4 1191.3 L1778.8 1200.2 L1779.3 1192.3 L1779.7 1191.1 L1780.1 1201.4 L1780.6 1203.6 L1781.0 1191.8 L1781.4 1192.5 L1781.9 1200.0 L1782.3 1194.7 L1782.7 1194.2 L1783.1 1194.4 L1783.6 1204.7 L1784.0 1198.2 L1784.4 1201.8 L1784.8 1193.6 L1785.3 1193.0 L1785.7 1197.0 L1786.1 1193.8 L1786.5 1196.6 L1787.0 1198.8 L1787.4 1196.5 L1787.8 1198.9 L1788.2 1198.9 L1788.6 1198.5 L1789.1 1200.2 L1789.5 1194.0 L1789.9 1208.2 L1790.3 1198.0 L1790.7 1202.1 L1791.1 1193.3 L1791.5 1191.6 L1792.0 1205.8 L1792.4 1203.7 L1792.8 1205.6 L1793.2 1208.9 L1793.6 1203.8 L1794.0 1202.7 L1794.4 1201.5 L1794.8 1202.6 L1795.2 1201.7 L1795.6 1200.8 L1796.0 1203.3 L1796.4 1203.8 L1796.8 1201.5 L1797.2 1199.7 L1797.6 1200.6 L1798.0 1215.1 L1798.4 1201.7 L1798.8 1203.5 L1799.2 1204.3 L1799.6 1199.0 L1800.0 1204.3 L1800.4 1208.9 L1800.8 1205.0 L1801.2 1203.6 L1801.6 1204.4 L1802.0 1205.8 L1802.4 1208.1 L1802.8 1202.2 L1803.2 1206.7 L1803.6 1198.5 L1804.0 1208.8 L1804.4 1202.7 L1804.7 1200.7 L1805.1 1204.1 L1805.5 1206.3 L1805.9 1211.3 L1806.3 1206.7 L1806.7 1213.5 L1807.1 1212.8 L1807.4 1208.2 L1807.8 1216.4 L1808.2 1207.0 L1808.6 1210.6 L1809.0 1206.1 L1809.4 1215.9 L1809.7 1211.9 L1810.1 1210.0 L1810.5 1207.7 L1810.9 1209.3 L1811.3 1209.2 L1811.6 1209.6 L1812.0 1214.1 L1812.4 1205.5 L1812.8 1208.3 L1813.1 1213.0 L1813.5 1204.9 L1813.9 1211.9 L1814.3 1214.4 L1814.6 1220.9 L1815.0 1210.5 L1815.4 1209.5 L1815.7 1209.8 L1816.1 1213.7 L1816.5 1209.2 L1816.8 1210.8 L1817.2 1211.4 L1817.6 1216.2 L1817.9 1213.1 L1818.3 1212.7 L1818.7 1213.4 L1819.0 1213.0 L1819.4 1217.6 L1819.8 1211.0 L1820.1 1222.8 L1820.5 1211.1 L1820.9 1219.2 L1821.2 1219.5 L1821.6 1215.7 L1821.9 1223.9 L1822.3 1212.1 L1822.7 1214.8 L1823.0 1217.9 L1823.4 1211.7 L1823.7 1209.5 L1824.1 1223.3 L1824.4 1216.0 L1824.8 1214.9 L1825.2 1212.3 L1825.5 1216.2 L1825.9 1215.7 L1826.2 1217.1 L1826.6 1220.2 L1826.9 1212.4 L1827.3 1214.0 L1827.6 1215.5 L1828.0 1214.6 L1828.3 1220.8 L1828.7 1216.7 L1829.0 1218.6 L1829.4 1220.6 L1829.7 1218.3 L1830.1 1216.8 L1830.4 1220.3 L1830.8 1222.4 L1831.1 1218.1 L1831.4 1218.8 L1831.8 1221.3 L1832.1 1223.9 L1832.5 1223.0 L1832.8 1219.4 L1833.2 1222.8 L1833.5 1217.1 L1833.9 1219.5 L1834.2 1222.2 L1834.5 1214.7 L1834.9 1226.2 L1835.2 1223.6 L1835.5 1217.1 L1835.9 1215.7 L1836.2 1220.7 L1836.6 1220.0 L1836.9 1222.8 L1837.2 1216.7 L1837.6 1221.5 L1837.9 1222.9 L1838.2 1219.3 L1838.6 1220.4 L1838.9 1219.4 L1839.2 1226.3 L1839.6 1222.2 L1839.9 1221.8 L1840.2 1218.5 L1840.6 1228.7 L1840.9 1220.8 L1841.2 1224.3 L1841.6 1225.8 L1841.9 1220.9 L1842.2 1226.0 L1842.5 1225.6 L1842.9 1223.5 L1843.2 1223.9 L1843.5 1227.9 L1843.9 1223.5 L1844.2 1221.7 L1844.5 1227.1 L1844.8 1223.9 L1845.2 1225.7 L1845.5 1225.6 L1845.8 1223.8 L1846.1 1223.8 L1846.5 1222.4 L1846.8 1223.3 L1847.1 1224.4 L1847.4 1224.2 L1847.7 1226.0 L1848.1 1228.1 L1848.4 1227.4 L1848.7 1224.2 L1849.0 1225.6 L1849.3 1228.3 L1849.7 1225.4 L1850.0 1226.7 L1850.3 1227.9 L1850.6 1231.7 L1850.9 1226.7 L1851.2 1229.4 L1851.6 1225.7 L1851.9 1226.4 L1852.2 1228.3 L1852.5 1227.6 L1852.8 1226.7 L1853.1 1229.7 L1853.4 1229.3 L1853.7 1228.6 L1854.1 1226.9 L1854.4 1227.2 L1854.7 1227.7 L1855.0 1228.3 L1855.3 1233.9 L1855.6 1228.2 L1855.9 1229.0 L1856.2 1231.8 L1856.5 1227.5 L1856.8 1225.7 L1857.2 1229.5 L1857.5 1227.0 L1857.8 1229.3 L1858.1 1225.5 L1858.4 1228.4 L1858.7 1225.5 L1859.0 1228.5 L1859.3 1230.1 L1859.6 1228.2 L1859.9 1229.7 L1860.2 1229.6 L1860.5 1229.4 L1860.8 1234.5 L1861.1 1233.5 L1861.4 1228.4 L1861.7 1227.3 L1862.0 1229.5 L1862.3 1225.1 L1862.6 1231.6 L1862.9 1229.4 L1863.2 1231.3 L1863.5 1230.9 L1863.8 1231.7 L1864.1 1233.9 L1864.4 1229.5 L1864.7 1233.9 L1865.0 1229.7 L1865.3 1231.1 L1865.6 1231.5 L1865.9 1227.6 L1866.2 1233.1 L1866.5 1233.3 L1866.8 1230.8 L1867.1 1228.4 L1867.4 1232.0 L1867.7 1235.2 L1868.0 1231.2 L1868.3 1233.6 L1868.5 1230.6 L1868.8 1232.2 L1869.1 1230.5 L1869.4 1233.5 L1869.7 1230.8 L1870.0 1235.7 L1870.3 1230.4 L1870.6 1231.4 L1870.9 1230.5 L1871.2 1231.2 L1871.4 1228.5 L1871.7 1230.4 L1872.0 1230.1 L1872.3 1232.8 L1872.6 1234.8 L1872.9 1234.6 L1873.2 1232.8 L1873.5 1233.2 L1873.7 1234.9 L1874.0 1232.2 L1874.3 1233.3 L1874.6 1232.4 L1874.9 1233.5 L1875.2 1233.8 L1875.4 1234.3 L1875.7 1234.8 L1876.0 1234.3 L1876.3 1235.0 L1876.6 1230.8 L1876.9 1232.9 L1877.1 1231.7 L1877.4 1233.5 L1877.7 1237.1 L1878.0 1230.4 L1878.3 1231.9 L1878.5 1230.9 L1878.8 1232.8 L1879.1 1232.7 L1879.4 1233.8 L1879.7 1233.5 L1879.9 1230.8 L1880.2 1234.1 L1880.5 1232.0 L1880.8 1233.2 L1881.0 1232.5 L1881.3 1234.5 L1881.6 1231.9 L1881.9 1237.0 L1882.1 1234.1 L1882.4 1234.0 L1882.7 1235.9 L1883.0 1234.6 L1883.2 1233.3 L1883.5 1234.9 L1883.8 1235.5 L1884.1 1236.0 L1884.3 1233.9 L1884.6 1233.0 L1884.9 1234.2 L1885.1 1235.4 L1885.4 1235.9 L1885.7 1236.0 L1886.0 1234.8 L1886.2 1235.6 L1886.5 1233.2 L1886.8 1235.8 L1887.0 1232.6 L1887.3 1238.1 L1887.6 1239.5 L1887.8 1236.6 L1888.1 1234.1 L1888.4 1237.0 L1888.6 1234.2 L1888.9 1236.6 L1889.2 1236.0 L1889.4 1233.4 L1889.7 1234.4 L1890.0 1230.7 L1890.2 1239.6 L1890.5 1239.8 L1890.8 1237.1 L1891.0 1238.3 L1891.3 1234.4 L1891.6 1236.0 L1891.8 1237.7 L1892.1 1237.6 L1892.4 1237.2 L1892.6 1237.5 L1892.9 1236.9 L1893.1 1238.3 L1893.4 1238.5 L1893.7 1239.1 L1893.9 1236.0 L1894.2 1236.5 L1894.4 1238.7 L1894.7 1237.4 L1895.0 1236.5 L1895.2 1238.0 L1895.5 1238.4 L1895.7 1240.6 L1896.0 1238.5 L1896.3 1237.0 L1896.5 1237.0 L1896.8 1238.5 L1897.0 1237.4 L1897.3 1236.3 L1897.5 1239.5 L1897.8 1238.8 L1898.1 1238.6 L1898.3 1239.9 L1898.6 1237.7 L1898.8 1240.1 L1899.1 1239.9 L1899.3 1239.4 L1899.6 1240.2 L1899.8 1236.1 L1900.1 1241.1 L1900.4 1238.9 L1900.6 1238.9 L1900.9 1240.6 L1901.1 1239.2 L1901.4 1238.9 L1901.6 1239.2 L1901.9 1238.9 L1902.1 1241.7 L1902.4 1239.8 L1902.6 1240.2 L1902.9 1240.3 L1903.1 1241.4 L1903.4 1239.2 L1903.6 1238.3 L1903.9 1238.1 L1904.1 1239.8 L1904.4 1241.1 L1904.6 1240.8 L1904.9 1237.7 L1905.1 1236.2 L1905.4 1241.1 L1905.6 1237.3 L1905.9 1238.0 L1906.1 1238.8 L1906.4 1239.1 L1906.6 1241.6 L1906.8 1241.9 L1907.1 1241.6 L1907.3 1239.1 L1907.6 1240.8 L1907.8 1238.3 L1908.1 1241.8 L1908.3 1238.1 L1908.6 1239.4 L1908.8 1241.0 L1909.1 1239.2 L1909.3 1241.1 L1909.5 1238.8 L1909.8 1239.9 L1910.0 1238.7 L1910.3 1243.3 L1910.5 1240.9 L1910.8 1236.7 L1911.0 1242.8 L1911.2 1241.4 L1911.5 1243.7 L1911.7 1239.7 L1912.0 1239.2 L1912.2 1242.5 L1912.4 1239.8 L1912.7 1240.2 L1912.9 1239.6 L1913.2 1242.6 L1913.4 1237.7 L1913.6 1239.2 L1913.9 1242.0 L1914.1 1239.3 L1914.4 1238.1 L1914.6 1240.4 L1914.8 1242.6 L1915.1 1237.3 L1915.3 1240.8 L1915.5 1237.6 L1915.8 1240.5" stroke="#1010ff" stroke-width="4.0"/>
<path d="M382.3 183.4 L537.4 247.0 L628.2 314.2 L692.5 422.5 L742.5 382.0 L783.3 350.0 L817.8 322.5 L847.7 384.9 L874.0 383.5 L897.6 382.3 L918.9 455.0 L938.4 558.0 L956.3 288.7 L972.9 340.0 L988.3 440.0 L1002.8 614.8 L1016.4 469.2 L1029.1 462.8 L1041.2 557.8 L1052.7 608.5 L1063.6 500.8 L1074.1 475.5 L1084.0 481.8 L1093.5 462.8 L1102.7 580.0 L1111.4 353.9 L1119.9 533.6 L1128.0 594.2 L1135.9 406.7 L1143.5 765.5 L1150.8 536.6 L1157.9 516.6 L1164.8 755.0 L1171.5 268.5 L1178.0 624.8 L1184.3 609.3 L1190.4 441.0 L1196.4 461.9 L1202.2 542.8 L1207.8 592.6 L1213.4 574.9 L1218.8 595.2 L1224.0 601.9 L1229.2 756.9 L1234.2 575.8 L1239.1 703.4 L1243.9 670.0 L1248.6 710.0 L1253.3 948.5 L1257.8 821.8 L1262.2 987.0 L1266.6 560.0 L1270.8 777.8 L1275.0 896.2 L1279.1 731.6 L1283.1 852.2 L1287.1 945.9 L1291.0 539.6 L1294.8 731.9 L1298.6 671.6 L1302.3 587.0 L1305.9 1079.5 L1309.5 974.7 L1313.0 830.3 L1316.5 795.2 L1319.9 822.6 L1323.3 961.0 L1326.6 717.7 L1329.9 874.2 L1333.1 838.0 L1336.3 966.2 L1339.4 896.4 L1342.5 983.6 L1345.5 935.8 L1348.5 848.1 L1351.5 911.6 L1354.4 942.0 L1357.3 851.4 L1360.1 801.4 L1363.0 969.8 L1365.7 1148.0 L1368.5 875.0 L1371.2 1021.9 L1373.9 894.2 L1376.5 963.5 L1379.1 1145.7 L1381.7 1251.8 L1384.3 1079.9 L1386.8 960.4 L1389.3 1127.1 L1391.8 883.8 L1394.2 960.2 L1396.7 1053.7 L1399.1 990.8 L1401.4 1074.4 L1403.8 1089.0 L1406.1 1244.8 L1408.4 991.1 L1410.7 877.7 L1412.9 930.1 L1415.1 981.6 L1417.3 1041.9 L1419.5 999.3 L1421.7 1200.6 L1423.8 1029.8 L1425.9 1058.7 L1428.0 1149.9 L1430.1 959.2 L1432.2 877.8 L1434.2 1094.4 L1436.3 1257.0 L1438.3 1116.1 L1440.3 939.0 L1442.2 1190.7 L1444.2 1130.8 L1446.1 1041.3 L1448.0 1032.0 L1449.9 1103.6 L1451.8 1098.7 L1453.7 1381.7 L1455.6 1058.9 L1457.4 1113.0 L1459.2 1209.0 L1461.0 1516.6 L1462.8 1087.4 L1464.6 1107.4 L1466.4 1275.0 L1468.1 947.7 L1469.9 1148.6 L1471.6 1200.2 L1473.3 1189.4 L1475.0 1263.3 L1476.7 1281.6 L1478.4 1496.0 L1480.1 1139.0 L1481.7 1230.4 L1483.4 1250.9 L1485.0 1205.4 L1486.6 1188.5 L1488.2 1150.0 L1489.8 1392.7 L1491.4 1306.9 L1492.9 1358.4 L1494.5 1200.1 L1496.1 1227.9 L1497.6 1302.1 L1499.1 1108.2 L1500.6 1112.0 L1502.1 1279.3 L1503.6 1308.3 L1505.1 1207.8 L1506.6 1106.2 L1508.1 1231.2 L1509.5 1249.6 L1511.0 1274.4 L1512.4 1600.0 L1513.8 1180.8 L1515.3 1067.9 L1516.7 1247.6 L1518.1 1183.6 L1519.5 1495.9 L1520.9 1213.0 L1522.2 1359.9 L1523.6 1261.4 L1525.0 1231.3 L1526.3 1231.6 L1527.7 1232.3 L1529.0 1327.2 L1530.3 1445.0 L1531.7 1211.9 L1533.0 1534.2 L1534.3 1278.0 L1535.6 1281.3 L1536.9 1448.0 L1538.1 1289.9 L1539.4 1285.5 L1540.7 1237.1 L1541.9 1303.3 L1543.2 1212.9 L1544.4 1302.7 L1545.7 1225.2 L1546.9 1273.6 L1548.1 1363.6 L1549.4 1385.7 L1550.6 1504.0 L1551.8 1246.4 L1553.0 1290.6 L1554.2 1543.2 L1555.4 1295.4 L1556.5 1220.7 L1557.7 1131.1 L1558.9 1240.3 L1560.0 1459.2 L1561.2 1226.1 L1562.4 1535.6 L1563.5 1520.6 L1564.6 1321.6 L1565.8 1319.0 L1566.9 1228.6 L1568.0 1373.4 L1569.1 1228.6 L1570.2 1372.1 L1571.4 1216.1 L1572.5 1450.9 L1573.5 1154.5 L1574.6 1375.1 L1575.7 1247.5 L1576.8 1339.9 L1577.9 1429.2 L1578.9 1250.5 L1580.0 1319.9 L1581.1 1491.0 L1582.1 1368.6 L1583.2 1461.6 L1584.2 1278.5 L1585.2 1325.8 L1586.3 1458.8 L1587.3 1323.4 L1588.3 1309.5 L1589.4 1392.8 L1590.4 1353.1 L1591.4 1431.3 L1592.4 1259.4 L1593.4 1328.4 L1594.4 1326.7 L1595.4 1403.8 L1596.4 1470.8 L1597.3 1388.0 L1598.3 1412.8 L1599.3 1340.2 L1600.3 1394.4 L1601.2 1305.3 L1602.2 1304.3 L1603.2 1325.3 L1604.1 1341.5 L1605.1 1377.8 L1606.0 1351.4 L1607.0 1514.0 L1607.9 1329.0 L1608.8 1318.4 L1609.8 1265.9 L1610.7 1463.4 L1611.6 1237.3 L1612.5 1395.9 L1613.4 1367.5 L1614.3 1339.7 L1615.3 1416.3 L1616.2 1346.0 L1617.1 1309.5 L1618.0 1448.0 L1618.9 1330.2 L1619.7 1397.8 L1620.6 1351.9 L1621.5 1369.7 L1622.4 1265.8 L1623.3 1298.5 L1624.1 1362.9 L1625.0 1487.4 L1625.9 1389.3 L1626.7 1421.5 L1627.6 1276.3 L1628.5 1336.2 L1629.3 1400.9 L1630.2 1397.8 L1631.0 1384.4 L1631.8 1433.9 L1632.7 1304.4 L1633.5 1277.9 L1634.4 1328.3 L1635.2 1325.7 L1636.0 1478.0 L1636.8 1420.0 L1637.7 1354.6 L1638.5 1412.1 L1639.3 1384.0 L1640.1 1389.9 L1640.9 1403.0 L1641.7 1416.4 L1642.5 1369.1 L1643.3 1324.2 L1644.1 1396.1 L1644.9 1359.2 L1645.7 1407.5 L1646.5 1376.1 L1647.3 1392.8 L1648.1 1340.7 L1648.8 1399.1 L1649.6 1445.3 L1650.4 1347.0 L1651.2 1399.2 L1651.9 1372.7 L1652.7 1419.9 L1653.5 1372.1 L1654.2 1394.6 L1655.0 1401.6 L1655.8 1339.3 L1656.5 1462.5 L1657.3 1451.2 L1658.0 1401.3 L1658.8 1344.8 L1659.5 1359.0 L1660.2 1346.1 L1661.0 1331.6 L1661.7 1402.9 L1662.5 1346.7 L1663.2 1417.4 L1663.9 1401.2 L1664.7 1391.0 L1665.4 1385.7 L1666.1 1323.8 L1666.8 1407.4 L1667.5 1414.9 L1668.3 1382.4 L1669.0 1417.8 L1669.7 1352.3 L1670.4 1337.0 L1671.1 1401.7 L1671.8 1424.3 L1672.5 1387.7 L1673.2 1440.1 L1673.9 1373.5 L1674.6 1432.3 L1675.3 1406.7 L1676.0 1360.1 L1676.7 1373.2 L1677.4 1358.7 L1678.0 1416.0 L1678.7 1374.6 L1679.4 1378.6 L1680.1 1396.8 L1680.8 1383.5 L1681.4 1397.7 L1682.1 1410.6 L1682.8 1374.1 L1683.5 1341.8 L1684.1 1394.4 L1684.8 1378.0 L1685.5 1403.0 L1686.1 1362.8 L1686.8 1374.0 L1687.4 1404.8 L1688.1 1358.1 L1688.7 1393.9 L1689.4 1409.8 L1690.0 1372.8 L1690.7 1415.3 L1691.3 1373.3 L1692.0 1378.0 L1692.6 1436.1 L1693.3 1371.2 L1693.9 1397.8 L1694.5 1394.1 L1695.2 1391.3 L1695.8 1371.8 L1696.4 1372.2 L1697.1 1405.3 L1697.7 1419.0 L1698.3 1371.4 L1698.9 1403.7 L1699.6 1386.3 L1700.2 1393.3 L1700.8 1449.5 L1701.4 1380.5 L1702.0 1391.1 L1702.6 1402.3 L1703.3 1412.7 L1703.9 1384.8 L1704.5 1389.5 L1705.1 1406.8 L1705.7 1403.5 L1706.3 1413.3 L1706.9 1399.7 L1707.5 1401.1 L1708.1 1410.0 L1708.7 1404.1 L1709.3 1401.5 L1709.9 1374.3 L1710.5 1409.3 L1711.1 1426.0 L1711.7 1395.4 L1712.3 1379.3 L1712.8 1430.8 L1713.4 1402.5 L1714.0 1415.5 L1714.6 1425.5 L1715.2 1393.4 L1715.7 1433.4 L1716.3 1405.7 L1716.9 1402.0 L1717.5 1391.9 L1718.0 1405.3 L1718.6 1416.6 L1719.2 1420.0 L1719.8 1425.6 L1720.3 1427.5 L1720.9 1389.6 L1721.5 1412.5 L1722.0 1442.9 L1722.6 1409.5 L1723.1 1417.7 L1723.7 1400.1 L1724.3 1416.8 L1724.8 1409.0 L1725.4 1412.6 L1725.9 1403.4 L1726.5 1431.7 L1727.0 1410.7 L1727.6 1433.3 L1728.1 1402.6 L1728.7 1391.8 L1729.2 1424.6 L1729.8 1405.0 L1730.3 1409.8 L1730.8 1454.1 L1731.4 1394.8 L1731.9 1449.8 L1732.5 1419.2 L1733.0 1407.1 L1733.5 1431.8 L1734.1 1422.2 L1734.6 1424.9 L1735.1 1436.7 L1735.7 1405.8 L1736.2 1418.3 L1736.7 1417.9 L1737.2 1432.6 L1737.8 1419.4 L1738.3 1443.0 L1738.8 1401.2 L1739.3 1418.9 L1739.8 1396.1 L1740.4 1409.5 L1740.9 1416.2 L1741.4 1409.0 L1741.9 1418.8 L1742.4 1424.0 L1742.9 1413.5 L1743.5 1442.2 L1744.0 1441.0 L1744.5 1454.4 L1745.0 1403.5 L1745.5 1411.1 L1746.0 1433.6 L1746.5 1414.2 L1747.0 1409.4 L1747.5 1425.9 L1748.0 1434.5 L1748.5 1444.5 L1749.0 1422.0 L1749.5 1423.4 L1750.0 1425.3 L1750.5 1430.1 L1751.0 1450.2 L1751.5 1437.8 L1752.0 1432.7 L1752.5 1436.9 L1753.0 1429.1 L1753.4 1435.7 L1753.9 1439.3 L1754.4 1415.7 L1754.9 1423.9 L1755.4 1422.2 L1755.9 1415.7 L1756.4 1434.9 L1756.8 1438.7 L1757.3 1426.9 L1757.8 1435.5 L1758.3 1445.2 L1758.8 1430.6 L1759.2 1438.7 L1759.7 1434.5 L1760.2 1423.9 L1760.7 1436.2 L1761.1 1426.8 L1761.6 1433.8 L1762.1 1430.1 L1762.5 1438.1 L1763.0 1438.5 L1763.5 1430.1 L1763.9 1446.2 L1764.4 1426.4 L1764.9 1424.3 L1765.3 1446.6 L1765.8 1441.9 L1766.3 1430.2 L1766.7 1450.1 L1767.2 1433.2 L1767.6 1454.7 L1768.1 1422.8 L1768.6 1426.9 L1769.0 1429.5 L1769.5 1449.9 L1769.9 1424.1 L1770.4 1447.1 L1770.8 1439.4 L1771.3 1443.4 L1771.7 1435.6 L1772.2 1449.1 L1772.6 1435.7 L1773.1 1445.4 L1773.5 1453.8 L1774.0 1417.0 L1774.4 1446.8 L1774.9 1441.2 L1775.3 1439.1 L1775.7 1442.5 L1776.2 1439.8 L1776.6 1447.2 L1777.1 1433.8 L1777.5 1445.9 L1777.9 1457.3 L1778.4 1465.8 L1778.8 1452.6 L1779.3 1443.4 L1779.7 1431.1 L1780.1 1451.5 L1780.6 1449.5 L1781.0 1442.5 L1781.4 1418.9 L1781.9 1447.4 L1782.3 1431.5 L1782.7 1441.9 L1783.1 1449.1 L1783.6 1442.3 L1784.0 1443.6 L1784.4 1445.6 L1784.8 1448.5 L1785.3 1451.4 L1785.7 1436.2 L1786.1 1435.9 L1786.5 1449.0 L1787.0 1452.5 L1787.4 1437.0 L1787.8 1439.7 L1788.2 1453.1 L1788.6 1438.6 L1789.1 1451.2 L1789.5 1455.4 L1789.9 1435.2 L1790.3 1453.6 L1790.7 1442.8 L1791.1 1449.8 L1791.5 1447.5 L1792.0 1448.2 L1792.4 1448.8 L1792.8 1445.2 L1793.2 1470.6 L1793.6 1456.5 L1794.0 1443.3 L1794.4 1442.2 L1794.8 1457.7 L1795.2 1467.9 L1795.6 1463.6 L1796.0 1448.2 L1796.4 1455.5 L1796.8 1455.3 L1797.2 1447.3 L1797.6 1446.9 L1798.0 1461.0 L1798.4 1446.3 L1798.8 1453.5 L1799.2 1451.7 L1799.6 1446.4 L1800.0 1452.3 L1800.4 1443.8 L1800.8 1451.8 L1801.2 1444.7 L1801.6 1437.2 L1802.0 1461.8 L1802.4 1453.5 L1802.8 1445.6 L1803.2 1464.1 L1803.6 1456.0 L1804.0 1455.4 L1804.4 1456.1 L1804.7 1448.9 L1805.1 1456.4 L1805.5 1438.6 L1805.9 1457.6 L1806.3 1458.0 L1806.7 1456.3 L1807.1 1448.2 L1807.4 1468.8 L1807.8 1458.8 L1808.2 1448.7 L1808.6 1460.7 L1809.0 1462.6 L1809.4 1443.3 L1809.7 1453.2 L1810.1 1459.9 L1810.5 1466.3 L1810.9 1441.7 L1811.3 1453.7 L1811.6 1458.6 L1812.0 1439.4 L1812.4 1455.5 L1812.8 1457.5 L1813.1 1465.2 L1813.5 1461.9 L1813.9 1472.4 L1814.3 1452.4 L1814.6 1461.2 L1815.0 1460.1 L1815.4 1463.4 L1815.7 1465.1 L1816.1 1455.5 L1816.5 1461.8 L1816.8 1452.3 L1817.2 1458.0 L1817.6 1456.2 L1817.9 1455.3 L1818.3 1465.6 L1818.7 1444.8 L1819.0 1469.1 L1819.4 1463.7 L1819.8 1461.2 L1820.1 1461.0 L1820.5 1459.2 L1820.9 1465.8 L1821.2 1472.3 L1821.6 1468.3 L1821.9 1457.5 L1822.3 1456.5 L1822.7 1467.6 L1823.0 1455.6 L1823.4 1459.5 L1823.7 1464.5 L1824.1 1459.8 L1824.4 1461.7 L1824.8 1468.1 L1825.2 1460.8 L1825.5 1460.9 L1825.9 1462.0 L1826.2 1465.6 L1826.6 1464.7 L1826.9 1474.4 L1827.3 1471.0 L1827.6 1475.4 L1828.0 1464.6 L1828.3 1469.4 L1828.7 1462.7 L1829.0 1472.5 L1829.4 1470.8 L1829.7 1478.4 L1830.1 1463.3 L1830.4 1472.7 L1830.8 1461.0 L1831.1 1467.9 L1831.4 1484.2 L1831.8 1477.4 L1832.1 1469.0 L1832.5 1464.7 L1832.8 1478.2 L1833.2 1467.6 L1833.5 1459.6 L1833.9 1468.8 L1834.2 1473.9 L1834.5 1461.5 L1834.9 1476.9 L1835.2 1472.4 L1835.5 1466.5 L1835.9 1465.4 L1836.2 1467.7 L1836.6 1468.7 L1836.9 1468.8 L1837.2 1475.1 L1837.6 1471.6 L1837.9 1471.2 L1838.2 1460.8 L1838.6 1465.2 L1838.9 1474.1 L1839.2 1472.4 L1839.6 1476.0 L1839.9 1472.4 L1840.2 1464.3 L1840.6 1467.8 L1840.9 1471.6 L1841.2 1477.4 L1841.6 1470.9 L1841.9 1474.6 L1842.2 1472.5 L1842.5 1474.3 L1842.9 1470.6 L1843.2 1480.7 L1843.5 1481.6 L1843.9 1480.6 L1844.2 1488.9 L1844.5 1473.3 L1844.8 1477.6 L1845.2 1475.6 L1845.5 1483.6 L1845.8 1477.6 L1846.1 1470.3 L1846.5 1466.1 L1846.8 1478.9 L1847.1 1470.7 L1847.4 1475.7 L1847.7 1487.9 L1848.1 1477.6 L1848.4 1466.6 L1848.7 1485.0 L1849.0 1474.8 L1849.3 1476.5 L1849.7 1485.3 L1850.0 1474.5 L1850.3 1475.8 L1850.6 1479.9 L1850.9 1483.2 L1851.2 1474.9 L1851.6 1478.0 L1851.9 1479.2 L1852.2 1477.4 L1852.5 1477.8 L1852.8 1480.5 L1853.1 1477.7 L1853.4 1486.0 L1853.7 1478.8 L1854.1 1490.5 L1854.4 1473.5 L1854.7 1481.9 L1855.0 1484.5 L1855.3 1482.7 L1855.6 1482.9 L1855.9 1484.1 L1856.2 1479.8 L1856.5 1477.0 L1856.8 1483.2 L1857.2 1483.7 L1857.5 1475.6 L1857.8 1474.2 L1858.1 1475.1 L1858.4 1488.1 L1858.7 1472.2 L1859.0 1473.2 L1859.3 1477.1 L1859.6 1483.1 L1859.9 1478.4 L1860.2 1479.2 L1860.5 1485.0 L1860.8 1477.7 L1861.1 1472.4 L1861.4 1479.8 L1861.7 1483.3 L1862.0 1485.8 L1862.3 1486.9 L1862.6 1476.4 L1862.9 1482.0 L1863.2 1479.0 L1863.5 1487.2 L1863.8 1474.5 L1864.1 1489.9 L1864.4 1480.1 L1864.7 1483.4 L1865.0 1488.9 L1865.3 1484.0 L1865.6 1479.5 L1865.9 1485.5 L1866.2 1491.4 L1866.5 1478.7 L1866.8 1487.6 L1867.1 1493.1 L1867.4 1481.3 L1867.7 1487.7 L1868.0 1483.6 L1868.3 1483.3 L1868.5 1484.5 L1868.8 1486.4 L1869.1 1484.7 L1869.4 1485.5 L1869.7 1482.4 L1870.0 1492.4 L1870.3 1479.5 L1870.6 1488.2 L1870.9 1490.1 L1871.2 1487.4 L1871.4 1484.3 L1871.7 1481.5 L1872.0 1485.5 L1872.3 1485.9 L1872.6 1486.6 L1872.9 1483.9 L1873.2 1487.3 L1873.5 1482.6 L1873.7 1486.5 L1874.0 1481.5 L1874.3 1490.4 L1874.6 1492.4 L1874.9 1484.3 L1875.2 1487.7 L1875.4 1482.7 L1875.7 1490.5 L1876.0 1490.6 L1876.3 1484.5 L1876.6 1490.5 L1876.9 1487.7 L1877.1 1485.8 L1877.4 1489.2 L1877.7 1484.2 L1878.0 1486.0 L1878.3 1485.5 L1878.5 1484.9 L1878.8 1483.2 L1879.1 1484.1 L1879.4 1479.0 L1879.7 1487.1 L1879.9 1487.0 L1880.2 1484.1 L1880.5 1488.4 L1880.8 1486.7 L1881.0 1485.2 L1881.3 1487.5 L1881.6 1491.9 L1881.9 1490.5 L1882.1 1489.3 L1882.4 1484.3 L1882.7 1491.5 L1883.0 1493.4 L1883.2 1490.2 L1883.5 1490.1 L1883.8 1489.6 L1884.1 1489.2 L1884.3 1486.1 L1884.6 1492.3 L1884.9 1489.7 L1885.1 1489.3 L1885.4 1493.1 L1885.7 1487.8 L1886.0 1494.0 L1886.2 1488.7 L1886.5 1485.6 L1886.8 1493.1 L1887.0 1492.2 L1887.3 1488.6 L1887.6 1489.2 L1887.8 1490.0 L1888.1 1486.5 L1888.4 1492.0 L1888.6 1491.6 L1888.9 1496.1 L1889.2 1490.3 L1889.4 1491.4 L1889.7 1489.3 L1890.0 1489.3 L1890.2 1489.5 L1890.5 1493.5 L1890.8 1491.6 L1891.0 1491.1 L1891.3 1490.3 L1891.6 1491.2 L1891.8 1495.0 L1892.1 1489.8 L1892.4 1493.1 L1892.6 1492.3 L1892.9 1494.8 L1893.1 1491.5 L1893.4 1493.7 L1893.7 1494.8 L1893.9 1492.1 L1894.2 1490.9 L1894.4 1490.4 L1894.7 1494.1 L1895.0 1491.9 L1895.2 1489.7 L1895.5 1496.9 L1895.7 1498.2 L1896.0 1493.7 L1896.3 1495.1 L1896.5 1495.2 L1896.8 1497.9 L1897.0 1490.9 L1897.3 1496.4 L1897.5 1495.4 L1897.8 1492.6 L1898.1 1494.3 L1898.3 1494.3 L1898.6 1496.5 L1898.8 1497.0 L1899.1 1494.7 L1899.3 1497.1 L1899.6 1493.9 L1899.8 1493.7 L1900.1 1496.7 L1900.4 1496.7 L1900.6 1499.3 L1900.9 1496.3 L1901.1 1494.9 L1901.4 1491.6 L1901.6 1491.0 L1901.9 1495.1 L1902.1 1492.4 L1902.4 1493.3 L1902.6 1498.8 L1902.9 1494.6 L1903.1 1493.4 L1903.4 1498.1 L1903.6 1497.5 L1903.9 1492.0 L1904.1 1495.1 L1904.4 1495.8 L1904.6 1494.9 L1904.9 1493.0 L1905.1 1497.7 L1905.4 1495.6 L1905.6 1497.3 L1905.9 1496.0 L1906.1 1497.5 L1906.4 1496.6 L1906.6 1491.4 L1906.8 1494.9 L1907.1 1496.1 L1907.3 1494.8 L1907.6 1497.6 L1907.8 1493.0 L1908.1 1496.1 L1908.3 1497.3 L1908.6 1494.7 L1908.8 1494.6 L1909.1 1497.1 L1909.3 1494.3 L1909.5 1494.7 L1909.8 1494.4 L1910.0 1497.0 L1910.3 1495.1 L1910.5 1497.2 L1910.8 1495.5 L1911.0 1498.2 L1911.2 1495.4 L1911.5 1497.0 L1911.7 1496.5 L1912.0 1496.5 L1912.2 1498.0 L1912.4 1497.4 L1912.7 1495.3 L1912.9 1496.0 L1913.2 1493.0 L1913.4 1497.1 L1913.6 1497.3 L1913.9 1494.9 L1914.1 1499.4 L1914.4 1498.4 L1914.6 1496.0 L1914.8 1497.6 L1915.1 1495.8 L1915.3 1495.6 L1915.5 1495.8 L1915.8 1501.0" stroke="#4a4a4a" stroke-width="4.0"/>
</g>
<line x1="794.3" y1="68.5" x2="1910.5" y2="1570.1" stroke="#000" stroke-width="7"/>
<path d="M223.3 39.7 H1913.0 V1591.5 H223.3 Z" fill="none" stroke="#000" stroke-width="8.2" stroke-linejoin="miter"/>
<text transform="translate(125.3,1558.4) scale(1,1.06)" font-family="Liberation Serif, serif" font-size="61">10</text>
<text x="181.7" y="1529.2" font-family="Liberation Serif, serif" font-size="35">1</text>
<text transform="translate(125.3,1142.5) scale(1,1.06)" font-family="Liberation Serif, serif" font-size="61">10</text>
<text x="181.7" y="1113.3" font-family="Liberation Serif, serif" font-size="35">2</text>
<text transform="translate(125.3,726.6) scale(1,1.06)" font-family="Liberation Serif, serif" font-size="61">10</text>
<text x="181.7" y="697.4" font-family="Liberation Serif, serif" font-size="35">3</text>
<text transform="translate(125.3,310.7) scale(1,1.06)" font-family="Liberation Serif, serif" font-size="61">10</text>
<text x="181.7" y="281.5" font-family="Liberation Serif, serif" font-size="35">4</text>
<text transform="translate(329.7,1654.5) scale(1,1.06)" font-family="Liberation Serif, serif" font-size="61">10</text>
<text x="386.7" y="1624.9" font-family="Liberation Serif, serif" font-size="35">2</text>
<text transform="translate(845.0,1654.5) scale(1,1.06)" font-family="Liberation Serif, serif" font-size="61">10</text>
<text x="902.0" y="1624.9" font-family="Liberation Serif, serif" font-size="35">3</text>
<text transform="translate(1360.3,1654.5) scale(1,1.06)" font-family="Liberation Serif, serif" font-size="61">10</text>
<text x="1417.3" y="1624.9" font-family="Liberation Serif, serif" font-size="35">4</text>
<text transform="translate(1875.6,1654.5) scale(1,1.06)" font-family="Liberation Serif, serif" font-size="61">10</text>
<text x="1932.6" y="1624.9" font-family="Liberation Serif, serif" font-size="35">5</text>
<text x="906" y="1722.6" font-family="Liberation Serif, serif" font-weight="bold" font-size="72">Frequency</text>
<text transform="translate(89.7,1196) rotate(-90)" font-family="Liberation Serif, serif" font-weight="bold" font-size="72">Power Spectral Densities</text>
<line x1="1311" y1="143.4" x2="1585" y2="143.4" stroke="#d40000" stroke-width="3.8"/>
<line x1="1311" y1="215.8" x2="1585" y2="215.8" stroke="#00cc00" stroke-width="3.8"/>
<line x1="1311" y1="288.0" x2="1585" y2="288.0" stroke="#2020ff" stroke-width="3.8"/>
<line x1="1311" y1="360.2" x2="1585" y2="360.2" stroke="#505050" stroke-width="3.8"/>
<line x1="1311" y1="433.5" x2="1585" y2="433.5" stroke="#000" stroke-width="7.8"/>
<text x="1630.5" y="161.6" font-family="Liberation Serif, serif" font-weight="bold" font-size="59.6">Point 1</text>
<text x="1630.5" y="234.5" font-family="Liberation Serif, serif" font-weight="bold" font-size="59.6">Point 2</text>
<text x="1630.5" y="307.4" font-family="Liberation Serif, serif" font-weight="bold" font-size="59.6">Point 3</text>
<text x="1630.5" y="380.3" font-family="Liberation Serif, serif" font-weight="bold" font-size="59.6">Point 4</text>
<text x="1626.4" y="461.2" font-family="Liberation Serif, serif" font-size="80">−</text>
<text x="1671" y="453.2" font-family="Liberation Serif, serif" font-weight="bold" font-size="59.6">5/3 Law</text>
</g>
</svg></body></html>
